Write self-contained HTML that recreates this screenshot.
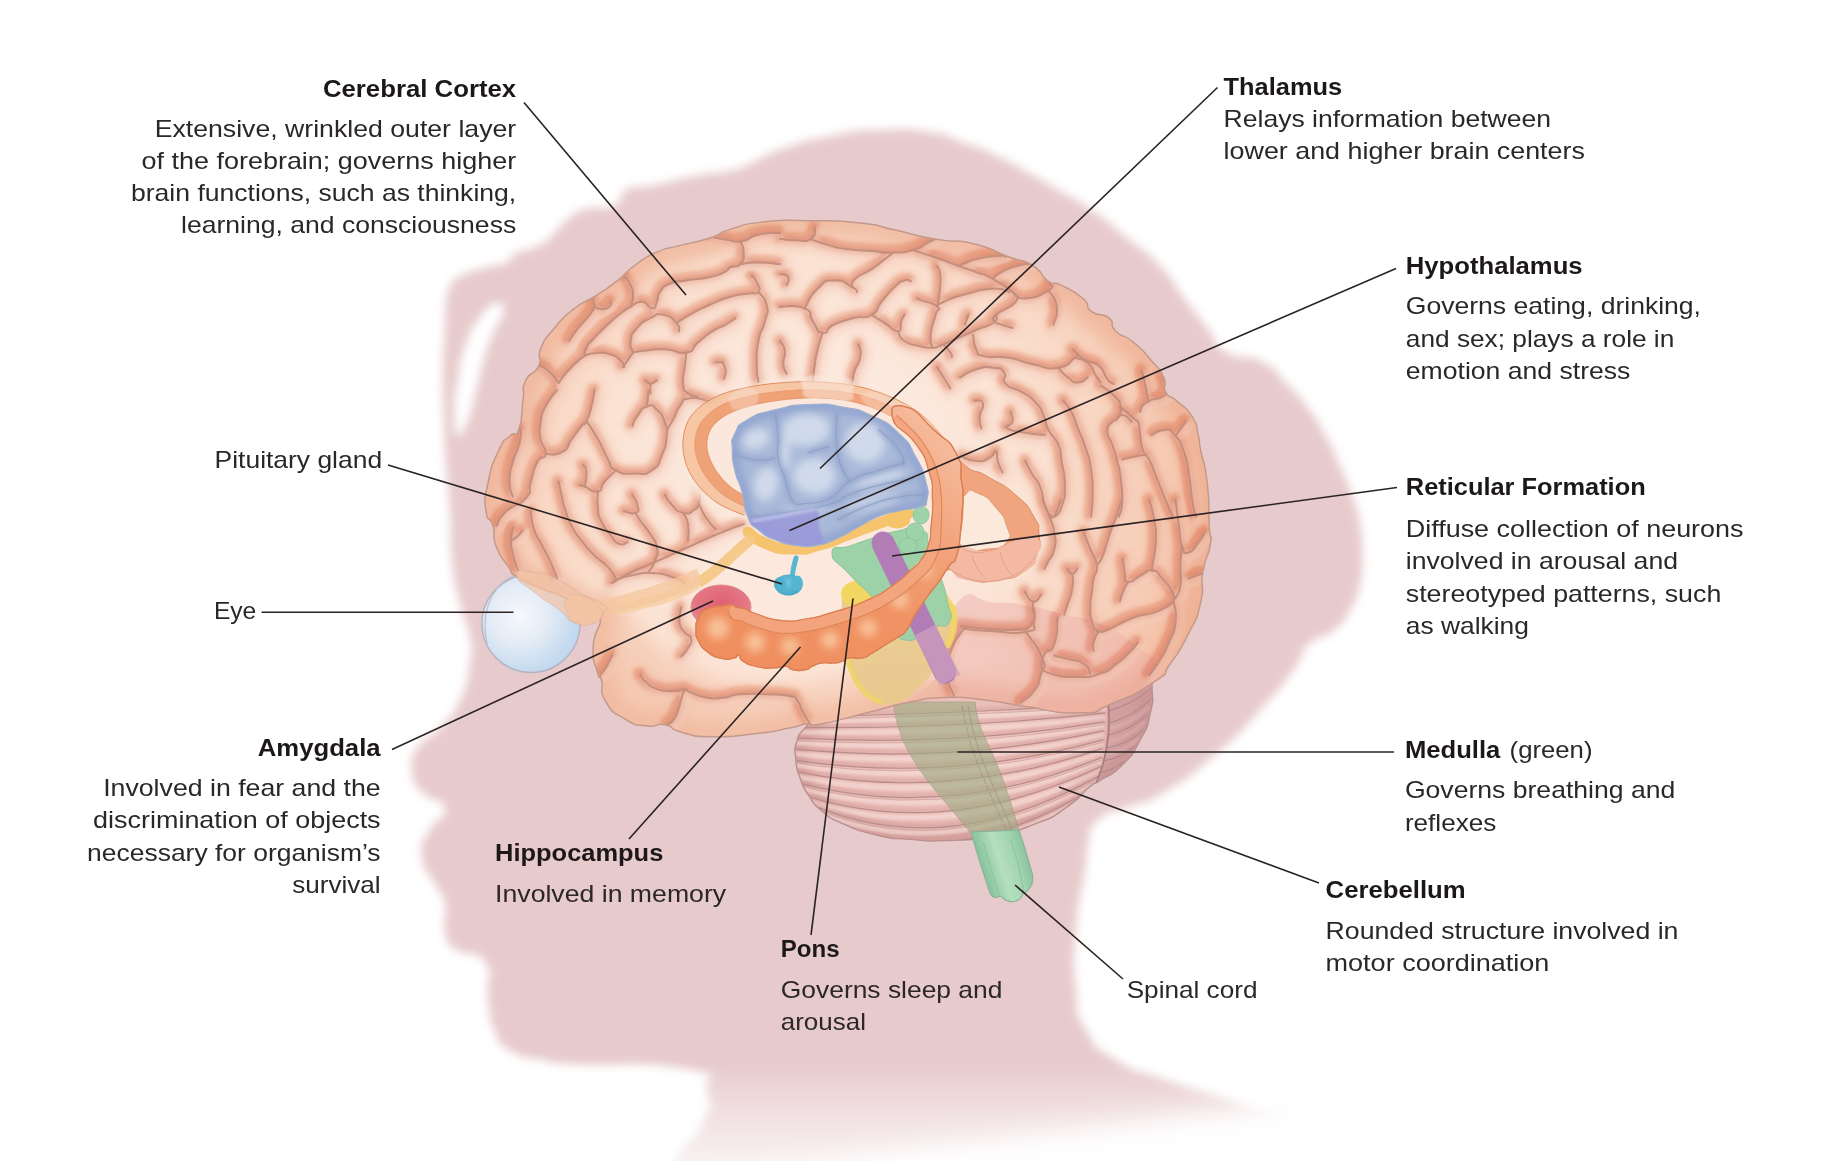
<!DOCTYPE html><html><head><meta charset="utf-8"><title>Brain structures</title>
<style>html,body{margin:0;padding:0;background:#fff}svg{display:block}text{font-family:"Liberation Sans",sans-serif}</style></head><body>
<svg width="1832" height="1161" viewBox="0 0 1832 1161">
<defs>
<filter id="bl6" x="-10%" y="-10%" width="120%" height="120%"><feGaussianBlur stdDeviation="5"/></filter>
<filter id="bl07" x="-10%" y="-10%" width="120%" height="120%"><feGaussianBlur stdDeviation="0.7"/></filter>
<filter id="bl05" x="-10%" y="-10%" width="120%" height="120%"><feGaussianBlur stdDeviation="0.5"/></filter>
<filter id="bl1" x="-10%" y="-10%" width="120%" height="120%"><feGaussianBlur stdDeviation="1"/></filter>
<filter id="bl2" x="-10%" y="-10%" width="120%" height="120%"><feGaussianBlur stdDeviation="2"/></filter>
<filter id="bl3" x="-10%" y="-10%" width="120%" height="120%"><feGaussianBlur stdDeviation="3"/></filter>
<filter id="bl4" x="-10%" y="-10%" width="120%" height="120%"><feGaussianBlur stdDeviation="4"/></filter>
<filter id="bl8" x="-20%" y="-20%" width="140%" height="140%"><feGaussianBlur stdDeviation="8"/></filter>
<filter id="bl14" x="-30%" y="-30%" width="160%" height="160%"><feGaussianBlur stdDeviation="14"/></filter>
<linearGradient id="silfade" gradientUnits="userSpaceOnUse" x1="0" y1="1062" x2="0" y2="1161"><stop offset="0" stop-color="#fff" stop-opacity="0"/><stop offset="0.5" stop-color="#fff" stop-opacity="0.4"/><stop offset="1" stop-color="#fff" stop-opacity="0.72"/></linearGradient>
<radialGradient id="eyeg" cx="0.38" cy="0.42" r="0.68"><stop offset="0" stop-color="#f6f8fc"/><stop offset="0.4" stop-color="#e6edf6"/><stop offset="0.8" stop-color="#c8dcf0"/><stop offset="1" stop-color="#bdd5ee"/></radialGradient>
<radialGradient id="braing" gradientUnits="userSpaceOnUse" cx="820" cy="480" r="430"><stop offset="0" stop-color="#fdf0e8"/><stop offset="0.5" stop-color="#fbe3d4"/><stop offset="0.82" stop-color="#f6cab2"/><stop offset="1" stop-color="#f1b397"/></radialGradient>
<radialGradient id="thalg" gradientUnits="userSpaceOnUse" cx="820" cy="450" r="110"><stop offset="0" stop-color="#c9d5e8"/><stop offset="0.65" stop-color="#afc0dc"/><stop offset="1" stop-color="#94a9d2"/></radialGradient>
<radialGradient id="amyg" cx="0.5" cy="0.4" r="0.6"><stop offset="0" stop-color="#df6274"/><stop offset="0.7" stop-color="#e47684"/><stop offset="1" stop-color="#e88f95"/></radialGradient>
<radialGradient id="pitg" cx="0.45" cy="0.4" r="0.6"><stop offset="0" stop-color="#6cc4dc"/><stop offset="1" stop-color="#45a8c8"/></radialGradient>
<linearGradient id="cordg" gradientUnits="userSpaceOnUse" x1="985" y1="870" x2="1030" y2="856"><stop offset="0" stop-color="#8cc6a0"/><stop offset="0.35" stop-color="#b5dfc0"/><stop offset="0.7" stop-color="#a2d4b0"/><stop offset="1" stop-color="#86bf9a"/></linearGradient>
<radialGradient id="cblg" gradientUnits="userSpaceOnUse" cx="950" cy="740" r="200"><stop offset="0" stop-color="#eec5bf"/><stop offset="0.7" stop-color="#e6b5b0"/><stop offset="1" stop-color="#d7a19f"/></radialGradient>
<linearGradient id="hipg" gradientUnits="userSpaceOnUse" x1="700" y1="680" x2="965" y2="415"><stop offset="0" stop-color="#ef8e5e"/><stop offset="0.5" stop-color="#f09263"/><stop offset="0.7" stop-color="#f2a179"/><stop offset="0.85" stop-color="#f4b391"/><stop offset="1" stop-color="#f7c4a8"/></linearGradient>
<filter id="puff" filterUnits="userSpaceOnUse" x="470" y="205" width="760" height="550" color-interpolation-filters="sRGB">
<feGaussianBlur in="SourceAlpha" stdDeviation="3.2" result="b"/>
<feDiffuseLighting in="b" surfaceScale="-4" diffuseConstant="1" lighting-color="#ffffff" result="l"><feDistantLight azimuth="230" elevation="50"/></feDiffuseLighting>
<feComponentTransfer in="l"><feFuncR type="linear" slope="1.5" intercept="-0.649"/><feFuncG type="linear" slope="1.5" intercept="-0.649"/><feFuncB type="linear" slope="1.5" intercept="-0.649"/></feComponentTransfer>
</filter>
<clipPath id="cbclip"><path d="M583.0,611.0 C571.4,605.0 579.3,605.7 565.0,598.0 C550.7,590.3 556.0,595.0 540.0,588.0 C524.0,581.0 527.7,584.3 517.0,577.0 C506.3,569.7 515.0,576.3 508.0,566.0 C501.0,555.7 501.0,559.3 496.0,546.0 C491.0,532.7 496.3,537.7 493.0,526.0 C489.7,514.3 487.7,525.3 486.0,511.0 C484.3,496.7 483.7,503.3 488.0,483.0 C492.3,462.7 491.7,465.7 499.0,450.0 C506.3,434.3 503.3,443.0 510.0,436.0 C516.7,429.0 514.7,441.0 519.0,429.0 C523.3,417.0 520.8,416.0 523.0,400.0 C525.2,384.0 520.3,392.3 525.5,381.0 C530.7,369.7 533.5,376.8 538.6,366.0 C543.7,355.2 535.7,360.9 540.8,348.5 C545.9,336.1 543.0,341.9 553.9,328.8 C564.8,315.7 559.7,320.1 573.5,309.2 C587.3,298.3 580.8,305.5 595.4,296.0 C610.0,286.5 604.1,291.0 617.2,280.8 C630.3,270.6 621.6,275.0 634.7,265.5 C647.8,256.0 642.0,258.9 656.5,252.4 C671.0,245.9 660.8,250.6 678.3,245.9 C695.8,241.2 690.7,244.0 708.9,238.2 C727.1,232.4 714.0,233.9 732.9,228.4 C751.8,222.9 740.2,224.4 765.7,221.8 C791.2,219.2 777.9,220.3 809.3,220.7 C840.7,221.1 832.2,220.0 860.0,222.9 C887.8,225.8 867.3,224.0 892.8,229.5 C918.3,235.0 909.5,234.6 936.4,239.3 C963.3,244.0 949.5,237.9 973.5,243.7 C997.5,249.5 988.8,249.5 1008.5,256.8 C1028.2,264.1 1019.4,257.5 1032.5,265.5 C1045.6,273.5 1038.3,274.2 1047.8,280.8 C1057.3,287.4 1049.3,279.4 1060.9,285.2 C1072.5,291.0 1072.5,289.6 1082.7,298.3 C1092.9,307.0 1082.7,304.9 1091.4,311.4 C1100.1,317.9 1100.9,311.4 1108.9,317.9 C1116.9,324.4 1107.5,323.0 1115.5,331.0 C1123.5,339.0 1121.3,332.4 1132.9,341.9 C1144.5,351.4 1140.2,347.7 1150.4,359.4 C1160.6,371.1 1158.4,366.0 1163.5,376.9 C1168.6,387.8 1161.3,384.1 1165.7,392.1 C1170.1,400.1 1167.9,392.9 1176.6,400.9 C1185.3,408.9 1184.6,404.6 1191.9,416.2 C1199.2,427.8 1195.5,424.5 1198.4,435.8 C1201.3,447.1 1197.7,434.3 1200.6,450.0 C1203.5,465.7 1204.3,457.3 1207.2,482.8 C1210.1,508.3 1208.2,506.0 1209.3,526.4 C1210.4,546.8 1212.6,528.6 1210.4,543.9 C1208.2,559.2 1206.1,552.7 1202.8,572.3 C1199.5,591.9 1205.7,581.7 1200.6,602.8 C1195.5,623.9 1197.7,615.2 1187.5,635.6 C1177.3,656.0 1180.9,648.7 1170.0,664.0 C1159.1,679.3 1174.4,668.1 1154.8,681.4 C1135.2,694.7 1136.6,693.5 1111.1,704.0 C1085.6,714.5 1107.4,712.1 1078.3,712.8 C1049.2,713.5 1054.9,710.5 1023.8,706.2 C992.7,701.9 1010.5,702.9 985.0,700.0 C959.5,697.1 972.3,696.8 947.3,697.5 C922.3,698.2 935.8,697.2 910.0,702.0 C884.2,706.8 899.3,704.8 870.0,712.0 C840.7,719.2 843.1,719.8 822.0,723.7 C800.9,727.6 817.6,722.3 806.7,723.7 C795.8,725.1 806.0,724.7 789.3,728.0 C772.6,731.3 782.0,730.6 756.5,733.5 C731.0,736.4 737.5,737.2 712.8,736.8 C688.1,736.4 698.3,736.4 682.3,732.4 C666.3,728.4 676.5,727.0 664.8,724.8 C653.1,722.6 660.4,727.7 647.3,725.9 C634.2,724.1 639.3,727.3 625.5,719.3 C611.7,711.3 613.9,714.9 605.9,701.8 C597.9,688.7 604.3,689.7 601.5,680.0 C598.7,670.3 600.4,683.9 597.6,672.7 C594.8,661.5 592.5,665.4 593.2,646.5 C593.9,627.6 603.1,627.7 599.7,615.9 C596.3,604.1 594.6,617.0 583.0,611.0Z"/></clipPath>
<clipPath id="clclip"><path d="M830.0,700.0 C805.6,715.3 817.7,712.2 806.7,725.9 C795.7,739.6 800.5,730.2 796.9,741.1 C793.3,752.0 794.7,746.2 795.8,758.6 C796.9,771.0 795.8,765.9 800.2,778.3 C804.6,790.7 801.6,784.8 808.9,795.7 C816.2,806.6 810.4,801.5 822.0,811.0 C833.6,820.5 825.6,816.1 843.8,824.1 C862.0,832.1 854.8,829.9 876.6,835.0 C898.4,840.1 885.7,837.6 909.3,839.4 C932.9,841.2 920.1,841.6 947.3,840.5 C974.5,839.4 961.9,841.6 991.0,836.1 C1020.1,830.6 1009.2,833.9 1034.7,824.1 C1060.2,814.3 1049.2,819.0 1067.4,806.6 C1085.6,794.2 1078.4,795.7 1089.3,787.0 C1100.2,778.3 1089.3,787.7 1100.2,780.4 C1111.1,773.1 1108.9,778.3 1122.0,765.2 C1135.1,752.1 1130.0,758.6 1139.5,741.1 C1149.0,723.6 1146.2,731.2 1150.4,712.8 C1154.6,694.4 1152.1,703.6 1152.0,686.0 C1151.9,668.4 1157.3,676.7 1150.0,660.0 C1142.7,643.3 1148.3,650.0 1130.0,636.0 C1111.7,622.0 1121.7,627.3 1095.0,618.0 C1068.3,608.7 1081.7,613.0 1050.0,608.0 C1018.3,603.0 1030.0,604.7 1000.0,603.0 C970.0,601.3 978.3,595.7 960.0,603.0 C941.7,610.3 958.3,606.0 945.0,625.0 C931.7,644.0 941.7,641.7 920.0,660.0 C898.3,678.3 910.0,666.7 880.0,680.0 C850.0,693.3 854.4,684.7 830.0,700.0Z"/></clipPath>
<clipPath id="tlclip"><path d="M614.0,579.6 C599.3,592.6 607.5,591.0 601.0,609.0 C594.5,627.0 596.9,619.5 594.4,633.7 C591.9,647.9 592.5,639.2 593.6,651.7 C594.7,664.2 594.2,660.4 597.7,671.3 C601.2,682.2 600.4,675.2 604.2,684.4 C608.0,693.6 603.1,689.7 609.0,699.0 C614.9,708.3 612.7,704.9 622.0,712.3 C631.3,719.7 626.6,717.5 637.0,721.3 C647.4,725.1 643.5,723.5 653.3,723.7 C663.1,723.9 659.8,720.9 666.4,722.0 C673.0,723.1 664.8,723.1 673.0,727.0 C681.2,730.9 676.8,730.6 691.0,733.6 C705.2,736.6 696.5,735.7 715.6,736.0 C734.7,736.3 726.5,736.3 748.3,734.4 C770.1,732.5 763.0,733.3 781.0,730.3 C799.0,727.3 788.6,728.5 802.3,725.4 C816.0,722.3 802.8,725.5 822.0,721.0 C841.2,716.5 832.3,718.3 860.0,712.0 C887.7,705.7 881.7,709.3 905.0,702.0 C928.3,694.7 921.7,707.3 930.0,690.0 C938.3,672.7 943.3,660.0 930.0,650.0 C916.7,640.0 916.7,652.7 890.0,660.0 C863.3,667.3 880.0,665.3 850.0,672.0 C820.0,678.7 833.3,678.7 800.0,680.0 C766.7,681.3 778.3,680.0 750.0,676.0 C721.7,672.0 733.3,676.7 715.0,668.0 C696.7,659.3 704.0,664.3 695.0,650.0 C686.0,635.7 686.3,641.7 688.0,625.0 C689.7,608.3 694.3,613.3 700.0,600.0 C705.7,586.7 711.7,594.3 705.0,585.0 C698.3,575.7 700.0,577.0 680.0,572.0 C660.0,567.0 667.0,567.5 645.0,570.0 C623.0,572.5 628.7,566.6 614.0,579.6Z"/></clipPath>
<clipPath id="thclip"><path d="M732.4,450.0 C732.4,437.6 729.9,443.7 735.0,433.6 C740.1,423.5 734.3,427.7 747.6,419.8 C760.9,411.9 754.3,415.1 775.0,410.0 C795.7,404.9 786.6,405.5 809.6,404.6 C832.6,403.7 823.3,403.7 844.0,407.4 C864.7,411.1 853.3,407.0 871.6,415.7 C889.9,424.4 884.3,419.8 899.0,433.6 C913.7,447.4 906.9,441.4 915.7,457.0 C924.5,472.6 921.7,466.2 925.4,480.5 C929.1,494.8 928.6,491.1 926.8,499.8 C925.0,508.5 929.3,503.0 920.0,506.7 C910.7,510.4 912.8,507.6 899.0,510.8 C885.2,514.0 892.2,510.8 878.5,516.3 C864.8,521.8 871.6,519.9 857.8,527.3 C844.0,534.7 850.8,532.4 837.0,538.4 C823.2,544.4 830.2,543.0 816.5,545.3 C802.8,547.6 809.6,547.2 795.8,545.3 C782.0,543.4 787.4,544.8 775.0,539.7 C762.6,534.6 767.7,537.8 758.6,530.0 C749.5,522.2 753.1,529.1 747.6,516.3 C742.1,503.5 746.2,506.7 742.0,491.5 C737.8,476.3 738.2,484.6 735.0,470.8 C731.8,457.0 732.4,462.4 732.4,450.0Z"/></clipPath>
</defs>
<rect width="1832" height="1161" fill="#fff"/>
<g filter="url(#bl6)"><path d="M445.0,330.0 C446.0,307.0 444.3,319.3 446.0,305.0 C447.7,290.7 445.0,296.7 450.0,287.0 C455.0,277.3 449.3,282.3 461.0,276.0 C472.7,269.7 469.3,272.7 485.0,268.0 C500.7,263.3 498.0,266.7 508.0,262.0 C518.0,257.3 503.7,260.0 515.0,254.0 C526.3,248.0 527.7,252.3 542.0,244.0 C556.3,235.7 547.7,238.7 558.0,229.0 C568.3,219.3 563.3,221.7 573.0,215.0 C582.7,208.3 572.7,212.3 587.0,209.0 C601.3,205.7 603.0,211.3 616.0,205.0 C629.0,198.7 612.7,196.7 626.0,190.0 C639.3,183.3 633.0,189.7 656.0,185.0 C679.0,180.3 669.0,181.0 695.0,176.0 C721.0,171.0 714.3,174.7 734.0,170.0 C753.7,165.3 738.0,169.0 754.0,162.0 C770.0,155.0 756.3,157.7 782.0,149.0 C807.7,140.3 798.3,142.3 831.0,136.0 C863.7,129.7 847.3,131.3 880.0,130.0 C912.7,128.7 901.7,128.0 929.0,132.0 C956.3,136.0 940.0,134.3 962.0,142.0 C984.0,149.7 973.3,145.0 995.0,155.0 C1016.7,165.0 1005.3,160.0 1027.0,172.0 C1048.7,184.0 1038.0,178.0 1060.0,191.0 C1082.0,204.0 1071.0,195.7 1093.0,211.0 C1115.0,226.3 1103.7,218.7 1126.0,237.0 C1148.3,255.3 1140.7,245.7 1160.0,266.0 C1179.3,286.3 1168.0,277.0 1184.0,298.0 C1200.0,319.0 1194.0,311.0 1208.0,329.0 C1222.0,347.0 1208.0,341.0 1226.0,352.0 C1244.0,363.0 1242.3,352.0 1262.0,362.0 C1281.7,372.0 1270.0,367.0 1285.0,382.0 C1300.0,397.0 1293.7,389.3 1307.0,407.0 C1320.3,424.7 1314.0,415.3 1325.0,435.0 C1336.0,454.7 1331.0,446.0 1340.0,466.0 C1349.0,486.0 1345.3,475.3 1352.0,495.0 C1358.7,514.7 1356.7,505.0 1360.0,525.0 C1363.3,545.0 1362.0,535.3 1362.0,555.0 C1362.0,574.7 1364.0,565.7 1360.0,584.0 C1356.0,602.3 1358.7,594.7 1350.0,610.0 C1341.3,625.3 1348.0,618.3 1334.0,630.0 C1320.0,641.7 1321.3,632.0 1308.0,645.0 C1294.7,658.0 1309.3,648.0 1294.0,669.0 C1278.7,690.0 1288.0,679.7 1262.0,708.0 C1236.0,736.3 1249.0,725.7 1216.0,754.0 C1183.0,782.3 1191.3,775.7 1163.0,793.0 C1134.7,810.3 1152.7,797.0 1131.0,806.0 C1109.3,815.0 1112.3,807.0 1098.0,820.0 C1083.7,833.0 1092.3,828.3 1088.0,845.0 C1083.7,861.7 1089.0,841.7 1085.0,870.0 C1081.0,898.3 1079.0,890.0 1076.0,930.0 C1073.0,970.0 1072.7,956.7 1076.0,990.0 C1079.3,1023.3 1072.7,1006.7 1086.0,1030.0 C1099.3,1053.3 1089.3,1043.3 1116.0,1060.0 C1142.7,1076.7 1124.3,1065.0 1166.0,1080.0 C1207.7,1095.0 1196.3,1088.3 1241.0,1105.0 C1285.7,1121.7 1280.3,1098.3 1300.0,1130.0 C1319.7,1161.7 1513.3,1176.7 1300.0,1200.0 C1086.7,1223.3 868.3,1213.0 660.0,1200.0 C451.7,1187.0 661.0,1186.3 675.0,1161.0 C689.0,1135.7 691.3,1147.3 702.0,1124.0 C712.7,1100.7 712.3,1109.3 707.0,1091.0 C701.7,1072.7 731.3,1078.0 686.0,1069.0 C640.7,1060.0 618.3,1067.0 571.0,1064.0 C523.7,1061.0 564.0,1064.3 544.0,1060.0 C524.0,1055.7 527.3,1060.7 511.0,1051.0 C494.7,1041.3 502.7,1048.7 495.0,1031.0 C487.3,1013.3 491.3,1021.0 488.0,998.0 C484.7,975.0 496.0,978.3 485.0,962.0 C474.0,945.7 468.3,959.7 455.0,949.0 C441.7,938.3 448.3,945.3 445.0,930.0 C441.7,914.7 448.3,918.3 445.0,903.0 C441.7,887.7 442.7,899.3 435.0,884.0 C427.3,868.7 424.0,874.7 422.0,857.0 C420.0,839.3 421.3,847.3 429.0,831.0 C436.7,814.7 447.3,821.0 445.0,808.0 C442.7,795.0 433.0,805.0 422.0,792.0 C411.0,779.0 413.0,784.3 412.0,769.0 C411.0,753.7 409.7,759.7 419.0,746.0 C428.3,732.3 426.3,743.3 440.0,728.0 C453.7,712.7 450.0,722.0 460.0,700.0 C470.0,678.0 466.7,682.7 470.0,662.0 C473.3,641.3 473.7,658.7 470.0,638.0 C466.3,617.3 465.0,626.0 459.0,600.0 C453.0,574.0 455.0,590.0 452.0,560.0 C449.0,530.0 452.0,542.0 450.0,510.0 C448.0,478.0 448.0,494.0 446.0,464.0 C444.0,434.0 445.0,450.0 444.0,420.0 C443.0,390.0 442.7,404.0 443.0,374.0 C443.3,344.0 444.0,353.0 445.0,330.0Z" fill="#e7cacc"/><path d="M496.0,304.0 C488.3,306.0 490.0,304.3 480.0,318.0 C470.0,331.7 473.3,324.3 466.0,345.0 C458.7,365.7 461.7,357.7 458.0,380.0 C454.3,402.3 455.0,394.0 455.0,412.0 C455.0,430.0 454.3,430.0 458.0,434.0 C461.7,438.0 460.7,436.0 466.0,424.0 C471.3,412.0 468.7,417.7 474.0,398.0 C479.3,378.3 476.0,386.0 482.0,365.0 C488.0,344.0 485.0,352.7 492.0,335.0 C499.0,317.3 501.7,322.3 503.0,312.0 C504.3,301.7 503.7,302.0 496.0,304.0Z" fill="#fff"/></g><rect x="400" y="1062" width="1100" height="99" fill="url(#silfade)"/><path d="M1330,1075 L1262,1106 L1100,1127 L900,1152 L720,1180 L720,1260 L1450,1260 L1450,1075Z" fill="#fff" filter="url(#bl14)"/>
<circle cx="531" cy="623.5" r="49" fill="url(#eyeg)" stroke="#b3b6c2" stroke-width="1.5"/><path d="M487.5,646 Q479,612 498,587 Q506,578 516,575" fill="none" stroke="#b9c0cd" stroke-width="1.2"/>
<path d="M830.0,700.0 C805.6,715.3 817.7,712.2 806.7,725.9 C795.7,739.6 800.5,730.2 796.9,741.1 C793.3,752.0 794.7,746.2 795.8,758.6 C796.9,771.0 795.8,765.9 800.2,778.3 C804.6,790.7 801.6,784.8 808.9,795.7 C816.2,806.6 810.4,801.5 822.0,811.0 C833.6,820.5 825.6,816.1 843.8,824.1 C862.0,832.1 854.8,829.9 876.6,835.0 C898.4,840.1 885.7,837.6 909.3,839.4 C932.9,841.2 920.1,841.6 947.3,840.5 C974.5,839.4 961.9,841.6 991.0,836.1 C1020.1,830.6 1009.2,833.9 1034.7,824.1 C1060.2,814.3 1049.2,819.0 1067.4,806.6 C1085.6,794.2 1078.4,795.7 1089.3,787.0 C1100.2,778.3 1089.3,787.7 1100.2,780.4 C1111.1,773.1 1108.9,778.3 1122.0,765.2 C1135.1,752.1 1130.0,758.6 1139.5,741.1 C1149.0,723.6 1146.2,731.2 1150.4,712.8 C1154.6,694.4 1152.1,703.6 1152.0,686.0 C1151.9,668.4 1157.3,676.7 1150.0,660.0 C1142.7,643.3 1148.3,650.0 1130.0,636.0 C1111.7,622.0 1121.7,627.3 1095.0,618.0 C1068.3,608.7 1081.7,613.0 1050.0,608.0 C1018.3,603.0 1030.0,604.7 1000.0,603.0 C970.0,601.3 978.3,595.7 960.0,603.0 C941.7,610.3 958.3,606.0 945.0,625.0 C931.7,644.0 941.7,641.7 920.0,660.0 C898.3,678.3 910.0,666.7 880.0,680.0 C850.0,693.3 854.4,684.7 830.0,700.0Z" fill="url(#cblg)"/><g clip-path="url(#clclip)" fill="none"><path d="M830.0,700.0 C805.6,715.3 817.7,712.2 806.7,725.9 C795.7,739.6 800.5,730.2 796.9,741.1 C793.3,752.0 794.7,746.2 795.8,758.6 C796.9,771.0 795.8,765.9 800.2,778.3 C804.6,790.7 801.6,784.8 808.9,795.7 C816.2,806.6 810.4,801.5 822.0,811.0 C833.6,820.5 825.6,816.1 843.8,824.1 C862.0,832.1 854.8,829.9 876.6,835.0 C898.4,840.1 885.7,837.6 909.3,839.4 C932.9,841.2 920.1,841.6 947.3,840.5 C974.5,839.4 961.9,841.6 991.0,836.1 C1020.1,830.6 1009.2,833.9 1034.7,824.1 C1060.2,814.3 1049.2,819.0 1067.4,806.6 C1085.6,794.2 1078.4,795.7 1089.3,787.0 C1100.2,778.3 1089.3,787.7 1100.2,780.4 C1111.1,773.1 1108.9,778.3 1122.0,765.2 C1135.1,752.1 1130.0,758.6 1139.5,741.1 C1149.0,723.6 1146.2,731.2 1150.4,712.8 C1154.6,694.4 1152.1,703.6 1152.0,686.0 C1151.9,668.4 1157.3,676.7 1150.0,660.0 C1142.7,643.3 1148.3,650.0 1130.0,636.0 C1111.7,622.0 1121.7,627.3 1095.0,618.0 C1068.3,608.7 1081.7,613.0 1050.0,608.0 C1018.3,603.0 1030.0,604.7 1000.0,603.0 C970.0,601.3 978.3,595.7 960.0,603.0 C941.7,610.3 958.3,606.0 945.0,625.0 C931.7,644.0 941.7,641.7 920.0,660.0 C898.3,678.3 910.0,666.7 880.0,680.0 C850.0,693.3 854.4,684.7 830.0,700.0Z" stroke="#cf9895" stroke-width="24" filter="url(#bl4)" opacity="0.75"/><g stroke="#f8e0db" stroke-width="5.5" opacity="0.62" filter="url(#bl1)"><path d="M792.0,722.0 Q959.0,719.0 1106.0,709.0"/><path d="M788.9,732.2 Q954.3,734.9 1105.3,717.9"/><path d="M785.8,742.4 Q949.7,752.6 1104.7,726.8"/><path d="M782.7,752.7 Q945.0,771.2 1104.0,735.7"/><path d="M779.6,762.9 Q940.3,790.5 1103.3,744.6"/><path d="M779.6,773.1 Q937.2,810.2 1102.7,753.4"/><path d="M782.7,783.3 Q935.7,830.4 1102.0,762.3"/><path d="M785.8,793.6 Q934.1,851.0 1101.3,771.2"/><path d="M798.9,803.8 Q937.6,871.8 1100.7,780.1"/><path d="M802.0,814.0 Q936.0,893.0 1100.0,789.0"/></g><g stroke="#d59f9b" stroke-width="3.5" opacity="0.45" filter="url(#bl1)"><path d="M792.0,715.0 Q959.0,712.0 1106.0,702.0"/><path d="M788.9,725.2 Q954.3,727.9 1105.3,710.9"/><path d="M785.8,735.4 Q949.7,745.6 1104.7,719.8"/><path d="M782.7,745.7 Q945.0,764.2 1104.0,728.7"/><path d="M779.6,755.9 Q940.3,783.5 1103.3,737.6"/><path d="M779.6,766.1 Q937.2,803.2 1102.7,746.4"/><path d="M782.7,776.3 Q935.7,823.4 1102.0,755.3"/><path d="M785.8,786.6 Q934.1,844.0 1101.3,764.2"/><path d="M798.9,796.8 Q937.6,864.8 1100.7,773.1"/><path d="M802.0,807.0 Q936.0,886.0 1100.0,782.0"/></g><g stroke="#b88c8a" stroke-width="1.2"><path d="M792.0,717.0 Q959.0,714.0 1106.0,704.0"/><path d="M788.9,727.2 Q954.3,729.9 1105.3,712.9"/><path d="M785.8,737.4 Q949.7,747.6 1104.7,721.8"/><path d="M782.7,747.7 Q945.0,766.2 1104.0,730.7"/><path d="M779.6,757.9 Q940.3,785.5 1103.3,739.6"/><path d="M779.6,768.1 Q937.2,805.2 1102.7,748.4"/><path d="M782.7,778.3 Q935.7,825.4 1102.0,757.3"/><path d="M785.8,788.6 Q934.1,846.0 1101.3,766.2"/><path d="M798.9,798.8 Q937.6,866.8 1100.7,775.1"/><path d="M802.0,809.0 Q936.0,888.0 1100.0,784.0"/></g><g stroke="#c69a97" stroke-width="0.8" opacity="0.8"><path d="M792.0,719.6 Q959.0,716.6 1106.0,706.6"/><path d="M785.8,740.0 Q949.7,750.2 1104.7,724.4"/><path d="M779.6,760.5 Q940.3,788.1 1103.3,742.2"/><path d="M782.7,780.9 Q935.7,828.0 1102.0,759.9"/><path d="M798.9,801.4 Q937.6,869.4 1100.7,777.7"/></g><path d="M1106,690 L1165,690 L1165,760 L1094,792 Q1112,745 1106,690Z" fill="#c08f93" opacity="0.42"/><g stroke="#a98386" stroke-width="1" opacity="0.9"><path d="M1108,711 Q1132,705 1151,688"/><path d="M1109,723 Q1132,717 1150,700"/><path d="M1109,735 Q1130,730 1148,714"/><path d="M1107,748 Q1128,744 1143,730"/><path d="M1103,761 Q1122,758 1135,746"/><path d="M1098,773 Q1113,771 1124,761"/></g><g stroke="#e3c0c0" stroke-width="3" opacity="0.45" filter="url(#bl1)"><path d="M1109,729 Q1131,724 1149,707"/><path d="M1108,742 Q1129,737 1145,722"/><path d="M1105,755 Q1125,751 1139,738"/></g><path d="M1108,700 Q1113,745 1095,786" stroke="#a07b7d" stroke-width="1.5"/></g><path d="M830.0,700.0 C805.6,715.3 817.7,712.2 806.7,725.9 C795.7,739.6 800.5,730.2 796.9,741.1 C793.3,752.0 794.7,746.2 795.8,758.6 C796.9,771.0 795.8,765.9 800.2,778.3 C804.6,790.7 801.6,784.8 808.9,795.7 C816.2,806.6 810.4,801.5 822.0,811.0 C833.6,820.5 825.6,816.1 843.8,824.1 C862.0,832.1 854.8,829.9 876.6,835.0 C898.4,840.1 885.7,837.6 909.3,839.4 C932.9,841.2 920.1,841.6 947.3,840.5 C974.5,839.4 961.9,841.6 991.0,836.1 C1020.1,830.6 1009.2,833.9 1034.7,824.1 C1060.2,814.3 1049.2,819.0 1067.4,806.6 C1085.6,794.2 1078.4,795.7 1089.3,787.0 C1100.2,778.3 1089.3,787.7 1100.2,780.4 C1111.1,773.1 1108.9,778.3 1122.0,765.2 C1135.1,752.1 1130.0,758.6 1139.5,741.1 C1149.0,723.6 1146.2,731.2 1150.4,712.8 C1154.6,694.4 1152.1,703.6 1152.0,686.0 C1151.9,668.4 1157.3,676.7 1150.0,660.0 C1142.7,643.3 1148.3,650.0 1130.0,636.0 C1111.7,622.0 1121.7,627.3 1095.0,618.0 C1068.3,608.7 1081.7,613.0 1050.0,608.0 C1018.3,603.0 1030.0,604.7 1000.0,603.0 C970.0,601.3 978.3,595.7 960.0,603.0 C941.7,610.3 958.3,606.0 945.0,625.0 C931.7,644.0 941.7,641.7 920.0,660.0 C898.3,678.3 910.0,666.7 880.0,680.0 C850.0,693.3 854.4,684.7 830.0,700.0Z" fill="none" stroke="#b8908e" stroke-width="1.4"/>
<path d="M893,702 Q897,730 907,749 Q918,770 935,790 Q952,810 970,832 L1019,830 Q1012,806 1005,785 Q996,760 986,740 Q977,722 975,702 Z" fill="#a2ac86" opacity="0.66" stroke="#9a977e" stroke-width="1"/><path d="M962,706 Q968,740 978,765 Q990,795 1006,829" fill="none" stroke="#8f907a" stroke-width="1" opacity="0.7" stroke-dasharray="5 2"/><path d="M968,705 Q973,738 984,764 Q996,794 1012,829" fill="none" stroke="#8f907a" stroke-width="1" opacity="0.6"/><path d="M971,832 L978,856 L985,878 L990,893 Q993,899 998,897 Q1001,895 1003,898 Q1008,903 1016,901 Q1022,899 1023,893 Q1027,893 1031,886 Q1034,880 1032,873 L1026,852 L1019,830 Z" fill="url(#cordg)" stroke="#8bb39a" stroke-width="1.2"/><path d="M983,842 Q992,872 1000,897" fill="none" stroke="#8fc0a0" stroke-width="1"/><path d="M1010,838 Q1020,865 1024,892" fill="none" stroke="#8fc0a0" stroke-width="1"/><path d="M1013,836 Q1024,862 1029,884" fill="none" stroke="#9acaa8" stroke-width="0.8"/>
<g clip-path="url(#cbclip)"><path d="M583.0,611.0 C571.4,605.0 579.3,605.7 565.0,598.0 C550.7,590.3 556.0,595.0 540.0,588.0 C524.0,581.0 527.7,584.3 517.0,577.0 C506.3,569.7 515.0,576.3 508.0,566.0 C501.0,555.7 501.0,559.3 496.0,546.0 C491.0,532.7 496.3,537.7 493.0,526.0 C489.7,514.3 487.7,525.3 486.0,511.0 C484.3,496.7 483.7,503.3 488.0,483.0 C492.3,462.7 491.7,465.7 499.0,450.0 C506.3,434.3 503.3,443.0 510.0,436.0 C516.7,429.0 514.7,441.0 519.0,429.0 C523.3,417.0 520.8,416.0 523.0,400.0 C525.2,384.0 520.3,392.3 525.5,381.0 C530.7,369.7 533.5,376.8 538.6,366.0 C543.7,355.2 535.7,360.9 540.8,348.5 C545.9,336.1 543.0,341.9 553.9,328.8 C564.8,315.7 559.7,320.1 573.5,309.2 C587.3,298.3 580.8,305.5 595.4,296.0 C610.0,286.5 604.1,291.0 617.2,280.8 C630.3,270.6 621.6,275.0 634.7,265.5 C647.8,256.0 642.0,258.9 656.5,252.4 C671.0,245.9 660.8,250.6 678.3,245.9 C695.8,241.2 690.7,244.0 708.9,238.2 C727.1,232.4 714.0,233.9 732.9,228.4 C751.8,222.9 740.2,224.4 765.7,221.8 C791.2,219.2 777.9,220.3 809.3,220.7 C840.7,221.1 832.2,220.0 860.0,222.9 C887.8,225.8 867.3,224.0 892.8,229.5 C918.3,235.0 909.5,234.6 936.4,239.3 C963.3,244.0 949.5,237.9 973.5,243.7 C997.5,249.5 988.8,249.5 1008.5,256.8 C1028.2,264.1 1019.4,257.5 1032.5,265.5 C1045.6,273.5 1038.3,274.2 1047.8,280.8 C1057.3,287.4 1049.3,279.4 1060.9,285.2 C1072.5,291.0 1072.5,289.6 1082.7,298.3 C1092.9,307.0 1082.7,304.9 1091.4,311.4 C1100.1,317.9 1100.9,311.4 1108.9,317.9 C1116.9,324.4 1107.5,323.0 1115.5,331.0 C1123.5,339.0 1121.3,332.4 1132.9,341.9 C1144.5,351.4 1140.2,347.7 1150.4,359.4 C1160.6,371.1 1158.4,366.0 1163.5,376.9 C1168.6,387.8 1161.3,384.1 1165.7,392.1 C1170.1,400.1 1167.9,392.9 1176.6,400.9 C1185.3,408.9 1184.6,404.6 1191.9,416.2 C1199.2,427.8 1195.5,424.5 1198.4,435.8 C1201.3,447.1 1197.7,434.3 1200.6,450.0 C1203.5,465.7 1204.3,457.3 1207.2,482.8 C1210.1,508.3 1208.2,506.0 1209.3,526.4 C1210.4,546.8 1212.6,528.6 1210.4,543.9 C1208.2,559.2 1206.1,552.7 1202.8,572.3 C1199.5,591.9 1205.7,581.7 1200.6,602.8 C1195.5,623.9 1197.7,615.2 1187.5,635.6 C1177.3,656.0 1180.9,648.7 1170.0,664.0 C1159.1,679.3 1174.4,668.1 1154.8,681.4 C1135.2,694.7 1136.6,693.5 1111.1,704.0 C1085.6,714.5 1107.4,712.1 1078.3,712.8 C1049.2,713.5 1054.9,710.5 1023.8,706.2 C992.7,701.9 1010.5,702.9 985.0,700.0 C959.5,697.1 972.3,696.8 947.3,697.5 C922.3,698.2 935.8,697.2 910.0,702.0 C884.2,706.8 899.3,704.8 870.0,712.0 C840.7,719.2 843.1,719.8 822.0,723.7 C800.9,727.6 817.6,722.3 806.7,723.7 C795.8,725.1 806.0,724.7 789.3,728.0 C772.6,731.3 782.0,730.6 756.5,733.5 C731.0,736.4 737.5,737.2 712.8,736.8 C688.1,736.4 698.3,736.4 682.3,732.4 C666.3,728.4 676.5,727.0 664.8,724.8 C653.1,722.6 660.4,727.7 647.3,725.9 C634.2,724.1 639.3,727.3 625.5,719.3 C611.7,711.3 613.9,714.9 605.9,701.8 C597.9,688.7 604.3,689.7 601.5,680.0 C598.7,670.3 600.4,683.9 597.6,672.7 C594.8,661.5 592.5,665.4 593.2,646.5 C593.9,627.6 603.1,627.7 599.7,615.9 C596.3,604.1 594.6,617.0 583.0,611.0Z" fill="url(#braing)"/><path d="M583.0,611.0 C571.4,605.0 579.3,605.7 565.0,598.0 C550.7,590.3 556.0,595.0 540.0,588.0 C524.0,581.0 527.7,584.3 517.0,577.0 C506.3,569.7 515.0,576.3 508.0,566.0 C501.0,555.7 501.0,559.3 496.0,546.0 C491.0,532.7 496.3,537.7 493.0,526.0 C489.7,514.3 487.7,525.3 486.0,511.0 C484.3,496.7 483.7,503.3 488.0,483.0 C492.3,462.7 491.7,465.7 499.0,450.0 C506.3,434.3 503.3,443.0 510.0,436.0 C516.7,429.0 514.7,441.0 519.0,429.0 C523.3,417.0 520.8,416.0 523.0,400.0 C525.2,384.0 520.3,392.3 525.5,381.0 C530.7,369.7 533.5,376.8 538.6,366.0 C543.7,355.2 535.7,360.9 540.8,348.5 C545.9,336.1 543.0,341.9 553.9,328.8 C564.8,315.7 559.7,320.1 573.5,309.2 C587.3,298.3 580.8,305.5 595.4,296.0 C610.0,286.5 604.1,291.0 617.2,280.8 C630.3,270.6 621.6,275.0 634.7,265.5 C647.8,256.0 642.0,258.9 656.5,252.4 C671.0,245.9 660.8,250.6 678.3,245.9 C695.8,241.2 690.7,244.0 708.9,238.2 C727.1,232.4 714.0,233.9 732.9,228.4 C751.8,222.9 740.2,224.4 765.7,221.8 C791.2,219.2 777.9,220.3 809.3,220.7 C840.7,221.1 832.2,220.0 860.0,222.9 C887.8,225.8 867.3,224.0 892.8,229.5 C918.3,235.0 909.5,234.6 936.4,239.3 C963.3,244.0 949.5,237.9 973.5,243.7 C997.5,249.5 988.8,249.5 1008.5,256.8 C1028.2,264.1 1019.4,257.5 1032.5,265.5 C1045.6,273.5 1038.3,274.2 1047.8,280.8 C1057.3,287.4 1049.3,279.4 1060.9,285.2 C1072.5,291.0 1072.5,289.6 1082.7,298.3 C1092.9,307.0 1082.7,304.9 1091.4,311.4 C1100.1,317.9 1100.9,311.4 1108.9,317.9 C1116.9,324.4 1107.5,323.0 1115.5,331.0 C1123.5,339.0 1121.3,332.4 1132.9,341.9 C1144.5,351.4 1140.2,347.7 1150.4,359.4 C1160.6,371.1 1158.4,366.0 1163.5,376.9 C1168.6,387.8 1161.3,384.1 1165.7,392.1 C1170.1,400.1 1167.9,392.9 1176.6,400.9 C1185.3,408.9 1184.6,404.6 1191.9,416.2 C1199.2,427.8 1195.5,424.5 1198.4,435.8 C1201.3,447.1 1197.7,434.3 1200.6,450.0 C1203.5,465.7 1204.3,457.3 1207.2,482.8 C1210.1,508.3 1208.2,506.0 1209.3,526.4 C1210.4,546.8 1212.6,528.6 1210.4,543.9 C1208.2,559.2 1206.1,552.7 1202.8,572.3 C1199.5,591.9 1205.7,581.7 1200.6,602.8 C1195.5,623.9 1197.7,615.2 1187.5,635.6 C1177.3,656.0 1180.9,648.7 1170.0,664.0 C1159.1,679.3 1174.4,668.1 1154.8,681.4 C1135.2,694.7 1136.6,693.5 1111.1,704.0 C1085.6,714.5 1107.4,712.1 1078.3,712.8 C1049.2,713.5 1054.9,710.5 1023.8,706.2 C992.7,701.9 1010.5,702.9 985.0,700.0 C959.5,697.1 972.3,696.8 947.3,697.5 C922.3,698.2 935.8,697.2 910.0,702.0 C884.2,706.8 899.3,704.8 870.0,712.0 C840.7,719.2 843.1,719.8 822.0,723.7 C800.9,727.6 817.6,722.3 806.7,723.7 C795.8,725.1 806.0,724.7 789.3,728.0 C772.6,731.3 782.0,730.6 756.5,733.5 C731.0,736.4 737.5,737.2 712.8,736.8 C688.1,736.4 698.3,736.4 682.3,732.4 C666.3,728.4 676.5,727.0 664.8,724.8 C653.1,722.6 660.4,727.7 647.3,725.9 C634.2,724.1 639.3,727.3 625.5,719.3 C611.7,711.3 613.9,714.9 605.9,701.8 C597.9,688.7 604.3,689.7 601.5,680.0 C598.7,670.3 600.4,683.9 597.6,672.7 C594.8,661.5 592.5,665.4 593.2,646.5 C593.9,627.6 603.1,627.7 599.7,615.9 C596.3,604.1 594.6,617.0 583.0,611.0Z" fill="none" stroke="#ecab8d" stroke-width="34" filter="url(#bl8)" opacity="0.6"/><path d="M957.0,603.0 C974.0,583.9 972.0,601.6 996.0,602.6 C1020.0,603.6 1007.0,602.2 1029.0,606.0 C1051.0,609.8 1038.3,608.0 1062.0,614.0 C1085.7,620.0 1075.7,613.7 1100.0,624.0 C1124.3,634.3 1115.0,629.0 1135.0,645.0 C1155.0,661.0 1148.3,647.0 1160.0,672.0 C1171.7,697.0 1243.3,704.0 1170.0,720.0 C1096.7,736.0 1015.0,740.0 940.0,720.0 C865.0,700.0 939.3,699.0 945.0,660.0 C950.7,621.0 940.0,622.1 957.0,603.0Z" fill="#e9a9a6" opacity="0.42"/><path d="M612.0,600.0 C632.0,596.7 620.7,616.0 650.0,640.0 C679.3,664.0 663.3,657.3 700.0,672.0 C736.7,686.7 716.7,682.0 760.0,684.0 C803.3,686.0 783.3,686.0 830.0,678.0 C876.7,670.0 863.3,656.0 900.0,660.0 C936.7,664.0 940.0,672.7 940.0,690.0 C940.0,707.3 940.0,698.7 900.0,712.0 C860.0,725.3 873.3,720.7 820.0,730.0 C766.7,739.3 793.3,739.3 740.0,740.0 C686.7,740.7 703.3,743.7 660.0,732.0 C616.7,720.3 633.3,732.3 610.0,705.0 C586.7,677.7 589.3,685.0 590.0,650.0 C590.7,615.0 592.0,603.3 612.0,600.0Z" fill="#f3bfa4" opacity="0.45" filter="url(#bl8)"/><g fill="none" stroke-linecap="round" stroke-linejoin="round"><g stroke="#ecae96" stroke-width="16" opacity="0.45" filter="url(#bl4)"><path d="M538.1,364.7 C541.7,366.9 542.0,365.3 548.8,371.3 C555.6,377.3 555.3,378.9 558.6,382.8"/><path d="M558.6,382.8 C561.3,379.2 560.8,378.9 566.8,372.1 C572.8,365.3 570.6,367.8 576.6,362.3 C582.6,356.8 582.1,357.9 584.8,355.7"/><path d="M584.8,355.7 C588.1,354.9 586.4,353.8 594.6,353.3 C602.8,352.7 600.6,351.6 609.4,354.1 C618.1,356.6 615.9,356.3 620.8,360.7 C625.7,365.0 623.0,365.0 624.1,367.2"/><path d="M584.8,355.7 C585.3,353.0 583.2,353.6 586.4,347.6 C589.7,341.6 587.5,345.4 594.6,337.7 C601.7,330.1 599.0,332.8 607.7,324.6 C616.5,316.4 613.2,319.2 620.8,313.2 C628.5,307.2 627.4,308.8 630.7,306.6"/><path d="M630.7,306.6 C631.5,302.8 633.4,302.8 633.1,295.2 C632.8,287.5 632.6,289.7 629.8,283.7 C627.1,277.7 626.6,279.3 624.9,277.1"/><path d="M569.2,341.0 C572.2,336.6 571.4,336.6 578.3,327.9 C585.1,319.2 584.3,321.9 589.7,314.8 C595.2,307.7 593.0,309.3 594.6,306.6"/><path d="M594.6,306.6 C596.8,307.4 596.3,309.1 601.2,309.1 C606.1,309.1 606.1,309.1 609.4,306.6 C612.6,304.2 610.5,303.3 611.0,301.7"/><path d="M594.6,306.6 L593.0,299.2"/><path d="M630.7,306.6 C634.5,305.0 635.0,301.2 642.1,301.7 C649.2,302.2 647.0,308.3 651.9,308.3 C656.9,308.3 654.1,307.2 656.9,301.7 C659.6,296.2 655.8,297.9 660.1,291.9 C664.5,285.9 661.2,287.5 670.0,283.7 C678.7,279.9 673.2,282.6 686.3,280.4 C699.4,278.2 696.7,279.9 709.3,277.1 C721.8,274.4 716.9,275.5 724.0,272.2 C731.1,269.0 725.1,270.0 730.5,267.3 C736.0,264.6 736.0,269.0 740.4,264.0 C744.7,259.1 743.6,260.2 743.6,252.6 C743.6,244.9 741.5,244.9 740.4,241.1"/><path d="M633.1,352.5 C632.3,348.6 629.3,349.2 630.7,341.0 C632.0,332.8 630.7,335.5 637.2,327.9 C643.8,320.3 641.6,322.4 650.3,318.1 C659.0,313.7 654.7,313.2 663.4,314.8 C672.1,316.4 671.3,317.5 676.5,323.0 C681.7,328.4 678.1,328.4 679.0,331.2"/><path d="M676.5,323.0 C680.9,320.3 678.7,320.8 689.6,314.8 C700.5,308.8 695.6,311.0 709.3,305.0 C722.9,299.0 717.4,300.6 730.5,296.8 C743.6,293.0 739.3,295.2 748.6,293.5 C757.8,291.9 755.7,295.7 758.4,291.9 C761.1,288.1 758.9,287.5 756.7,282.1 C754.6,276.6 753.5,277.7 751.8,275.5"/><path d="M633.1,352.5 C636.7,351.9 633.1,351.9 643.8,350.8 C654.4,349.7 650.9,348.6 665.0,349.2 C679.2,349.7 675.4,354.7 686.3,352.5 C697.2,350.3 689.1,349.7 697.8,342.6 C706.5,335.5 703.3,337.2 712.5,331.2 C721.8,325.2 718.0,329.0 725.6,324.6 C733.3,320.3 732.2,320.3 735.5,318.1"/><path d="M686.3,352.5 C685.8,357.4 685.8,356.8 684.7,367.2 C683.6,377.6 682.0,374.8 683.1,383.6 C684.1,392.3 683.1,389.0 688.0,393.4 C692.9,397.8 694.5,395.6 697.8,396.7"/><path d="M722.4,362.3 C723.4,365.0 725.1,365.0 725.6,370.5 C726.2,375.9 724.5,375.9 724.0,378.7"/><path d="M715.8,362.3 L722.4,362.3"/><path d="M758.4,291.9 C761.1,296.2 764.4,295.2 766.6,305.0 C768.8,314.8 767.7,309.3 764.9,321.4 C762.2,333.4 761.1,326.3 758.4,341.0 C755.7,355.7 756.7,351.9 756.7,365.6 C756.7,379.2 757.8,376.5 758.4,381.9"/><path d="M645.4,380.3 C647.0,381.4 646.5,383.6 650.3,383.6 C654.1,383.6 654.7,381.4 656.9,380.3"/><path d="M650.3,383.6 L650.3,393.4"/><path d="M622.5,367.2 C624.1,365.0 623.8,365.6 627.4,360.7 C630.9,355.7 631.2,355.2 633.1,352.5"/><path d="M740.4,264.0 C746.4,263.5 745.2,262.4 758.4,262.4 C771.6,262.4 772.8,263.5 780.0,264.0"/><path d="M709.3,236.2 C714.7,237.3 714.7,237.8 725.6,239.5 C736.6,241.1 731.1,242.8 742.0,241.1 C752.9,239.5 745.7,237.3 758.4,234.6 C771.0,231.8 772.8,233.5 780.0,232.9"/><path d="M780.0,238.7 C785.5,239.2 786.0,240.3 796.4,240.3 C806.7,240.3 804.8,242.8 811.1,238.7 C817.4,234.6 813.8,231.6 815.2,228.0"/><path d="M811.1,239.5 C817.1,241.4 816.6,241.9 829.1,245.2 C841.7,248.5 834.6,247.4 848.8,249.3 C863.0,251.2 857.5,249.8 871.7,250.9 C885.9,252.0 877.7,252.8 891.4,252.6 C905.0,252.3 900.6,253.4 912.6,250.1 C924.7,246.8 920.3,246.3 927.4,242.8 C934.5,239.2 931.7,240.6 933.9,239.5"/><path d="M912.6,250.1 C920.3,252.6 920.3,252.3 935.6,257.5 C950.9,262.7 944.8,260.8 958.5,265.7 C972.1,270.6 965.0,267.9 976.5,272.2 C988.0,276.6 980.9,272.2 992.9,278.8 C1004.9,285.3 1006.0,287.5 1012.5,291.9"/><path d="M958.5,265.7 C964.5,263.5 963.4,262.4 976.5,259.1 C989.6,255.9 988.0,256.7 997.8,255.9 C1007.6,255.0 1003.3,256.4 1006.0,256.7"/><path d="M992.9,278.8 C995.6,276.6 992.9,276.6 1001.1,272.2 C1009.3,267.9 1008.2,268.4 1017.4,265.7 C1026.7,262.9 1025.1,264.6 1028.9,264.0"/><path d="M1012.5,291.9 C1016.9,294.1 1013.6,299.0 1025.6,298.4 C1037.6,297.9 1040.4,295.2 1048.6,290.2 C1056.7,285.3 1049.7,285.9 1050.2,283.7"/><path d="M1048.6,290.2 C1051.3,295.7 1055.1,295.2 1056.7,306.6 C1058.4,318.1 1054.6,318.6 1053.5,324.6"/><path d="M1012.5,291.9 C1013.6,295.2 1021.3,294.1 1015.8,301.7 C1010.3,309.3 1003.3,308.3 996.2,314.8 C989.1,321.4 995.1,319.2 994.5,321.4"/><path d="M780.0,273.9 C782.7,275.0 786.0,273.3 788.2,277.1 C790.4,281.0 787.1,282.6 786.6,285.3"/><path d="M780.0,306.6 C788.2,307.2 793.6,303.3 804.6,308.3 C815.5,313.2 806.7,313.2 812.8,321.4 C818.8,329.5 815.5,331.7 822.6,332.8 C829.7,333.9 823.7,329.5 834.0,324.6 C844.4,319.7 841.1,321.4 853.7,318.1 C866.2,314.8 862.4,320.3 871.7,314.8 C881.0,309.3 873.9,311.0 881.5,301.7 C889.2,292.4 887.0,294.1 894.6,287.0 C902.3,279.9 899.0,282.3 904.5,280.4 C909.9,278.5 908.8,281.0 911.0,281.2"/><path d="M804.6,308.3 C808.9,301.7 807.8,297.9 817.7,288.6 C827.5,279.3 822.6,281.0 834.0,280.4 C845.5,279.9 844.4,283.1 852.1,287.0 C859.7,290.8 855.3,290.2 857.0,291.9"/><path d="M852.1,287.0 C853.1,284.2 848.8,284.8 855.3,278.8 C861.9,272.8 861.9,275.5 871.7,269.0 C881.5,262.4 878.3,264.0 884.8,259.1 C891.4,254.2 889.2,255.9 891.4,254.2"/><path d="M871.7,314.8 C876.1,317.5 876.1,317.5 884.8,323.0 C893.5,328.4 892.4,331.7 897.9,331.2 C903.4,330.6 899.0,326.8 901.2,321.4 C903.4,315.9 903.4,317.0 904.5,314.8"/><path d="M897.9,331.2 C900.1,334.5 897.4,336.1 904.5,341.0 C911.6,345.9 909.9,343.7 919.2,345.9 C928.5,348.1 924.1,348.1 932.3,347.6 C940.5,347.0 930.1,349.7 943.8,344.3 C957.4,338.8 956.9,338.3 973.2,331.2 C989.6,324.1 985.2,328.4 992.9,323.0 C1000.5,317.5 995.1,317.5 996.2,314.8"/><path d="M932.3,347.6 C931.7,343.2 929.6,345.4 930.7,334.5 C931.7,323.5 933.4,324.1 935.6,314.8 C937.8,305.5 942.1,311.5 937.2,306.6 C932.3,301.7 927.4,302.8 920.8,300.1 C914.3,297.3 918.6,299.0 917.6,298.4"/><path d="M937.2,306.6 C939.4,305.0 933.4,306.1 943.8,301.7 C954.1,297.3 951.9,297.9 968.3,293.5 C984.7,289.1 979.2,289.1 992.9,288.6 C1006.5,288.1 1003.8,290.8 1009.3,291.9"/><path d="M937.2,306.6 C938.3,297.9 940.5,294.1 940.5,280.4 C940.5,266.8 938.3,270.6 937.2,265.7"/><path d="M996.2,323.0 L1012.5,327.9"/><path d="M858.6,344.3 C859.1,348.6 861.9,347.6 860.2,357.4 C858.6,367.2 856.4,362.8 853.7,373.8 C851.0,384.7 852.6,384.7 852.1,390.1"/><path d="M822.6,332.8 C820.9,338.3 820.4,337.7 817.7,349.2 C814.9,360.7 816.0,356.3 814.4,367.2 C812.8,378.1 813.3,377.0 812.8,381.9"/><path d="M943.8,344.3 C945.9,347.0 947.6,348.1 950.3,352.5 C953.0,356.8 951.4,355.7 951.9,357.4"/><path d="M937.2,367.2 C939.9,371.6 941.0,373.2 945.4,380.3 C949.8,387.4 948.7,385.8 950.3,388.5"/><path d="M780.0,341.0 C781.6,344.3 783.8,343.2 784.9,350.8 C786.0,358.5 782.7,356.3 783.3,363.9 C783.8,371.6 785.5,370.5 786.6,373.8"/><path d="M968.3,314.8 L965.0,324.6"/><path d="M973.1,334.9 C974.2,339.8 972.6,342.6 976.4,349.7 C980.2,356.7 973.6,353.5 984.6,356.2 C995.5,358.9 992.8,355.1 1009.1,357.8 C1025.5,360.6 1017.3,361.1 1033.7,364.4 C1050.1,367.7 1044.6,369.8 1058.3,367.7 C1071.9,365.5 1068.1,362.2 1074.6,357.8 C1081.2,353.5 1076.8,355.7 1077.9,354.6"/><path d="M1058.3,367.7 C1061.5,370.9 1061.5,372.6 1068.1,377.5 C1074.6,382.4 1071.4,382.4 1077.9,382.4 C1084.5,382.4 1084.5,379.1 1087.7,377.5"/><path d="M1074.6,357.8 C1079.0,359.5 1080.6,356.7 1087.7,362.8 C1094.8,368.8 1091.6,369.3 1095.9,375.9 C1100.3,382.4 1099.2,380.2 1100.8,382.4"/><path d="M1073.0,349.7 C1076.8,352.9 1075.7,354.0 1084.5,359.5 C1093.2,364.9 1091.6,359.5 1099.2,366.0 C1106.8,372.6 1102.5,373.1 1107.4,379.1 C1112.3,385.1 1111.7,382.4 1113.9,384.0"/><path d="M960.0,377.5 C965.5,374.8 965.5,372.6 976.4,369.3 C987.3,366.0 983.5,366.6 992.8,367.7 C1002.0,368.8 999.8,367.1 1004.2,372.6 C1008.6,378.0 999.8,377.5 1005.9,384.0 C1011.9,390.6 1012.4,386.2 1022.2,392.2 C1032.1,398.2 1028.2,394.4 1035.3,402.1 C1042.4,409.7 1039.1,405.9 1043.5,415.2 C1047.9,424.4 1043.5,420.1 1048.4,429.9 C1053.3,439.7 1053.9,434.3 1058.3,444.6 C1062.6,455.0 1059.3,447.4 1061.5,461.0 C1063.7,474.7 1064.8,470.3 1064.8,485.6 C1064.8,500.9 1064.8,496.5 1061.5,506.9 C1058.3,517.2 1057.2,513.4 1055.0,516.7"/><path d="M974.7,400.4 C977.5,401.5 981.3,398.2 982.9,403.7 C984.6,409.1 980.2,408.6 979.7,416.8 C979.1,425.0 980.7,424.4 981.3,428.3"/><path d="M1010.8,411.9 C1011.3,415.2 1013.5,416.2 1012.4,421.7 C1011.3,427.2 1002.0,424.4 1007.5,428.3 C1012.9,432.1 1016.2,431.0 1028.8,433.2 C1041.3,435.3 1039.7,434.3 1045.2,434.8"/><path d="M960.0,456.1 C965.5,457.7 966.6,460.5 976.4,461.0 C986.2,461.6 982.9,461.0 989.5,457.7 C996.0,454.5 993.3,450.1 996.0,451.2 C998.8,452.3 995.5,453.9 997.7,461.0 C999.8,468.1 1000.9,468.6 1002.6,472.5"/><path d="M1025.5,461.0 C1027.7,465.4 1027.1,465.4 1032.1,474.1 C1037.0,482.8 1035.9,476.3 1040.2,487.2 C1044.6,498.1 1041.3,497.0 1045.2,506.9 C1049.0,516.7 1049.5,513.4 1051.7,516.7"/><path d="M1063.2,400.4 C1065.9,404.2 1066.4,402.6 1071.4,411.9 C1076.3,421.2 1073.0,415.7 1077.9,428.3 C1082.8,440.8 1081.7,435.9 1086.1,449.5 C1090.5,463.2 1088.8,454.5 1091.0,469.2 C1093.2,483.9 1092.6,477.9 1092.6,493.8 C1092.6,509.6 1091.6,509.0 1091.0,516.7"/><path d="M1100.8,385.7 C1105.2,389.0 1107.4,388.4 1113.9,395.5 C1120.5,402.6 1119.4,399.3 1120.5,407.0 C1121.6,414.6 1119.9,413.5 1117.2,418.4 C1114.5,423.3 1115.6,417.3 1112.3,421.7 C1109.0,426.1 1107.4,423.9 1107.4,431.5 C1107.4,439.2 1109.0,434.8 1112.3,444.6 C1115.6,454.5 1114.5,450.1 1117.2,461.0 C1119.9,471.9 1118.8,463.7 1120.5,477.4 C1122.1,491.0 1122.7,488.8 1122.1,501.9 C1121.6,515.0 1119.9,511.8 1118.8,516.7"/><path d="M1120.5,407.0 C1124.8,410.8 1127.6,413.0 1133.6,418.4 C1139.6,423.9 1136.3,417.9 1138.5,423.3 C1140.7,428.8 1138.5,425.5 1140.1,434.8 C1141.8,444.1 1140.1,442.4 1143.4,451.2 C1146.7,459.9 1145.6,452.3 1150.0,461.0 C1154.3,469.7 1151.0,463.7 1156.5,477.4 C1162.0,491.0 1160.9,488.8 1166.3,501.9 C1171.8,515.0 1170.7,511.8 1172.9,516.7"/><path d="M1117.2,418.4 C1119.4,417.3 1118.8,414.1 1123.8,415.2 C1128.7,416.2 1129.2,419.5 1131.9,421.7"/><path d="M1140.1,411.9 C1142.3,408.6 1138.5,407.5 1146.7,402.1 C1154.9,396.6 1158.1,401.0 1164.7,395.5 C1171.2,390.0 1166.9,391.7 1166.3,385.7 C1165.8,379.7 1164.1,380.2 1163.1,377.5"/><path d="M1148.3,402.1 C1147.2,396.0 1147.2,394.4 1145.0,384.0 C1142.9,373.7 1142.9,375.3 1141.8,370.9"/><path d="M1151.6,434.8 C1156.0,433.2 1157.1,429.9 1164.7,429.9 C1172.3,429.9 1168.0,427.2 1174.5,434.8 C1181.1,442.4 1179.4,438.6 1184.3,452.8 C1189.3,467.0 1186.5,461.0 1189.3,477.4 C1192.0,493.8 1190.3,488.8 1192.5,501.9 C1194.7,515.0 1194.7,511.8 1195.8,516.7"/><path d="M1122.1,459.4 C1127.0,458.3 1128.7,457.7 1136.9,456.1 C1145.0,454.5 1143.4,455.0 1146.7,454.5"/><path d="M1176.2,434.8 C1177.8,432.6 1177.8,432.6 1181.1,428.3 C1184.3,423.9 1184.3,423.9 1186.0,421.7"/><path d="M520.9,429.3 C520.4,434.2 522.0,433.1 519.3,444.0 C516.6,455.0 516.0,449.5 512.8,462.1 C509.5,474.6 509.5,470.2 509.5,481.7 C509.5,493.2 511.7,491.5 512.8,496.4"/><path d="M557.0,390.0 C553.1,395.5 551.0,395.5 545.5,406.4 C540.0,417.3 542.2,411.8 540.6,422.8 C539.0,433.7 539.0,428.8 540.6,439.1 C542.2,449.5 546.6,446.2 545.5,453.9 C544.4,461.5 542.2,452.8 537.3,462.1 C532.4,471.3 534.6,469.7 530.8,481.7 C526.9,493.7 534.0,488.3 525.9,498.1 C517.7,507.9 516.0,501.9 506.2,511.2 C496.4,520.5 499.7,521.0 496.4,525.9"/><path d="M545.5,453.9 C551.0,453.3 553.1,457.1 561.9,452.2 C570.6,447.3 565.2,447.9 571.7,439.1 C578.3,430.4 576.6,432.0 581.5,426.0 C586.4,420.0 583.2,427.7 586.4,421.1 C589.7,414.6 588.6,416.7 591.4,406.4 C594.1,396.0 593.5,395.5 594.6,390.0"/><path d="M586.4,421.1 C590.3,427.1 590.8,426.6 597.9,439.1 C605.0,451.7 601.7,448.4 607.7,458.8 C613.7,469.1 606.6,465.3 615.9,470.2 C625.2,475.2 623.6,473.5 635.6,473.5 C647.6,473.5 643.2,476.2 651.9,470.2 C660.7,464.2 656.9,467.0 661.8,455.5 C666.7,444.0 665.6,446.8 666.7,435.9 C667.8,424.9 668.3,431.5 665.0,422.8 C661.8,414.0 662.9,415.1 656.9,409.7 C650.9,404.2 653.6,404.2 647.0,406.4 C640.5,408.6 642.1,409.7 637.2,416.2 C632.3,422.8 633.9,422.8 632.3,426.0"/><path d="M647.0,406.4 L648.7,390.0"/><path d="M666.7,429.3 C668.9,426.0 668.9,427.1 673.2,419.5 C677.6,411.8 674.3,413.5 679.8,406.4 C685.2,399.3 679.8,399.8 689.6,398.2 C699.4,396.6 700.0,399.3 709.3,401.5 C718.5,403.6 714.7,403.6 717.4,404.7"/><path d="M615.9,470.2 C612.1,474.1 610.5,474.6 604.5,481.7 C598.4,488.8 604.5,489.9 597.9,491.5 C591.4,493.2 590.8,488.8 584.8,486.6 C578.8,484.4 581.5,485.5 579.9,485.0"/><path d="M584.8,486.6 C585.3,481.7 587.0,479.0 586.4,471.9 C585.9,464.8 584.3,467.5 583.2,465.3"/><path d="M597.9,491.5 C597.9,497.0 596.8,498.1 597.9,507.9 C599.0,517.7 596.8,511.7 601.2,521.0 C605.5,530.3 605.0,528.1 611.0,535.7 C617.0,543.4 613.7,541.7 619.2,543.9 C624.7,546.1 624.7,542.8 627.4,542.3"/><path d="M558.6,481.7 C559.7,486.6 559.7,487.2 561.9,496.4 C564.1,505.7 561.9,499.7 565.2,509.5 C568.4,519.4 566.2,515.5 571.7,525.9 C577.2,536.3 573.9,530.8 581.5,540.7 C589.2,550.5 585.9,546.7 594.6,555.4 C603.4,564.1 600.6,559.2 607.7,566.9 C614.8,574.5 613.2,574.5 615.9,578.3"/><path d="M530.8,511.2 C531.9,517.2 530.2,517.7 534.0,529.2 C537.9,540.7 536.8,534.7 542.2,545.6 C547.7,556.5 545.5,551.0 550.4,561.9 C555.3,572.9 554.8,572.9 557.0,578.3"/><path d="M512.8,527.6 C512.2,531.9 511.1,531.9 511.1,540.7 C511.1,549.4 510.6,543.9 512.8,553.8 C514.9,563.6 516.0,564.7 517.7,570.1"/><path d="M511.1,540.7 C512.8,539.6 512.2,540.7 516.0,537.4 C519.8,534.1 520.4,533.0 522.6,530.8"/><path d="M632.3,494.8 C633.9,498.1 636.1,498.6 637.2,504.6 C638.3,510.6 639.9,510.6 635.6,512.8 C631.2,515.0 627.9,511.7 624.1,511.2"/><path d="M635.6,512.8 C637.2,515.5 635.6,513.9 640.5,521.0 C645.4,528.1 644.8,525.4 650.3,534.1 C655.8,542.8 655.2,538.5 656.9,547.2 C658.5,555.9 657.9,552.1 655.2,560.3 C652.5,568.5 650.9,567.9 648.7,571.8"/><path d="M665.0,494.8 C667.2,498.1 665.6,498.6 671.6,504.6 C677.6,510.6 675.4,511.2 683.1,512.8 C690.7,514.5 689.1,513.4 694.5,509.5 C700.0,505.7 697.2,508.4 699.4,501.4 C701.6,494.3 697.8,494.3 701.1,488.3 C704.3,482.2 706.5,485.0 709.3,483.3"/><path d="M683.1,512.8 C684.7,516.6 686.3,515.0 688.0,524.3 C689.6,533.6 688.0,535.2 688.0,540.7"/><path d="M699.4,504.6 C701.6,509.0 700.5,509.5 706.0,517.7 C711.4,525.9 712.5,525.4 715.8,529.2"/><path d="M1042.8,500.0 C1045.0,505.5 1045.5,505.5 1049.4,516.4 C1053.2,527.3 1052.6,521.8 1054.3,532.8 C1055.9,543.7 1056.5,539.3 1054.3,549.1 C1052.1,559.0 1051.0,555.7 1047.7,562.2 C1044.5,568.8 1045.5,566.6 1044.5,568.8"/><path d="M1060.8,500.0 C1059.2,504.4 1059.2,507.1 1055.9,513.1 C1052.6,519.1 1052.6,516.4 1051.0,518.0"/><path d="M1083.8,532.8 C1085.9,538.2 1085.9,538.2 1090.3,549.1 C1094.7,560.0 1095.8,555.7 1096.9,565.5 C1097.9,575.3 1095.2,569.9 1093.6,578.6 C1091.9,587.3 1093.0,582.4 1091.9,591.7 C1090.9,601.0 1090.3,596.6 1090.3,606.4 C1090.3,616.3 1089.2,613.0 1091.9,621.2 C1094.7,629.4 1093.0,628.3 1098.5,631.0 C1104.0,633.7 1105.0,629.9 1108.3,629.4"/><path d="M1121.4,500.0 C1119.8,505.5 1120.3,505.5 1116.5,516.4 C1112.7,527.3 1114.3,520.2 1110.0,532.8 C1105.6,545.3 1107.8,543.1 1103.4,554.0 C1099.0,565.0 1099.0,561.7 1096.9,565.5"/><path d="M1149.3,500.0 C1150.9,506.6 1152.0,506.0 1154.2,519.7 C1156.4,533.3 1156.4,525.7 1155.8,540.9 C1155.3,556.2 1153.6,555.7 1152.5,565.5 C1151.4,575.3 1152.5,568.8 1152.5,570.4"/><path d="M1123.1,559.0 C1123.6,563.3 1123.1,564.4 1124.7,572.1 C1126.3,579.7 1122.5,580.8 1128.0,581.9 C1133.4,583.0 1132.9,579.1 1141.1,575.3 C1149.3,571.5 1145.4,569.3 1152.5,570.4 C1159.6,571.5 1155.8,571.5 1162.4,578.6 C1168.9,585.7 1168.4,584.1 1172.2,591.7 C1176.0,599.3 1173.3,598.3 1173.8,601.5"/><path d="M1128.0,581.9 C1126.3,585.2 1125.8,585.2 1123.1,591.7 C1120.3,598.3 1120.9,598.3 1119.8,601.5"/><path d="M1173.8,601.5 C1168.4,604.8 1171.1,605.9 1157.4,611.4 C1143.8,616.8 1149.3,611.9 1132.9,617.9 C1116.5,623.9 1120.3,625.0 1108.3,629.4 C1096.3,633.7 1100.7,630.5 1096.9,631.0"/><path d="M1175.5,500.0 C1176.6,508.2 1176.6,509.3 1178.7,524.6 C1180.9,539.8 1178.7,536.6 1182.0,545.9 C1185.3,555.1 1183.1,553.5 1188.6,552.4 C1194.0,551.3 1192.9,549.1 1198.4,542.6 C1203.8,536.0 1202.8,536.0 1204.9,532.8"/><path d="M1182.0,545.9 C1181.5,552.4 1180.9,552.4 1180.4,565.5 C1179.8,578.6 1182.0,574.2 1180.4,585.2 C1178.7,596.1 1177.1,593.9 1175.5,598.3"/><path d="M1188.6,578.6 L1201.7,573.7"/><path d="M1173.8,601.5 C1174.4,608.6 1177.1,609.2 1175.5,622.8 C1173.8,636.5 1173.8,630.5 1168.9,642.5 C1164.0,654.5 1167.3,647.9 1160.7,658.8 C1154.2,669.8 1153.1,669.8 1149.3,675.2"/><path d="M1067.4,568.8 C1069.0,570.4 1069.0,573.7 1072.3,573.7 C1075.6,573.7 1075.6,570.4 1077.2,568.8"/><path d="M1072.3,573.7 C1072.3,578.6 1073.9,578.1 1072.3,588.4 C1070.7,598.8 1070.1,596.1 1067.4,604.8 C1064.7,613.5 1065.2,611.4 1064.1,614.6"/><path d="M1024.8,591.7 C1027.5,595.0 1027.5,600.4 1033.0,601.5 C1038.4,602.6 1038.4,597.2 1041.2,595.0"/><path d="M1033.0,601.5 L1033.0,608.1"/><path d="M1098.5,631.0 C1096.9,634.8 1095.2,635.9 1093.6,642.5 C1091.9,649.0 1093.6,647.9 1093.6,650.7"/><path d="M1054.3,655.6 C1058.6,656.7 1057.6,656.1 1067.4,658.8 C1077.2,661.6 1076.1,658.8 1083.8,663.8 C1091.4,668.7 1088.1,670.3 1090.3,673.6"/><path d="M1041.2,667.0 C1044.5,669.2 1039.5,670.3 1051.0,673.6 C1062.5,676.9 1059.2,676.9 1075.6,676.9 C1091.9,676.9 1086.5,677.9 1100.1,673.6 C1113.8,669.2 1106.7,670.9 1116.5,663.8 C1126.3,656.7 1122.5,659.4 1129.6,652.3 C1136.7,645.2 1135.1,645.7 1137.8,642.5"/><path d="M1041.2,667.0 C1042.3,662.7 1040.1,661.6 1044.5,653.9 C1048.8,646.3 1049.9,656.1 1054.3,644.1 C1058.6,632.1 1056.5,626.6 1057.6,617.9"/><path d="M1024.8,629.4 C1027.0,627.7 1028.1,629.4 1031.4,624.5 C1034.6,619.5 1034.1,620.6 1034.6,614.6 C1035.2,608.6 1033.5,609.2 1033.0,606.4"/><path d="M960.9,626.1 C971.9,627.2 973.5,628.3 993.7,629.4 C1013.9,630.5 1011.2,629.4 1021.5,629.4 C1031.9,629.4 1023.7,629.4 1024.8,629.4"/><path d="M640.2,674.6 C642.4,677.4 640.8,677.9 646.8,682.8 C652.8,687.7 649.0,686.6 658.3,689.4 C667.5,692.1 665.9,691.0 674.6,691.0 C683.4,691.0 679.0,688.8 684.5,689.4 C689.9,689.9 683.4,689.9 691.0,692.6 C698.6,695.4 696.5,695.9 707.4,697.6 C718.3,699.2 712.8,698.6 723.8,697.6 C734.7,696.5 726.5,695.4 740.1,694.3 C753.8,693.2 748.3,693.7 764.7,694.3 C781.1,694.8 778.3,693.7 789.3,695.9 C800.2,698.1 793.1,695.9 797.4,700.8 C801.8,705.7 798.5,703.6 802.4,710.7 C806.2,717.8 806.7,718.3 808.9,722.1"/><path d="M684.5,689.4 C683.4,692.6 683.4,692.1 681.2,699.2 C679.0,706.3 680.6,703.6 677.9,710.7 C675.2,717.8 676.3,716.1 673.0,720.5 C669.7,724.8 669.7,722.7 668.1,723.8"/><path d="M681.2,607.5 C680.6,612.4 678.4,614.0 679.5,622.2 C680.6,630.4 680.6,626.6 684.5,632.1 C688.3,637.5 689.9,633.1 691.0,638.6 C692.1,644.1 691.0,642.4 687.7,648.4 C684.5,654.4 683.4,653.9 681.2,656.6"/><path d="M600.9,674.6 C603.1,671.4 603.7,671.4 607.5,664.8 C611.3,658.3 610.8,658.3 612.4,655.0"/><path d="M612.0,583.0 C619.3,579.0 619.2,578.2 634.0,571.0 C648.8,563.8 634.5,571.2 656.5,561.4 C678.5,551.6 677.2,551.8 700.0,541.7 C722.8,531.6 710.3,536.9 725.0,531.0 C739.7,525.1 737.7,526.3 744.0,524.0"/><path d="M614.0,580.0 C620.3,578.3 620.3,577.3 633.0,575.0 C645.7,572.7 639.0,572.3 652.0,573.0 C665.0,573.7 660.0,573.0 672.0,577.0 C684.0,581.0 682.7,582.3 688.0,585.0"/><path d="M963.7,628.8 C972.5,629.5 969.2,629.9 990.0,631.0 C1010.8,632.1 1011.3,635.0 1026.0,632.0 C1040.7,629.0 1031.8,629.7 1034.0,622.0 C1036.2,614.3 1033.0,613.3 1032.5,609.0"/><path d="M1026.0,632.0 C1031.4,640.7 1037.4,644.0 1042.3,658.2 C1047.2,672.4 1043.5,663.7 1040.7,674.6 C1037.9,685.5 1040.6,681.7 1034.0,691.0 C1027.4,700.3 1025.3,698.7 1021.0,702.5"/><path d="M963.7,628.8 C959.3,636.4 956.0,636.4 950.6,651.7 C945.2,667.0 946.3,659.8 947.4,674.6 C948.5,689.4 951.8,688.9 954.0,696.0"/></g><g stroke="#e4a08c" stroke-width="7" opacity="0.5" filter="url(#bl2)"><path d="M538.1,364.7 C541.7,366.9 542.0,365.3 548.8,371.3 C555.6,377.3 555.3,378.9 558.6,382.8"/><path d="M558.6,382.8 C561.3,379.2 560.8,378.9 566.8,372.1 C572.8,365.3 570.6,367.8 576.6,362.3 C582.6,356.8 582.1,357.9 584.8,355.7"/><path d="M584.8,355.7 C588.1,354.9 586.4,353.8 594.6,353.3 C602.8,352.7 600.6,351.6 609.4,354.1 C618.1,356.6 615.9,356.3 620.8,360.7 C625.7,365.0 623.0,365.0 624.1,367.2"/><path d="M584.8,355.7 C585.3,353.0 583.2,353.6 586.4,347.6 C589.7,341.6 587.5,345.4 594.6,337.7 C601.7,330.1 599.0,332.8 607.7,324.6 C616.5,316.4 613.2,319.2 620.8,313.2 C628.5,307.2 627.4,308.8 630.7,306.6"/><path d="M630.7,306.6 C631.5,302.8 633.4,302.8 633.1,295.2 C632.8,287.5 632.6,289.7 629.8,283.7 C627.1,277.7 626.6,279.3 624.9,277.1"/><path d="M569.2,341.0 C572.2,336.6 571.4,336.6 578.3,327.9 C585.1,319.2 584.3,321.9 589.7,314.8 C595.2,307.7 593.0,309.3 594.6,306.6"/><path d="M594.6,306.6 C596.8,307.4 596.3,309.1 601.2,309.1 C606.1,309.1 606.1,309.1 609.4,306.6 C612.6,304.2 610.5,303.3 611.0,301.7"/><path d="M594.6,306.6 L593.0,299.2"/><path d="M630.7,306.6 C634.5,305.0 635.0,301.2 642.1,301.7 C649.2,302.2 647.0,308.3 651.9,308.3 C656.9,308.3 654.1,307.2 656.9,301.7 C659.6,296.2 655.8,297.9 660.1,291.9 C664.5,285.9 661.2,287.5 670.0,283.7 C678.7,279.9 673.2,282.6 686.3,280.4 C699.4,278.2 696.7,279.9 709.3,277.1 C721.8,274.4 716.9,275.5 724.0,272.2 C731.1,269.0 725.1,270.0 730.5,267.3 C736.0,264.6 736.0,269.0 740.4,264.0 C744.7,259.1 743.6,260.2 743.6,252.6 C743.6,244.9 741.5,244.9 740.4,241.1"/><path d="M633.1,352.5 C632.3,348.6 629.3,349.2 630.7,341.0 C632.0,332.8 630.7,335.5 637.2,327.9 C643.8,320.3 641.6,322.4 650.3,318.1 C659.0,313.7 654.7,313.2 663.4,314.8 C672.1,316.4 671.3,317.5 676.5,323.0 C681.7,328.4 678.1,328.4 679.0,331.2"/><path d="M676.5,323.0 C680.9,320.3 678.7,320.8 689.6,314.8 C700.5,308.8 695.6,311.0 709.3,305.0 C722.9,299.0 717.4,300.6 730.5,296.8 C743.6,293.0 739.3,295.2 748.6,293.5 C757.8,291.9 755.7,295.7 758.4,291.9 C761.1,288.1 758.9,287.5 756.7,282.1 C754.6,276.6 753.5,277.7 751.8,275.5"/><path d="M633.1,352.5 C636.7,351.9 633.1,351.9 643.8,350.8 C654.4,349.7 650.9,348.6 665.0,349.2 C679.2,349.7 675.4,354.7 686.3,352.5 C697.2,350.3 689.1,349.7 697.8,342.6 C706.5,335.5 703.3,337.2 712.5,331.2 C721.8,325.2 718.0,329.0 725.6,324.6 C733.3,320.3 732.2,320.3 735.5,318.1"/><path d="M686.3,352.5 C685.8,357.4 685.8,356.8 684.7,367.2 C683.6,377.6 682.0,374.8 683.1,383.6 C684.1,392.3 683.1,389.0 688.0,393.4 C692.9,397.8 694.5,395.6 697.8,396.7"/><path d="M722.4,362.3 C723.4,365.0 725.1,365.0 725.6,370.5 C726.2,375.9 724.5,375.9 724.0,378.7"/><path d="M715.8,362.3 L722.4,362.3"/><path d="M758.4,291.9 C761.1,296.2 764.4,295.2 766.6,305.0 C768.8,314.8 767.7,309.3 764.9,321.4 C762.2,333.4 761.1,326.3 758.4,341.0 C755.7,355.7 756.7,351.9 756.7,365.6 C756.7,379.2 757.8,376.5 758.4,381.9"/><path d="M645.4,380.3 C647.0,381.4 646.5,383.6 650.3,383.6 C654.1,383.6 654.7,381.4 656.9,380.3"/><path d="M650.3,383.6 L650.3,393.4"/><path d="M622.5,367.2 C624.1,365.0 623.8,365.6 627.4,360.7 C630.9,355.7 631.2,355.2 633.1,352.5"/><path d="M740.4,264.0 C746.4,263.5 745.2,262.4 758.4,262.4 C771.6,262.4 772.8,263.5 780.0,264.0"/><path d="M709.3,236.2 C714.7,237.3 714.7,237.8 725.6,239.5 C736.6,241.1 731.1,242.8 742.0,241.1 C752.9,239.5 745.7,237.3 758.4,234.6 C771.0,231.8 772.8,233.5 780.0,232.9"/><path d="M780.0,238.7 C785.5,239.2 786.0,240.3 796.4,240.3 C806.7,240.3 804.8,242.8 811.1,238.7 C817.4,234.6 813.8,231.6 815.2,228.0"/><path d="M811.1,239.5 C817.1,241.4 816.6,241.9 829.1,245.2 C841.7,248.5 834.6,247.4 848.8,249.3 C863.0,251.2 857.5,249.8 871.7,250.9 C885.9,252.0 877.7,252.8 891.4,252.6 C905.0,252.3 900.6,253.4 912.6,250.1 C924.7,246.8 920.3,246.3 927.4,242.8 C934.5,239.2 931.7,240.6 933.9,239.5"/><path d="M912.6,250.1 C920.3,252.6 920.3,252.3 935.6,257.5 C950.9,262.7 944.8,260.8 958.5,265.7 C972.1,270.6 965.0,267.9 976.5,272.2 C988.0,276.6 980.9,272.2 992.9,278.8 C1004.9,285.3 1006.0,287.5 1012.5,291.9"/><path d="M958.5,265.7 C964.5,263.5 963.4,262.4 976.5,259.1 C989.6,255.9 988.0,256.7 997.8,255.9 C1007.6,255.0 1003.3,256.4 1006.0,256.7"/><path d="M992.9,278.8 C995.6,276.6 992.9,276.6 1001.1,272.2 C1009.3,267.9 1008.2,268.4 1017.4,265.7 C1026.7,262.9 1025.1,264.6 1028.9,264.0"/><path d="M1012.5,291.9 C1016.9,294.1 1013.6,299.0 1025.6,298.4 C1037.6,297.9 1040.4,295.2 1048.6,290.2 C1056.7,285.3 1049.7,285.9 1050.2,283.7"/><path d="M1048.6,290.2 C1051.3,295.7 1055.1,295.2 1056.7,306.6 C1058.4,318.1 1054.6,318.6 1053.5,324.6"/><path d="M1012.5,291.9 C1013.6,295.2 1021.3,294.1 1015.8,301.7 C1010.3,309.3 1003.3,308.3 996.2,314.8 C989.1,321.4 995.1,319.2 994.5,321.4"/><path d="M780.0,273.9 C782.7,275.0 786.0,273.3 788.2,277.1 C790.4,281.0 787.1,282.6 786.6,285.3"/><path d="M780.0,306.6 C788.2,307.2 793.6,303.3 804.6,308.3 C815.5,313.2 806.7,313.2 812.8,321.4 C818.8,329.5 815.5,331.7 822.6,332.8 C829.7,333.9 823.7,329.5 834.0,324.6 C844.4,319.7 841.1,321.4 853.7,318.1 C866.2,314.8 862.4,320.3 871.7,314.8 C881.0,309.3 873.9,311.0 881.5,301.7 C889.2,292.4 887.0,294.1 894.6,287.0 C902.3,279.9 899.0,282.3 904.5,280.4 C909.9,278.5 908.8,281.0 911.0,281.2"/><path d="M804.6,308.3 C808.9,301.7 807.8,297.9 817.7,288.6 C827.5,279.3 822.6,281.0 834.0,280.4 C845.5,279.9 844.4,283.1 852.1,287.0 C859.7,290.8 855.3,290.2 857.0,291.9"/><path d="M852.1,287.0 C853.1,284.2 848.8,284.8 855.3,278.8 C861.9,272.8 861.9,275.5 871.7,269.0 C881.5,262.4 878.3,264.0 884.8,259.1 C891.4,254.2 889.2,255.9 891.4,254.2"/><path d="M871.7,314.8 C876.1,317.5 876.1,317.5 884.8,323.0 C893.5,328.4 892.4,331.7 897.9,331.2 C903.4,330.6 899.0,326.8 901.2,321.4 C903.4,315.9 903.4,317.0 904.5,314.8"/><path d="M897.9,331.2 C900.1,334.5 897.4,336.1 904.5,341.0 C911.6,345.9 909.9,343.7 919.2,345.9 C928.5,348.1 924.1,348.1 932.3,347.6 C940.5,347.0 930.1,349.7 943.8,344.3 C957.4,338.8 956.9,338.3 973.2,331.2 C989.6,324.1 985.2,328.4 992.9,323.0 C1000.5,317.5 995.1,317.5 996.2,314.8"/><path d="M932.3,347.6 C931.7,343.2 929.6,345.4 930.7,334.5 C931.7,323.5 933.4,324.1 935.6,314.8 C937.8,305.5 942.1,311.5 937.2,306.6 C932.3,301.7 927.4,302.8 920.8,300.1 C914.3,297.3 918.6,299.0 917.6,298.4"/><path d="M937.2,306.6 C939.4,305.0 933.4,306.1 943.8,301.7 C954.1,297.3 951.9,297.9 968.3,293.5 C984.7,289.1 979.2,289.1 992.9,288.6 C1006.5,288.1 1003.8,290.8 1009.3,291.9"/><path d="M937.2,306.6 C938.3,297.9 940.5,294.1 940.5,280.4 C940.5,266.8 938.3,270.6 937.2,265.7"/><path d="M996.2,323.0 L1012.5,327.9"/><path d="M858.6,344.3 C859.1,348.6 861.9,347.6 860.2,357.4 C858.6,367.2 856.4,362.8 853.7,373.8 C851.0,384.7 852.6,384.7 852.1,390.1"/><path d="M822.6,332.8 C820.9,338.3 820.4,337.7 817.7,349.2 C814.9,360.7 816.0,356.3 814.4,367.2 C812.8,378.1 813.3,377.0 812.8,381.9"/><path d="M943.8,344.3 C945.9,347.0 947.6,348.1 950.3,352.5 C953.0,356.8 951.4,355.7 951.9,357.4"/><path d="M937.2,367.2 C939.9,371.6 941.0,373.2 945.4,380.3 C949.8,387.4 948.7,385.8 950.3,388.5"/><path d="M780.0,341.0 C781.6,344.3 783.8,343.2 784.9,350.8 C786.0,358.5 782.7,356.3 783.3,363.9 C783.8,371.6 785.5,370.5 786.6,373.8"/><path d="M968.3,314.8 L965.0,324.6"/><path d="M973.1,334.9 C974.2,339.8 972.6,342.6 976.4,349.7 C980.2,356.7 973.6,353.5 984.6,356.2 C995.5,358.9 992.8,355.1 1009.1,357.8 C1025.5,360.6 1017.3,361.1 1033.7,364.4 C1050.1,367.7 1044.6,369.8 1058.3,367.7 C1071.9,365.5 1068.1,362.2 1074.6,357.8 C1081.2,353.5 1076.8,355.7 1077.9,354.6"/><path d="M1058.3,367.7 C1061.5,370.9 1061.5,372.6 1068.1,377.5 C1074.6,382.4 1071.4,382.4 1077.9,382.4 C1084.5,382.4 1084.5,379.1 1087.7,377.5"/><path d="M1074.6,357.8 C1079.0,359.5 1080.6,356.7 1087.7,362.8 C1094.8,368.8 1091.6,369.3 1095.9,375.9 C1100.3,382.4 1099.2,380.2 1100.8,382.4"/><path d="M1073.0,349.7 C1076.8,352.9 1075.7,354.0 1084.5,359.5 C1093.2,364.9 1091.6,359.5 1099.2,366.0 C1106.8,372.6 1102.5,373.1 1107.4,379.1 C1112.3,385.1 1111.7,382.4 1113.9,384.0"/><path d="M960.0,377.5 C965.5,374.8 965.5,372.6 976.4,369.3 C987.3,366.0 983.5,366.6 992.8,367.7 C1002.0,368.8 999.8,367.1 1004.2,372.6 C1008.6,378.0 999.8,377.5 1005.9,384.0 C1011.9,390.6 1012.4,386.2 1022.2,392.2 C1032.1,398.2 1028.2,394.4 1035.3,402.1 C1042.4,409.7 1039.1,405.9 1043.5,415.2 C1047.9,424.4 1043.5,420.1 1048.4,429.9 C1053.3,439.7 1053.9,434.3 1058.3,444.6 C1062.6,455.0 1059.3,447.4 1061.5,461.0 C1063.7,474.7 1064.8,470.3 1064.8,485.6 C1064.8,500.9 1064.8,496.5 1061.5,506.9 C1058.3,517.2 1057.2,513.4 1055.0,516.7"/><path d="M974.7,400.4 C977.5,401.5 981.3,398.2 982.9,403.7 C984.6,409.1 980.2,408.6 979.7,416.8 C979.1,425.0 980.7,424.4 981.3,428.3"/><path d="M1010.8,411.9 C1011.3,415.2 1013.5,416.2 1012.4,421.7 C1011.3,427.2 1002.0,424.4 1007.5,428.3 C1012.9,432.1 1016.2,431.0 1028.8,433.2 C1041.3,435.3 1039.7,434.3 1045.2,434.8"/><path d="M960.0,456.1 C965.5,457.7 966.6,460.5 976.4,461.0 C986.2,461.6 982.9,461.0 989.5,457.7 C996.0,454.5 993.3,450.1 996.0,451.2 C998.8,452.3 995.5,453.9 997.7,461.0 C999.8,468.1 1000.9,468.6 1002.6,472.5"/><path d="M1025.5,461.0 C1027.7,465.4 1027.1,465.4 1032.1,474.1 C1037.0,482.8 1035.9,476.3 1040.2,487.2 C1044.6,498.1 1041.3,497.0 1045.2,506.9 C1049.0,516.7 1049.5,513.4 1051.7,516.7"/><path d="M1063.2,400.4 C1065.9,404.2 1066.4,402.6 1071.4,411.9 C1076.3,421.2 1073.0,415.7 1077.9,428.3 C1082.8,440.8 1081.7,435.9 1086.1,449.5 C1090.5,463.2 1088.8,454.5 1091.0,469.2 C1093.2,483.9 1092.6,477.9 1092.6,493.8 C1092.6,509.6 1091.6,509.0 1091.0,516.7"/><path d="M1100.8,385.7 C1105.2,389.0 1107.4,388.4 1113.9,395.5 C1120.5,402.6 1119.4,399.3 1120.5,407.0 C1121.6,414.6 1119.9,413.5 1117.2,418.4 C1114.5,423.3 1115.6,417.3 1112.3,421.7 C1109.0,426.1 1107.4,423.9 1107.4,431.5 C1107.4,439.2 1109.0,434.8 1112.3,444.6 C1115.6,454.5 1114.5,450.1 1117.2,461.0 C1119.9,471.9 1118.8,463.7 1120.5,477.4 C1122.1,491.0 1122.7,488.8 1122.1,501.9 C1121.6,515.0 1119.9,511.8 1118.8,516.7"/><path d="M1120.5,407.0 C1124.8,410.8 1127.6,413.0 1133.6,418.4 C1139.6,423.9 1136.3,417.9 1138.5,423.3 C1140.7,428.8 1138.5,425.5 1140.1,434.8 C1141.8,444.1 1140.1,442.4 1143.4,451.2 C1146.7,459.9 1145.6,452.3 1150.0,461.0 C1154.3,469.7 1151.0,463.7 1156.5,477.4 C1162.0,491.0 1160.9,488.8 1166.3,501.9 C1171.8,515.0 1170.7,511.8 1172.9,516.7"/><path d="M1117.2,418.4 C1119.4,417.3 1118.8,414.1 1123.8,415.2 C1128.7,416.2 1129.2,419.5 1131.9,421.7"/><path d="M1140.1,411.9 C1142.3,408.6 1138.5,407.5 1146.7,402.1 C1154.9,396.6 1158.1,401.0 1164.7,395.5 C1171.2,390.0 1166.9,391.7 1166.3,385.7 C1165.8,379.7 1164.1,380.2 1163.1,377.5"/><path d="M1148.3,402.1 C1147.2,396.0 1147.2,394.4 1145.0,384.0 C1142.9,373.7 1142.9,375.3 1141.8,370.9"/><path d="M1151.6,434.8 C1156.0,433.2 1157.1,429.9 1164.7,429.9 C1172.3,429.9 1168.0,427.2 1174.5,434.8 C1181.1,442.4 1179.4,438.6 1184.3,452.8 C1189.3,467.0 1186.5,461.0 1189.3,477.4 C1192.0,493.8 1190.3,488.8 1192.5,501.9 C1194.7,515.0 1194.7,511.8 1195.8,516.7"/><path d="M1122.1,459.4 C1127.0,458.3 1128.7,457.7 1136.9,456.1 C1145.0,454.5 1143.4,455.0 1146.7,454.5"/><path d="M1176.2,434.8 C1177.8,432.6 1177.8,432.6 1181.1,428.3 C1184.3,423.9 1184.3,423.9 1186.0,421.7"/><path d="M520.9,429.3 C520.4,434.2 522.0,433.1 519.3,444.0 C516.6,455.0 516.0,449.5 512.8,462.1 C509.5,474.6 509.5,470.2 509.5,481.7 C509.5,493.2 511.7,491.5 512.8,496.4"/><path d="M557.0,390.0 C553.1,395.5 551.0,395.5 545.5,406.4 C540.0,417.3 542.2,411.8 540.6,422.8 C539.0,433.7 539.0,428.8 540.6,439.1 C542.2,449.5 546.6,446.2 545.5,453.9 C544.4,461.5 542.2,452.8 537.3,462.1 C532.4,471.3 534.6,469.7 530.8,481.7 C526.9,493.7 534.0,488.3 525.9,498.1 C517.7,507.9 516.0,501.9 506.2,511.2 C496.4,520.5 499.7,521.0 496.4,525.9"/><path d="M545.5,453.9 C551.0,453.3 553.1,457.1 561.9,452.2 C570.6,447.3 565.2,447.9 571.7,439.1 C578.3,430.4 576.6,432.0 581.5,426.0 C586.4,420.0 583.2,427.7 586.4,421.1 C589.7,414.6 588.6,416.7 591.4,406.4 C594.1,396.0 593.5,395.5 594.6,390.0"/><path d="M586.4,421.1 C590.3,427.1 590.8,426.6 597.9,439.1 C605.0,451.7 601.7,448.4 607.7,458.8 C613.7,469.1 606.6,465.3 615.9,470.2 C625.2,475.2 623.6,473.5 635.6,473.5 C647.6,473.5 643.2,476.2 651.9,470.2 C660.7,464.2 656.9,467.0 661.8,455.5 C666.7,444.0 665.6,446.8 666.7,435.9 C667.8,424.9 668.3,431.5 665.0,422.8 C661.8,414.0 662.9,415.1 656.9,409.7 C650.9,404.2 653.6,404.2 647.0,406.4 C640.5,408.6 642.1,409.7 637.2,416.2 C632.3,422.8 633.9,422.8 632.3,426.0"/><path d="M647.0,406.4 L648.7,390.0"/><path d="M666.7,429.3 C668.9,426.0 668.9,427.1 673.2,419.5 C677.6,411.8 674.3,413.5 679.8,406.4 C685.2,399.3 679.8,399.8 689.6,398.2 C699.4,396.6 700.0,399.3 709.3,401.5 C718.5,403.6 714.7,403.6 717.4,404.7"/><path d="M615.9,470.2 C612.1,474.1 610.5,474.6 604.5,481.7 C598.4,488.8 604.5,489.9 597.9,491.5 C591.4,493.2 590.8,488.8 584.8,486.6 C578.8,484.4 581.5,485.5 579.9,485.0"/><path d="M584.8,486.6 C585.3,481.7 587.0,479.0 586.4,471.9 C585.9,464.8 584.3,467.5 583.2,465.3"/><path d="M597.9,491.5 C597.9,497.0 596.8,498.1 597.9,507.9 C599.0,517.7 596.8,511.7 601.2,521.0 C605.5,530.3 605.0,528.1 611.0,535.7 C617.0,543.4 613.7,541.7 619.2,543.9 C624.7,546.1 624.7,542.8 627.4,542.3"/><path d="M558.6,481.7 C559.7,486.6 559.7,487.2 561.9,496.4 C564.1,505.7 561.9,499.7 565.2,509.5 C568.4,519.4 566.2,515.5 571.7,525.9 C577.2,536.3 573.9,530.8 581.5,540.7 C589.2,550.5 585.9,546.7 594.6,555.4 C603.4,564.1 600.6,559.2 607.7,566.9 C614.8,574.5 613.2,574.5 615.9,578.3"/><path d="M530.8,511.2 C531.9,517.2 530.2,517.7 534.0,529.2 C537.9,540.7 536.8,534.7 542.2,545.6 C547.7,556.5 545.5,551.0 550.4,561.9 C555.3,572.9 554.8,572.9 557.0,578.3"/><path d="M512.8,527.6 C512.2,531.9 511.1,531.9 511.1,540.7 C511.1,549.4 510.6,543.9 512.8,553.8 C514.9,563.6 516.0,564.7 517.7,570.1"/><path d="M511.1,540.7 C512.8,539.6 512.2,540.7 516.0,537.4 C519.8,534.1 520.4,533.0 522.6,530.8"/><path d="M632.3,494.8 C633.9,498.1 636.1,498.6 637.2,504.6 C638.3,510.6 639.9,510.6 635.6,512.8 C631.2,515.0 627.9,511.7 624.1,511.2"/><path d="M635.6,512.8 C637.2,515.5 635.6,513.9 640.5,521.0 C645.4,528.1 644.8,525.4 650.3,534.1 C655.8,542.8 655.2,538.5 656.9,547.2 C658.5,555.9 657.9,552.1 655.2,560.3 C652.5,568.5 650.9,567.9 648.7,571.8"/><path d="M665.0,494.8 C667.2,498.1 665.6,498.6 671.6,504.6 C677.6,510.6 675.4,511.2 683.1,512.8 C690.7,514.5 689.1,513.4 694.5,509.5 C700.0,505.7 697.2,508.4 699.4,501.4 C701.6,494.3 697.8,494.3 701.1,488.3 C704.3,482.2 706.5,485.0 709.3,483.3"/><path d="M683.1,512.8 C684.7,516.6 686.3,515.0 688.0,524.3 C689.6,533.6 688.0,535.2 688.0,540.7"/><path d="M699.4,504.6 C701.6,509.0 700.5,509.5 706.0,517.7 C711.4,525.9 712.5,525.4 715.8,529.2"/><path d="M1042.8,500.0 C1045.0,505.5 1045.5,505.5 1049.4,516.4 C1053.2,527.3 1052.6,521.8 1054.3,532.8 C1055.9,543.7 1056.5,539.3 1054.3,549.1 C1052.1,559.0 1051.0,555.7 1047.7,562.2 C1044.5,568.8 1045.5,566.6 1044.5,568.8"/><path d="M1060.8,500.0 C1059.2,504.4 1059.2,507.1 1055.9,513.1 C1052.6,519.1 1052.6,516.4 1051.0,518.0"/><path d="M1083.8,532.8 C1085.9,538.2 1085.9,538.2 1090.3,549.1 C1094.7,560.0 1095.8,555.7 1096.9,565.5 C1097.9,575.3 1095.2,569.9 1093.6,578.6 C1091.9,587.3 1093.0,582.4 1091.9,591.7 C1090.9,601.0 1090.3,596.6 1090.3,606.4 C1090.3,616.3 1089.2,613.0 1091.9,621.2 C1094.7,629.4 1093.0,628.3 1098.5,631.0 C1104.0,633.7 1105.0,629.9 1108.3,629.4"/><path d="M1121.4,500.0 C1119.8,505.5 1120.3,505.5 1116.5,516.4 C1112.7,527.3 1114.3,520.2 1110.0,532.8 C1105.6,545.3 1107.8,543.1 1103.4,554.0 C1099.0,565.0 1099.0,561.7 1096.9,565.5"/><path d="M1149.3,500.0 C1150.9,506.6 1152.0,506.0 1154.2,519.7 C1156.4,533.3 1156.4,525.7 1155.8,540.9 C1155.3,556.2 1153.6,555.7 1152.5,565.5 C1151.4,575.3 1152.5,568.8 1152.5,570.4"/><path d="M1123.1,559.0 C1123.6,563.3 1123.1,564.4 1124.7,572.1 C1126.3,579.7 1122.5,580.8 1128.0,581.9 C1133.4,583.0 1132.9,579.1 1141.1,575.3 C1149.3,571.5 1145.4,569.3 1152.5,570.4 C1159.6,571.5 1155.8,571.5 1162.4,578.6 C1168.9,585.7 1168.4,584.1 1172.2,591.7 C1176.0,599.3 1173.3,598.3 1173.8,601.5"/><path d="M1128.0,581.9 C1126.3,585.2 1125.8,585.2 1123.1,591.7 C1120.3,598.3 1120.9,598.3 1119.8,601.5"/><path d="M1173.8,601.5 C1168.4,604.8 1171.1,605.9 1157.4,611.4 C1143.8,616.8 1149.3,611.9 1132.9,617.9 C1116.5,623.9 1120.3,625.0 1108.3,629.4 C1096.3,633.7 1100.7,630.5 1096.9,631.0"/><path d="M1175.5,500.0 C1176.6,508.2 1176.6,509.3 1178.7,524.6 C1180.9,539.8 1178.7,536.6 1182.0,545.9 C1185.3,555.1 1183.1,553.5 1188.6,552.4 C1194.0,551.3 1192.9,549.1 1198.4,542.6 C1203.8,536.0 1202.8,536.0 1204.9,532.8"/><path d="M1182.0,545.9 C1181.5,552.4 1180.9,552.4 1180.4,565.5 C1179.8,578.6 1182.0,574.2 1180.4,585.2 C1178.7,596.1 1177.1,593.9 1175.5,598.3"/><path d="M1188.6,578.6 L1201.7,573.7"/><path d="M1173.8,601.5 C1174.4,608.6 1177.1,609.2 1175.5,622.8 C1173.8,636.5 1173.8,630.5 1168.9,642.5 C1164.0,654.5 1167.3,647.9 1160.7,658.8 C1154.2,669.8 1153.1,669.8 1149.3,675.2"/><path d="M1067.4,568.8 C1069.0,570.4 1069.0,573.7 1072.3,573.7 C1075.6,573.7 1075.6,570.4 1077.2,568.8"/><path d="M1072.3,573.7 C1072.3,578.6 1073.9,578.1 1072.3,588.4 C1070.7,598.8 1070.1,596.1 1067.4,604.8 C1064.7,613.5 1065.2,611.4 1064.1,614.6"/><path d="M1024.8,591.7 C1027.5,595.0 1027.5,600.4 1033.0,601.5 C1038.4,602.6 1038.4,597.2 1041.2,595.0"/><path d="M1033.0,601.5 L1033.0,608.1"/><path d="M1098.5,631.0 C1096.9,634.8 1095.2,635.9 1093.6,642.5 C1091.9,649.0 1093.6,647.9 1093.6,650.7"/><path d="M1054.3,655.6 C1058.6,656.7 1057.6,656.1 1067.4,658.8 C1077.2,661.6 1076.1,658.8 1083.8,663.8 C1091.4,668.7 1088.1,670.3 1090.3,673.6"/><path d="M1041.2,667.0 C1044.5,669.2 1039.5,670.3 1051.0,673.6 C1062.5,676.9 1059.2,676.9 1075.6,676.9 C1091.9,676.9 1086.5,677.9 1100.1,673.6 C1113.8,669.2 1106.7,670.9 1116.5,663.8 C1126.3,656.7 1122.5,659.4 1129.6,652.3 C1136.7,645.2 1135.1,645.7 1137.8,642.5"/><path d="M1041.2,667.0 C1042.3,662.7 1040.1,661.6 1044.5,653.9 C1048.8,646.3 1049.9,656.1 1054.3,644.1 C1058.6,632.1 1056.5,626.6 1057.6,617.9"/><path d="M1024.8,629.4 C1027.0,627.7 1028.1,629.4 1031.4,624.5 C1034.6,619.5 1034.1,620.6 1034.6,614.6 C1035.2,608.6 1033.5,609.2 1033.0,606.4"/><path d="M960.9,626.1 C971.9,627.2 973.5,628.3 993.7,629.4 C1013.9,630.5 1011.2,629.4 1021.5,629.4 C1031.9,629.4 1023.7,629.4 1024.8,629.4"/><path d="M640.2,674.6 C642.4,677.4 640.8,677.9 646.8,682.8 C652.8,687.7 649.0,686.6 658.3,689.4 C667.5,692.1 665.9,691.0 674.6,691.0 C683.4,691.0 679.0,688.8 684.5,689.4 C689.9,689.9 683.4,689.9 691.0,692.6 C698.6,695.4 696.5,695.9 707.4,697.6 C718.3,699.2 712.8,698.6 723.8,697.6 C734.7,696.5 726.5,695.4 740.1,694.3 C753.8,693.2 748.3,693.7 764.7,694.3 C781.1,694.8 778.3,693.7 789.3,695.9 C800.2,698.1 793.1,695.9 797.4,700.8 C801.8,705.7 798.5,703.6 802.4,710.7 C806.2,717.8 806.7,718.3 808.9,722.1"/><path d="M684.5,689.4 C683.4,692.6 683.4,692.1 681.2,699.2 C679.0,706.3 680.6,703.6 677.9,710.7 C675.2,717.8 676.3,716.1 673.0,720.5 C669.7,724.8 669.7,722.7 668.1,723.8"/><path d="M681.2,607.5 C680.6,612.4 678.4,614.0 679.5,622.2 C680.6,630.4 680.6,626.6 684.5,632.1 C688.3,637.5 689.9,633.1 691.0,638.6 C692.1,644.1 691.0,642.4 687.7,648.4 C684.5,654.4 683.4,653.9 681.2,656.6"/><path d="M600.9,674.6 C603.1,671.4 603.7,671.4 607.5,664.8 C611.3,658.3 610.8,658.3 612.4,655.0"/><path d="M612.0,583.0 C619.3,579.0 619.2,578.2 634.0,571.0 C648.8,563.8 634.5,571.2 656.5,561.4 C678.5,551.6 677.2,551.8 700.0,541.7 C722.8,531.6 710.3,536.9 725.0,531.0 C739.7,525.1 737.7,526.3 744.0,524.0"/><path d="M614.0,580.0 C620.3,578.3 620.3,577.3 633.0,575.0 C645.7,572.7 639.0,572.3 652.0,573.0 C665.0,573.7 660.0,573.0 672.0,577.0 C684.0,581.0 682.7,582.3 688.0,585.0"/><path d="M963.7,628.8 C972.5,629.5 969.2,629.9 990.0,631.0 C1010.8,632.1 1011.3,635.0 1026.0,632.0 C1040.7,629.0 1031.8,629.7 1034.0,622.0 C1036.2,614.3 1033.0,613.3 1032.5,609.0"/><path d="M1026.0,632.0 C1031.4,640.7 1037.4,644.0 1042.3,658.2 C1047.2,672.4 1043.5,663.7 1040.7,674.6 C1037.9,685.5 1040.6,681.7 1034.0,691.0 C1027.4,700.3 1025.3,698.7 1021.0,702.5"/><path d="M963.7,628.8 C959.3,636.4 956.0,636.4 950.6,651.7 C945.2,667.0 946.3,659.8 947.4,674.6 C948.5,689.4 951.8,688.9 954.0,696.0"/></g></g><g style="mix-blend-mode:soft-light" opacity="0.5"><g filter="url(#puff)" fill="none" stroke="#000" stroke-width="7" stroke-linecap="round" stroke-linejoin="round"><path d="M538.1,364.7 C541.7,366.9 542.0,365.3 548.8,371.3 C555.6,377.3 555.3,378.9 558.6,382.8"/><path d="M558.6,382.8 C561.3,379.2 560.8,378.9 566.8,372.1 C572.8,365.3 570.6,367.8 576.6,362.3 C582.6,356.8 582.1,357.9 584.8,355.7"/><path d="M584.8,355.7 C588.1,354.9 586.4,353.8 594.6,353.3 C602.8,352.7 600.6,351.6 609.4,354.1 C618.1,356.6 615.9,356.3 620.8,360.7 C625.7,365.0 623.0,365.0 624.1,367.2"/><path d="M584.8,355.7 C585.3,353.0 583.2,353.6 586.4,347.6 C589.7,341.6 587.5,345.4 594.6,337.7 C601.7,330.1 599.0,332.8 607.7,324.6 C616.5,316.4 613.2,319.2 620.8,313.2 C628.5,307.2 627.4,308.8 630.7,306.6"/><path d="M630.7,306.6 C631.5,302.8 633.4,302.8 633.1,295.2 C632.8,287.5 632.6,289.7 629.8,283.7 C627.1,277.7 626.6,279.3 624.9,277.1"/><path d="M569.2,341.0 C572.2,336.6 571.4,336.6 578.3,327.9 C585.1,319.2 584.3,321.9 589.7,314.8 C595.2,307.7 593.0,309.3 594.6,306.6"/><path d="M594.6,306.6 C596.8,307.4 596.3,309.1 601.2,309.1 C606.1,309.1 606.1,309.1 609.4,306.6 C612.6,304.2 610.5,303.3 611.0,301.7"/><path d="M594.6,306.6 L593.0,299.2"/><path d="M630.7,306.6 C634.5,305.0 635.0,301.2 642.1,301.7 C649.2,302.2 647.0,308.3 651.9,308.3 C656.9,308.3 654.1,307.2 656.9,301.7 C659.6,296.2 655.8,297.9 660.1,291.9 C664.5,285.9 661.2,287.5 670.0,283.7 C678.7,279.9 673.2,282.6 686.3,280.4 C699.4,278.2 696.7,279.9 709.3,277.1 C721.8,274.4 716.9,275.5 724.0,272.2 C731.1,269.0 725.1,270.0 730.5,267.3 C736.0,264.6 736.0,269.0 740.4,264.0 C744.7,259.1 743.6,260.2 743.6,252.6 C743.6,244.9 741.5,244.9 740.4,241.1"/><path d="M633.1,352.5 C632.3,348.6 629.3,349.2 630.7,341.0 C632.0,332.8 630.7,335.5 637.2,327.9 C643.8,320.3 641.6,322.4 650.3,318.1 C659.0,313.7 654.7,313.2 663.4,314.8 C672.1,316.4 671.3,317.5 676.5,323.0 C681.7,328.4 678.1,328.4 679.0,331.2"/><path d="M676.5,323.0 C680.9,320.3 678.7,320.8 689.6,314.8 C700.5,308.8 695.6,311.0 709.3,305.0 C722.9,299.0 717.4,300.6 730.5,296.8 C743.6,293.0 739.3,295.2 748.6,293.5 C757.8,291.9 755.7,295.7 758.4,291.9 C761.1,288.1 758.9,287.5 756.7,282.1 C754.6,276.6 753.5,277.7 751.8,275.5"/><path d="M633.1,352.5 C636.7,351.9 633.1,351.9 643.8,350.8 C654.4,349.7 650.9,348.6 665.0,349.2 C679.2,349.7 675.4,354.7 686.3,352.5 C697.2,350.3 689.1,349.7 697.8,342.6 C706.5,335.5 703.3,337.2 712.5,331.2 C721.8,325.2 718.0,329.0 725.6,324.6 C733.3,320.3 732.2,320.3 735.5,318.1"/><path d="M686.3,352.5 C685.8,357.4 685.8,356.8 684.7,367.2 C683.6,377.6 682.0,374.8 683.1,383.6 C684.1,392.3 683.1,389.0 688.0,393.4 C692.9,397.8 694.5,395.6 697.8,396.7"/><path d="M722.4,362.3 C723.4,365.0 725.1,365.0 725.6,370.5 C726.2,375.9 724.5,375.9 724.0,378.7"/><path d="M715.8,362.3 L722.4,362.3"/><path d="M758.4,291.9 C761.1,296.2 764.4,295.2 766.6,305.0 C768.8,314.8 767.7,309.3 764.9,321.4 C762.2,333.4 761.1,326.3 758.4,341.0 C755.7,355.7 756.7,351.9 756.7,365.6 C756.7,379.2 757.8,376.5 758.4,381.9"/><path d="M645.4,380.3 C647.0,381.4 646.5,383.6 650.3,383.6 C654.1,383.6 654.7,381.4 656.9,380.3"/><path d="M650.3,383.6 L650.3,393.4"/><path d="M622.5,367.2 C624.1,365.0 623.8,365.6 627.4,360.7 C630.9,355.7 631.2,355.2 633.1,352.5"/><path d="M740.4,264.0 C746.4,263.5 745.2,262.4 758.4,262.4 C771.6,262.4 772.8,263.5 780.0,264.0"/><path d="M709.3,236.2 C714.7,237.3 714.7,237.8 725.6,239.5 C736.6,241.1 731.1,242.8 742.0,241.1 C752.9,239.5 745.7,237.3 758.4,234.6 C771.0,231.8 772.8,233.5 780.0,232.9"/><path d="M780.0,238.7 C785.5,239.2 786.0,240.3 796.4,240.3 C806.7,240.3 804.8,242.8 811.1,238.7 C817.4,234.6 813.8,231.6 815.2,228.0"/><path d="M811.1,239.5 C817.1,241.4 816.6,241.9 829.1,245.2 C841.7,248.5 834.6,247.4 848.8,249.3 C863.0,251.2 857.5,249.8 871.7,250.9 C885.9,252.0 877.7,252.8 891.4,252.6 C905.0,252.3 900.6,253.4 912.6,250.1 C924.7,246.8 920.3,246.3 927.4,242.8 C934.5,239.2 931.7,240.6 933.9,239.5"/><path d="M912.6,250.1 C920.3,252.6 920.3,252.3 935.6,257.5 C950.9,262.7 944.8,260.8 958.5,265.7 C972.1,270.6 965.0,267.9 976.5,272.2 C988.0,276.6 980.9,272.2 992.9,278.8 C1004.9,285.3 1006.0,287.5 1012.5,291.9"/><path d="M958.5,265.7 C964.5,263.5 963.4,262.4 976.5,259.1 C989.6,255.9 988.0,256.7 997.8,255.9 C1007.6,255.0 1003.3,256.4 1006.0,256.7"/><path d="M992.9,278.8 C995.6,276.6 992.9,276.6 1001.1,272.2 C1009.3,267.9 1008.2,268.4 1017.4,265.7 C1026.7,262.9 1025.1,264.6 1028.9,264.0"/><path d="M1012.5,291.9 C1016.9,294.1 1013.6,299.0 1025.6,298.4 C1037.6,297.9 1040.4,295.2 1048.6,290.2 C1056.7,285.3 1049.7,285.9 1050.2,283.7"/><path d="M1048.6,290.2 C1051.3,295.7 1055.1,295.2 1056.7,306.6 C1058.4,318.1 1054.6,318.6 1053.5,324.6"/><path d="M1012.5,291.9 C1013.6,295.2 1021.3,294.1 1015.8,301.7 C1010.3,309.3 1003.3,308.3 996.2,314.8 C989.1,321.4 995.1,319.2 994.5,321.4"/><path d="M780.0,273.9 C782.7,275.0 786.0,273.3 788.2,277.1 C790.4,281.0 787.1,282.6 786.6,285.3"/><path d="M780.0,306.6 C788.2,307.2 793.6,303.3 804.6,308.3 C815.5,313.2 806.7,313.2 812.8,321.4 C818.8,329.5 815.5,331.7 822.6,332.8 C829.7,333.9 823.7,329.5 834.0,324.6 C844.4,319.7 841.1,321.4 853.7,318.1 C866.2,314.8 862.4,320.3 871.7,314.8 C881.0,309.3 873.9,311.0 881.5,301.7 C889.2,292.4 887.0,294.1 894.6,287.0 C902.3,279.9 899.0,282.3 904.5,280.4 C909.9,278.5 908.8,281.0 911.0,281.2"/><path d="M804.6,308.3 C808.9,301.7 807.8,297.9 817.7,288.6 C827.5,279.3 822.6,281.0 834.0,280.4 C845.5,279.9 844.4,283.1 852.1,287.0 C859.7,290.8 855.3,290.2 857.0,291.9"/><path d="M852.1,287.0 C853.1,284.2 848.8,284.8 855.3,278.8 C861.9,272.8 861.9,275.5 871.7,269.0 C881.5,262.4 878.3,264.0 884.8,259.1 C891.4,254.2 889.2,255.9 891.4,254.2"/><path d="M871.7,314.8 C876.1,317.5 876.1,317.5 884.8,323.0 C893.5,328.4 892.4,331.7 897.9,331.2 C903.4,330.6 899.0,326.8 901.2,321.4 C903.4,315.9 903.4,317.0 904.5,314.8"/><path d="M897.9,331.2 C900.1,334.5 897.4,336.1 904.5,341.0 C911.6,345.9 909.9,343.7 919.2,345.9 C928.5,348.1 924.1,348.1 932.3,347.6 C940.5,347.0 930.1,349.7 943.8,344.3 C957.4,338.8 956.9,338.3 973.2,331.2 C989.6,324.1 985.2,328.4 992.9,323.0 C1000.5,317.5 995.1,317.5 996.2,314.8"/><path d="M932.3,347.6 C931.7,343.2 929.6,345.4 930.7,334.5 C931.7,323.5 933.4,324.1 935.6,314.8 C937.8,305.5 942.1,311.5 937.2,306.6 C932.3,301.7 927.4,302.8 920.8,300.1 C914.3,297.3 918.6,299.0 917.6,298.4"/><path d="M937.2,306.6 C939.4,305.0 933.4,306.1 943.8,301.7 C954.1,297.3 951.9,297.9 968.3,293.5 C984.7,289.1 979.2,289.1 992.9,288.6 C1006.5,288.1 1003.8,290.8 1009.3,291.9"/><path d="M937.2,306.6 C938.3,297.9 940.5,294.1 940.5,280.4 C940.5,266.8 938.3,270.6 937.2,265.7"/><path d="M996.2,323.0 L1012.5,327.9"/><path d="M858.6,344.3 C859.1,348.6 861.9,347.6 860.2,357.4 C858.6,367.2 856.4,362.8 853.7,373.8 C851.0,384.7 852.6,384.7 852.1,390.1"/><path d="M822.6,332.8 C820.9,338.3 820.4,337.7 817.7,349.2 C814.9,360.7 816.0,356.3 814.4,367.2 C812.8,378.1 813.3,377.0 812.8,381.9"/><path d="M943.8,344.3 C945.9,347.0 947.6,348.1 950.3,352.5 C953.0,356.8 951.4,355.7 951.9,357.4"/><path d="M937.2,367.2 C939.9,371.6 941.0,373.2 945.4,380.3 C949.8,387.4 948.7,385.8 950.3,388.5"/><path d="M780.0,341.0 C781.6,344.3 783.8,343.2 784.9,350.8 C786.0,358.5 782.7,356.3 783.3,363.9 C783.8,371.6 785.5,370.5 786.6,373.8"/><path d="M968.3,314.8 L965.0,324.6"/><path d="M973.1,334.9 C974.2,339.8 972.6,342.6 976.4,349.7 C980.2,356.7 973.6,353.5 984.6,356.2 C995.5,358.9 992.8,355.1 1009.1,357.8 C1025.5,360.6 1017.3,361.1 1033.7,364.4 C1050.1,367.7 1044.6,369.8 1058.3,367.7 C1071.9,365.5 1068.1,362.2 1074.6,357.8 C1081.2,353.5 1076.8,355.7 1077.9,354.6"/><path d="M1058.3,367.7 C1061.5,370.9 1061.5,372.6 1068.1,377.5 C1074.6,382.4 1071.4,382.4 1077.9,382.4 C1084.5,382.4 1084.5,379.1 1087.7,377.5"/><path d="M1074.6,357.8 C1079.0,359.5 1080.6,356.7 1087.7,362.8 C1094.8,368.8 1091.6,369.3 1095.9,375.9 C1100.3,382.4 1099.2,380.2 1100.8,382.4"/><path d="M1073.0,349.7 C1076.8,352.9 1075.7,354.0 1084.5,359.5 C1093.2,364.9 1091.6,359.5 1099.2,366.0 C1106.8,372.6 1102.5,373.1 1107.4,379.1 C1112.3,385.1 1111.7,382.4 1113.9,384.0"/><path d="M960.0,377.5 C965.5,374.8 965.5,372.6 976.4,369.3 C987.3,366.0 983.5,366.6 992.8,367.7 C1002.0,368.8 999.8,367.1 1004.2,372.6 C1008.6,378.0 999.8,377.5 1005.9,384.0 C1011.9,390.6 1012.4,386.2 1022.2,392.2 C1032.1,398.2 1028.2,394.4 1035.3,402.1 C1042.4,409.7 1039.1,405.9 1043.5,415.2 C1047.9,424.4 1043.5,420.1 1048.4,429.9 C1053.3,439.7 1053.9,434.3 1058.3,444.6 C1062.6,455.0 1059.3,447.4 1061.5,461.0 C1063.7,474.7 1064.8,470.3 1064.8,485.6 C1064.8,500.9 1064.8,496.5 1061.5,506.9 C1058.3,517.2 1057.2,513.4 1055.0,516.7"/><path d="M974.7,400.4 C977.5,401.5 981.3,398.2 982.9,403.7 C984.6,409.1 980.2,408.6 979.7,416.8 C979.1,425.0 980.7,424.4 981.3,428.3"/><path d="M1010.8,411.9 C1011.3,415.2 1013.5,416.2 1012.4,421.7 C1011.3,427.2 1002.0,424.4 1007.5,428.3 C1012.9,432.1 1016.2,431.0 1028.8,433.2 C1041.3,435.3 1039.7,434.3 1045.2,434.8"/><path d="M960.0,456.1 C965.5,457.7 966.6,460.5 976.4,461.0 C986.2,461.6 982.9,461.0 989.5,457.7 C996.0,454.5 993.3,450.1 996.0,451.2 C998.8,452.3 995.5,453.9 997.7,461.0 C999.8,468.1 1000.9,468.6 1002.6,472.5"/><path d="M1025.5,461.0 C1027.7,465.4 1027.1,465.4 1032.1,474.1 C1037.0,482.8 1035.9,476.3 1040.2,487.2 C1044.6,498.1 1041.3,497.0 1045.2,506.9 C1049.0,516.7 1049.5,513.4 1051.7,516.7"/><path d="M1063.2,400.4 C1065.9,404.2 1066.4,402.6 1071.4,411.9 C1076.3,421.2 1073.0,415.7 1077.9,428.3 C1082.8,440.8 1081.7,435.9 1086.1,449.5 C1090.5,463.2 1088.8,454.5 1091.0,469.2 C1093.2,483.9 1092.6,477.9 1092.6,493.8 C1092.6,509.6 1091.6,509.0 1091.0,516.7"/><path d="M1100.8,385.7 C1105.2,389.0 1107.4,388.4 1113.9,395.5 C1120.5,402.6 1119.4,399.3 1120.5,407.0 C1121.6,414.6 1119.9,413.5 1117.2,418.4 C1114.5,423.3 1115.6,417.3 1112.3,421.7 C1109.0,426.1 1107.4,423.9 1107.4,431.5 C1107.4,439.2 1109.0,434.8 1112.3,444.6 C1115.6,454.5 1114.5,450.1 1117.2,461.0 C1119.9,471.9 1118.8,463.7 1120.5,477.4 C1122.1,491.0 1122.7,488.8 1122.1,501.9 C1121.6,515.0 1119.9,511.8 1118.8,516.7"/><path d="M1120.5,407.0 C1124.8,410.8 1127.6,413.0 1133.6,418.4 C1139.6,423.9 1136.3,417.9 1138.5,423.3 C1140.7,428.8 1138.5,425.5 1140.1,434.8 C1141.8,444.1 1140.1,442.4 1143.4,451.2 C1146.7,459.9 1145.6,452.3 1150.0,461.0 C1154.3,469.7 1151.0,463.7 1156.5,477.4 C1162.0,491.0 1160.9,488.8 1166.3,501.9 C1171.8,515.0 1170.7,511.8 1172.9,516.7"/><path d="M1117.2,418.4 C1119.4,417.3 1118.8,414.1 1123.8,415.2 C1128.7,416.2 1129.2,419.5 1131.9,421.7"/><path d="M1140.1,411.9 C1142.3,408.6 1138.5,407.5 1146.7,402.1 C1154.9,396.6 1158.1,401.0 1164.7,395.5 C1171.2,390.0 1166.9,391.7 1166.3,385.7 C1165.8,379.7 1164.1,380.2 1163.1,377.5"/><path d="M1148.3,402.1 C1147.2,396.0 1147.2,394.4 1145.0,384.0 C1142.9,373.7 1142.9,375.3 1141.8,370.9"/><path d="M1151.6,434.8 C1156.0,433.2 1157.1,429.9 1164.7,429.9 C1172.3,429.9 1168.0,427.2 1174.5,434.8 C1181.1,442.4 1179.4,438.6 1184.3,452.8 C1189.3,467.0 1186.5,461.0 1189.3,477.4 C1192.0,493.8 1190.3,488.8 1192.5,501.9 C1194.7,515.0 1194.7,511.8 1195.8,516.7"/><path d="M1122.1,459.4 C1127.0,458.3 1128.7,457.7 1136.9,456.1 C1145.0,454.5 1143.4,455.0 1146.7,454.5"/><path d="M1176.2,434.8 C1177.8,432.6 1177.8,432.6 1181.1,428.3 C1184.3,423.9 1184.3,423.9 1186.0,421.7"/><path d="M520.9,429.3 C520.4,434.2 522.0,433.1 519.3,444.0 C516.6,455.0 516.0,449.5 512.8,462.1 C509.5,474.6 509.5,470.2 509.5,481.7 C509.5,493.2 511.7,491.5 512.8,496.4"/><path d="M557.0,390.0 C553.1,395.5 551.0,395.5 545.5,406.4 C540.0,417.3 542.2,411.8 540.6,422.8 C539.0,433.7 539.0,428.8 540.6,439.1 C542.2,449.5 546.6,446.2 545.5,453.9 C544.4,461.5 542.2,452.8 537.3,462.1 C532.4,471.3 534.6,469.7 530.8,481.7 C526.9,493.7 534.0,488.3 525.9,498.1 C517.7,507.9 516.0,501.9 506.2,511.2 C496.4,520.5 499.7,521.0 496.4,525.9"/><path d="M545.5,453.9 C551.0,453.3 553.1,457.1 561.9,452.2 C570.6,447.3 565.2,447.9 571.7,439.1 C578.3,430.4 576.6,432.0 581.5,426.0 C586.4,420.0 583.2,427.7 586.4,421.1 C589.7,414.6 588.6,416.7 591.4,406.4 C594.1,396.0 593.5,395.5 594.6,390.0"/><path d="M586.4,421.1 C590.3,427.1 590.8,426.6 597.9,439.1 C605.0,451.7 601.7,448.4 607.7,458.8 C613.7,469.1 606.6,465.3 615.9,470.2 C625.2,475.2 623.6,473.5 635.6,473.5 C647.6,473.5 643.2,476.2 651.9,470.2 C660.7,464.2 656.9,467.0 661.8,455.5 C666.7,444.0 665.6,446.8 666.7,435.9 C667.8,424.9 668.3,431.5 665.0,422.8 C661.8,414.0 662.9,415.1 656.9,409.7 C650.9,404.2 653.6,404.2 647.0,406.4 C640.5,408.6 642.1,409.7 637.2,416.2 C632.3,422.8 633.9,422.8 632.3,426.0"/><path d="M647.0,406.4 L648.7,390.0"/><path d="M666.7,429.3 C668.9,426.0 668.9,427.1 673.2,419.5 C677.6,411.8 674.3,413.5 679.8,406.4 C685.2,399.3 679.8,399.8 689.6,398.2 C699.4,396.6 700.0,399.3 709.3,401.5 C718.5,403.6 714.7,403.6 717.4,404.7"/><path d="M615.9,470.2 C612.1,474.1 610.5,474.6 604.5,481.7 C598.4,488.8 604.5,489.9 597.9,491.5 C591.4,493.2 590.8,488.8 584.8,486.6 C578.8,484.4 581.5,485.5 579.9,485.0"/><path d="M584.8,486.6 C585.3,481.7 587.0,479.0 586.4,471.9 C585.9,464.8 584.3,467.5 583.2,465.3"/><path d="M597.9,491.5 C597.9,497.0 596.8,498.1 597.9,507.9 C599.0,517.7 596.8,511.7 601.2,521.0 C605.5,530.3 605.0,528.1 611.0,535.7 C617.0,543.4 613.7,541.7 619.2,543.9 C624.7,546.1 624.7,542.8 627.4,542.3"/><path d="M558.6,481.7 C559.7,486.6 559.7,487.2 561.9,496.4 C564.1,505.7 561.9,499.7 565.2,509.5 C568.4,519.4 566.2,515.5 571.7,525.9 C577.2,536.3 573.9,530.8 581.5,540.7 C589.2,550.5 585.9,546.7 594.6,555.4 C603.4,564.1 600.6,559.2 607.7,566.9 C614.8,574.5 613.2,574.5 615.9,578.3"/><path d="M530.8,511.2 C531.9,517.2 530.2,517.7 534.0,529.2 C537.9,540.7 536.8,534.7 542.2,545.6 C547.7,556.5 545.5,551.0 550.4,561.9 C555.3,572.9 554.8,572.9 557.0,578.3"/><path d="M512.8,527.6 C512.2,531.9 511.1,531.9 511.1,540.7 C511.1,549.4 510.6,543.9 512.8,553.8 C514.9,563.6 516.0,564.7 517.7,570.1"/><path d="M511.1,540.7 C512.8,539.6 512.2,540.7 516.0,537.4 C519.8,534.1 520.4,533.0 522.6,530.8"/><path d="M632.3,494.8 C633.9,498.1 636.1,498.6 637.2,504.6 C638.3,510.6 639.9,510.6 635.6,512.8 C631.2,515.0 627.9,511.7 624.1,511.2"/><path d="M635.6,512.8 C637.2,515.5 635.6,513.9 640.5,521.0 C645.4,528.1 644.8,525.4 650.3,534.1 C655.8,542.8 655.2,538.5 656.9,547.2 C658.5,555.9 657.9,552.1 655.2,560.3 C652.5,568.5 650.9,567.9 648.7,571.8"/><path d="M665.0,494.8 C667.2,498.1 665.6,498.6 671.6,504.6 C677.6,510.6 675.4,511.2 683.1,512.8 C690.7,514.5 689.1,513.4 694.5,509.5 C700.0,505.7 697.2,508.4 699.4,501.4 C701.6,494.3 697.8,494.3 701.1,488.3 C704.3,482.2 706.5,485.0 709.3,483.3"/><path d="M683.1,512.8 C684.7,516.6 686.3,515.0 688.0,524.3 C689.6,533.6 688.0,535.2 688.0,540.7"/><path d="M699.4,504.6 C701.6,509.0 700.5,509.5 706.0,517.7 C711.4,525.9 712.5,525.4 715.8,529.2"/><path d="M1042.8,500.0 C1045.0,505.5 1045.5,505.5 1049.4,516.4 C1053.2,527.3 1052.6,521.8 1054.3,532.8 C1055.9,543.7 1056.5,539.3 1054.3,549.1 C1052.1,559.0 1051.0,555.7 1047.7,562.2 C1044.5,568.8 1045.5,566.6 1044.5,568.8"/><path d="M1060.8,500.0 C1059.2,504.4 1059.2,507.1 1055.9,513.1 C1052.6,519.1 1052.6,516.4 1051.0,518.0"/><path d="M1083.8,532.8 C1085.9,538.2 1085.9,538.2 1090.3,549.1 C1094.7,560.0 1095.8,555.7 1096.9,565.5 C1097.9,575.3 1095.2,569.9 1093.6,578.6 C1091.9,587.3 1093.0,582.4 1091.9,591.7 C1090.9,601.0 1090.3,596.6 1090.3,606.4 C1090.3,616.3 1089.2,613.0 1091.9,621.2 C1094.7,629.4 1093.0,628.3 1098.5,631.0 C1104.0,633.7 1105.0,629.9 1108.3,629.4"/><path d="M1121.4,500.0 C1119.8,505.5 1120.3,505.5 1116.5,516.4 C1112.7,527.3 1114.3,520.2 1110.0,532.8 C1105.6,545.3 1107.8,543.1 1103.4,554.0 C1099.0,565.0 1099.0,561.7 1096.9,565.5"/><path d="M1149.3,500.0 C1150.9,506.6 1152.0,506.0 1154.2,519.7 C1156.4,533.3 1156.4,525.7 1155.8,540.9 C1155.3,556.2 1153.6,555.7 1152.5,565.5 C1151.4,575.3 1152.5,568.8 1152.5,570.4"/><path d="M1123.1,559.0 C1123.6,563.3 1123.1,564.4 1124.7,572.1 C1126.3,579.7 1122.5,580.8 1128.0,581.9 C1133.4,583.0 1132.9,579.1 1141.1,575.3 C1149.3,571.5 1145.4,569.3 1152.5,570.4 C1159.6,571.5 1155.8,571.5 1162.4,578.6 C1168.9,585.7 1168.4,584.1 1172.2,591.7 C1176.0,599.3 1173.3,598.3 1173.8,601.5"/><path d="M1128.0,581.9 C1126.3,585.2 1125.8,585.2 1123.1,591.7 C1120.3,598.3 1120.9,598.3 1119.8,601.5"/><path d="M1173.8,601.5 C1168.4,604.8 1171.1,605.9 1157.4,611.4 C1143.8,616.8 1149.3,611.9 1132.9,617.9 C1116.5,623.9 1120.3,625.0 1108.3,629.4 C1096.3,633.7 1100.7,630.5 1096.9,631.0"/><path d="M1175.5,500.0 C1176.6,508.2 1176.6,509.3 1178.7,524.6 C1180.9,539.8 1178.7,536.6 1182.0,545.9 C1185.3,555.1 1183.1,553.5 1188.6,552.4 C1194.0,551.3 1192.9,549.1 1198.4,542.6 C1203.8,536.0 1202.8,536.0 1204.9,532.8"/><path d="M1182.0,545.9 C1181.5,552.4 1180.9,552.4 1180.4,565.5 C1179.8,578.6 1182.0,574.2 1180.4,585.2 C1178.7,596.1 1177.1,593.9 1175.5,598.3"/><path d="M1188.6,578.6 L1201.7,573.7"/><path d="M1173.8,601.5 C1174.4,608.6 1177.1,609.2 1175.5,622.8 C1173.8,636.5 1173.8,630.5 1168.9,642.5 C1164.0,654.5 1167.3,647.9 1160.7,658.8 C1154.2,669.8 1153.1,669.8 1149.3,675.2"/><path d="M1067.4,568.8 C1069.0,570.4 1069.0,573.7 1072.3,573.7 C1075.6,573.7 1075.6,570.4 1077.2,568.8"/><path d="M1072.3,573.7 C1072.3,578.6 1073.9,578.1 1072.3,588.4 C1070.7,598.8 1070.1,596.1 1067.4,604.8 C1064.7,613.5 1065.2,611.4 1064.1,614.6"/><path d="M1024.8,591.7 C1027.5,595.0 1027.5,600.4 1033.0,601.5 C1038.4,602.6 1038.4,597.2 1041.2,595.0"/><path d="M1033.0,601.5 L1033.0,608.1"/><path d="M1098.5,631.0 C1096.9,634.8 1095.2,635.9 1093.6,642.5 C1091.9,649.0 1093.6,647.9 1093.6,650.7"/><path d="M1054.3,655.6 C1058.6,656.7 1057.6,656.1 1067.4,658.8 C1077.2,661.6 1076.1,658.8 1083.8,663.8 C1091.4,668.7 1088.1,670.3 1090.3,673.6"/><path d="M1041.2,667.0 C1044.5,669.2 1039.5,670.3 1051.0,673.6 C1062.5,676.9 1059.2,676.9 1075.6,676.9 C1091.9,676.9 1086.5,677.9 1100.1,673.6 C1113.8,669.2 1106.7,670.9 1116.5,663.8 C1126.3,656.7 1122.5,659.4 1129.6,652.3 C1136.7,645.2 1135.1,645.7 1137.8,642.5"/><path d="M1041.2,667.0 C1042.3,662.7 1040.1,661.6 1044.5,653.9 C1048.8,646.3 1049.9,656.1 1054.3,644.1 C1058.6,632.1 1056.5,626.6 1057.6,617.9"/><path d="M1024.8,629.4 C1027.0,627.7 1028.1,629.4 1031.4,624.5 C1034.6,619.5 1034.1,620.6 1034.6,614.6 C1035.2,608.6 1033.5,609.2 1033.0,606.4"/><path d="M960.9,626.1 C971.9,627.2 973.5,628.3 993.7,629.4 C1013.9,630.5 1011.2,629.4 1021.5,629.4 C1031.9,629.4 1023.7,629.4 1024.8,629.4"/><path d="M640.2,674.6 C642.4,677.4 640.8,677.9 646.8,682.8 C652.8,687.7 649.0,686.6 658.3,689.4 C667.5,692.1 665.9,691.0 674.6,691.0 C683.4,691.0 679.0,688.8 684.5,689.4 C689.9,689.9 683.4,689.9 691.0,692.6 C698.6,695.4 696.5,695.9 707.4,697.6 C718.3,699.2 712.8,698.6 723.8,697.6 C734.7,696.5 726.5,695.4 740.1,694.3 C753.8,693.2 748.3,693.7 764.7,694.3 C781.1,694.8 778.3,693.7 789.3,695.9 C800.2,698.1 793.1,695.9 797.4,700.8 C801.8,705.7 798.5,703.6 802.4,710.7 C806.2,717.8 806.7,718.3 808.9,722.1"/><path d="M684.5,689.4 C683.4,692.6 683.4,692.1 681.2,699.2 C679.0,706.3 680.6,703.6 677.9,710.7 C675.2,717.8 676.3,716.1 673.0,720.5 C669.7,724.8 669.7,722.7 668.1,723.8"/><path d="M681.2,607.5 C680.6,612.4 678.4,614.0 679.5,622.2 C680.6,630.4 680.6,626.6 684.5,632.1 C688.3,637.5 689.9,633.1 691.0,638.6 C692.1,644.1 691.0,642.4 687.7,648.4 C684.5,654.4 683.4,653.9 681.2,656.6"/><path d="M600.9,674.6 C603.1,671.4 603.7,671.4 607.5,664.8 C611.3,658.3 610.8,658.3 612.4,655.0"/><path d="M612.0,583.0 C619.3,579.0 619.2,578.2 634.0,571.0 C648.8,563.8 634.5,571.2 656.5,561.4 C678.5,551.6 677.2,551.8 700.0,541.7 C722.8,531.6 710.3,536.9 725.0,531.0 C739.7,525.1 737.7,526.3 744.0,524.0"/><path d="M614.0,580.0 C620.3,578.3 620.3,577.3 633.0,575.0 C645.7,572.7 639.0,572.3 652.0,573.0 C665.0,573.7 660.0,573.0 672.0,577.0 C684.0,581.0 682.7,582.3 688.0,585.0"/><path d="M963.7,628.8 C972.5,629.5 969.2,629.9 990.0,631.0 C1010.8,632.1 1011.3,635.0 1026.0,632.0 C1040.7,629.0 1031.8,629.7 1034.0,622.0 C1036.2,614.3 1033.0,613.3 1032.5,609.0"/><path d="M1026.0,632.0 C1031.4,640.7 1037.4,644.0 1042.3,658.2 C1047.2,672.4 1043.5,663.7 1040.7,674.6 C1037.9,685.5 1040.6,681.7 1034.0,691.0 C1027.4,700.3 1025.3,698.7 1021.0,702.5"/><path d="M963.7,628.8 C959.3,636.4 956.0,636.4 950.6,651.7 C945.2,667.0 946.3,659.8 947.4,674.6 C948.5,689.4 951.8,688.9 954.0,696.0"/></g></g><g fill="none" stroke-linecap="round" stroke-linejoin="round"><g stroke="#c48e7b" stroke-width="2.1" filter="url(#bl07)" opacity="0.95"><path d="M538.1,364.7 C541.7,366.9 542.0,365.3 548.8,371.3 C555.6,377.3 555.3,378.9 558.6,382.8"/><path d="M558.6,382.8 C561.3,379.2 560.8,378.9 566.8,372.1 C572.8,365.3 570.6,367.8 576.6,362.3 C582.6,356.8 582.1,357.9 584.8,355.7"/><path d="M584.8,355.7 C588.1,354.9 586.4,353.8 594.6,353.3 C602.8,352.7 600.6,351.6 609.4,354.1 C618.1,356.6 615.9,356.3 620.8,360.7 C625.7,365.0 623.0,365.0 624.1,367.2"/><path d="M584.8,355.7 C585.3,353.0 583.2,353.6 586.4,347.6 C589.7,341.6 587.5,345.4 594.6,337.7 C601.7,330.1 599.0,332.8 607.7,324.6 C616.5,316.4 613.2,319.2 620.8,313.2 C628.5,307.2 627.4,308.8 630.7,306.6"/><path d="M630.7,306.6 C631.5,302.8 633.4,302.8 633.1,295.2 C632.8,287.5 632.6,289.7 629.8,283.7 C627.1,277.7 626.6,279.3 624.9,277.1"/><path d="M569.2,341.0 C572.2,336.6 571.4,336.6 578.3,327.9 C585.1,319.2 584.3,321.9 589.7,314.8 C595.2,307.7 593.0,309.3 594.6,306.6"/><path d="M594.6,306.6 C596.8,307.4 596.3,309.1 601.2,309.1 C606.1,309.1 606.1,309.1 609.4,306.6 C612.6,304.2 610.5,303.3 611.0,301.7"/><path d="M594.6,306.6 L593.0,299.2"/><path d="M630.7,306.6 C634.5,305.0 635.0,301.2 642.1,301.7 C649.2,302.2 647.0,308.3 651.9,308.3 C656.9,308.3 654.1,307.2 656.9,301.7 C659.6,296.2 655.8,297.9 660.1,291.9 C664.5,285.9 661.2,287.5 670.0,283.7 C678.7,279.9 673.2,282.6 686.3,280.4 C699.4,278.2 696.7,279.9 709.3,277.1 C721.8,274.4 716.9,275.5 724.0,272.2 C731.1,269.0 725.1,270.0 730.5,267.3 C736.0,264.6 736.0,269.0 740.4,264.0 C744.7,259.1 743.6,260.2 743.6,252.6 C743.6,244.9 741.5,244.9 740.4,241.1"/><path d="M633.1,352.5 C632.3,348.6 629.3,349.2 630.7,341.0 C632.0,332.8 630.7,335.5 637.2,327.9 C643.8,320.3 641.6,322.4 650.3,318.1 C659.0,313.7 654.7,313.2 663.4,314.8 C672.1,316.4 671.3,317.5 676.5,323.0 C681.7,328.4 678.1,328.4 679.0,331.2"/><path d="M676.5,323.0 C680.9,320.3 678.7,320.8 689.6,314.8 C700.5,308.8 695.6,311.0 709.3,305.0 C722.9,299.0 717.4,300.6 730.5,296.8 C743.6,293.0 739.3,295.2 748.6,293.5 C757.8,291.9 755.7,295.7 758.4,291.9 C761.1,288.1 758.9,287.5 756.7,282.1 C754.6,276.6 753.5,277.7 751.8,275.5"/><path d="M633.1,352.5 C636.7,351.9 633.1,351.9 643.8,350.8 C654.4,349.7 650.9,348.6 665.0,349.2 C679.2,349.7 675.4,354.7 686.3,352.5 C697.2,350.3 689.1,349.7 697.8,342.6 C706.5,335.5 703.3,337.2 712.5,331.2 C721.8,325.2 718.0,329.0 725.6,324.6 C733.3,320.3 732.2,320.3 735.5,318.1"/><path d="M686.3,352.5 C685.8,357.4 685.8,356.8 684.7,367.2 C683.6,377.6 682.0,374.8 683.1,383.6 C684.1,392.3 683.1,389.0 688.0,393.4 C692.9,397.8 694.5,395.6 697.8,396.7"/><path d="M722.4,362.3 C723.4,365.0 725.1,365.0 725.6,370.5 C726.2,375.9 724.5,375.9 724.0,378.7"/><path d="M715.8,362.3 L722.4,362.3"/><path d="M758.4,291.9 C761.1,296.2 764.4,295.2 766.6,305.0 C768.8,314.8 767.7,309.3 764.9,321.4 C762.2,333.4 761.1,326.3 758.4,341.0 C755.7,355.7 756.7,351.9 756.7,365.6 C756.7,379.2 757.8,376.5 758.4,381.9"/><path d="M645.4,380.3 C647.0,381.4 646.5,383.6 650.3,383.6 C654.1,383.6 654.7,381.4 656.9,380.3"/><path d="M650.3,383.6 L650.3,393.4"/><path d="M622.5,367.2 C624.1,365.0 623.8,365.6 627.4,360.7 C630.9,355.7 631.2,355.2 633.1,352.5"/><path d="M740.4,264.0 C746.4,263.5 745.2,262.4 758.4,262.4 C771.6,262.4 772.8,263.5 780.0,264.0"/><path d="M709.3,236.2 C714.7,237.3 714.7,237.8 725.6,239.5 C736.6,241.1 731.1,242.8 742.0,241.1 C752.9,239.5 745.7,237.3 758.4,234.6 C771.0,231.8 772.8,233.5 780.0,232.9"/><path d="M780.0,238.7 C785.5,239.2 786.0,240.3 796.4,240.3 C806.7,240.3 804.8,242.8 811.1,238.7 C817.4,234.6 813.8,231.6 815.2,228.0"/><path d="M811.1,239.5 C817.1,241.4 816.6,241.9 829.1,245.2 C841.7,248.5 834.6,247.4 848.8,249.3 C863.0,251.2 857.5,249.8 871.7,250.9 C885.9,252.0 877.7,252.8 891.4,252.6 C905.0,252.3 900.6,253.4 912.6,250.1 C924.7,246.8 920.3,246.3 927.4,242.8 C934.5,239.2 931.7,240.6 933.9,239.5"/><path d="M912.6,250.1 C920.3,252.6 920.3,252.3 935.6,257.5 C950.9,262.7 944.8,260.8 958.5,265.7 C972.1,270.6 965.0,267.9 976.5,272.2 C988.0,276.6 980.9,272.2 992.9,278.8 C1004.9,285.3 1006.0,287.5 1012.5,291.9"/><path d="M958.5,265.7 C964.5,263.5 963.4,262.4 976.5,259.1 C989.6,255.9 988.0,256.7 997.8,255.9 C1007.6,255.0 1003.3,256.4 1006.0,256.7"/><path d="M992.9,278.8 C995.6,276.6 992.9,276.6 1001.1,272.2 C1009.3,267.9 1008.2,268.4 1017.4,265.7 C1026.7,262.9 1025.1,264.6 1028.9,264.0"/><path d="M1012.5,291.9 C1016.9,294.1 1013.6,299.0 1025.6,298.4 C1037.6,297.9 1040.4,295.2 1048.6,290.2 C1056.7,285.3 1049.7,285.9 1050.2,283.7"/><path d="M1048.6,290.2 C1051.3,295.7 1055.1,295.2 1056.7,306.6 C1058.4,318.1 1054.6,318.6 1053.5,324.6"/><path d="M1012.5,291.9 C1013.6,295.2 1021.3,294.1 1015.8,301.7 C1010.3,309.3 1003.3,308.3 996.2,314.8 C989.1,321.4 995.1,319.2 994.5,321.4"/><path d="M780.0,273.9 C782.7,275.0 786.0,273.3 788.2,277.1 C790.4,281.0 787.1,282.6 786.6,285.3"/><path d="M780.0,306.6 C788.2,307.2 793.6,303.3 804.6,308.3 C815.5,313.2 806.7,313.2 812.8,321.4 C818.8,329.5 815.5,331.7 822.6,332.8 C829.7,333.9 823.7,329.5 834.0,324.6 C844.4,319.7 841.1,321.4 853.7,318.1 C866.2,314.8 862.4,320.3 871.7,314.8 C881.0,309.3 873.9,311.0 881.5,301.7 C889.2,292.4 887.0,294.1 894.6,287.0 C902.3,279.9 899.0,282.3 904.5,280.4 C909.9,278.5 908.8,281.0 911.0,281.2"/><path d="M804.6,308.3 C808.9,301.7 807.8,297.9 817.7,288.6 C827.5,279.3 822.6,281.0 834.0,280.4 C845.5,279.9 844.4,283.1 852.1,287.0 C859.7,290.8 855.3,290.2 857.0,291.9"/><path d="M852.1,287.0 C853.1,284.2 848.8,284.8 855.3,278.8 C861.9,272.8 861.9,275.5 871.7,269.0 C881.5,262.4 878.3,264.0 884.8,259.1 C891.4,254.2 889.2,255.9 891.4,254.2"/><path d="M871.7,314.8 C876.1,317.5 876.1,317.5 884.8,323.0 C893.5,328.4 892.4,331.7 897.9,331.2 C903.4,330.6 899.0,326.8 901.2,321.4 C903.4,315.9 903.4,317.0 904.5,314.8"/><path d="M897.9,331.2 C900.1,334.5 897.4,336.1 904.5,341.0 C911.6,345.9 909.9,343.7 919.2,345.9 C928.5,348.1 924.1,348.1 932.3,347.6 C940.5,347.0 930.1,349.7 943.8,344.3 C957.4,338.8 956.9,338.3 973.2,331.2 C989.6,324.1 985.2,328.4 992.9,323.0 C1000.5,317.5 995.1,317.5 996.2,314.8"/><path d="M932.3,347.6 C931.7,343.2 929.6,345.4 930.7,334.5 C931.7,323.5 933.4,324.1 935.6,314.8 C937.8,305.5 942.1,311.5 937.2,306.6 C932.3,301.7 927.4,302.8 920.8,300.1 C914.3,297.3 918.6,299.0 917.6,298.4"/><path d="M937.2,306.6 C939.4,305.0 933.4,306.1 943.8,301.7 C954.1,297.3 951.9,297.9 968.3,293.5 C984.7,289.1 979.2,289.1 992.9,288.6 C1006.5,288.1 1003.8,290.8 1009.3,291.9"/><path d="M937.2,306.6 C938.3,297.9 940.5,294.1 940.5,280.4 C940.5,266.8 938.3,270.6 937.2,265.7"/><path d="M996.2,323.0 L1012.5,327.9"/><path d="M858.6,344.3 C859.1,348.6 861.9,347.6 860.2,357.4 C858.6,367.2 856.4,362.8 853.7,373.8 C851.0,384.7 852.6,384.7 852.1,390.1"/><path d="M822.6,332.8 C820.9,338.3 820.4,337.7 817.7,349.2 C814.9,360.7 816.0,356.3 814.4,367.2 C812.8,378.1 813.3,377.0 812.8,381.9"/><path d="M943.8,344.3 C945.9,347.0 947.6,348.1 950.3,352.5 C953.0,356.8 951.4,355.7 951.9,357.4"/><path d="M937.2,367.2 C939.9,371.6 941.0,373.2 945.4,380.3 C949.8,387.4 948.7,385.8 950.3,388.5"/><path d="M780.0,341.0 C781.6,344.3 783.8,343.2 784.9,350.8 C786.0,358.5 782.7,356.3 783.3,363.9 C783.8,371.6 785.5,370.5 786.6,373.8"/><path d="M968.3,314.8 L965.0,324.6"/><path d="M973.1,334.9 C974.2,339.8 972.6,342.6 976.4,349.7 C980.2,356.7 973.6,353.5 984.6,356.2 C995.5,358.9 992.8,355.1 1009.1,357.8 C1025.5,360.6 1017.3,361.1 1033.7,364.4 C1050.1,367.7 1044.6,369.8 1058.3,367.7 C1071.9,365.5 1068.1,362.2 1074.6,357.8 C1081.2,353.5 1076.8,355.7 1077.9,354.6"/><path d="M1058.3,367.7 C1061.5,370.9 1061.5,372.6 1068.1,377.5 C1074.6,382.4 1071.4,382.4 1077.9,382.4 C1084.5,382.4 1084.5,379.1 1087.7,377.5"/><path d="M1074.6,357.8 C1079.0,359.5 1080.6,356.7 1087.7,362.8 C1094.8,368.8 1091.6,369.3 1095.9,375.9 C1100.3,382.4 1099.2,380.2 1100.8,382.4"/><path d="M1073.0,349.7 C1076.8,352.9 1075.7,354.0 1084.5,359.5 C1093.2,364.9 1091.6,359.5 1099.2,366.0 C1106.8,372.6 1102.5,373.1 1107.4,379.1 C1112.3,385.1 1111.7,382.4 1113.9,384.0"/><path d="M960.0,377.5 C965.5,374.8 965.5,372.6 976.4,369.3 C987.3,366.0 983.5,366.6 992.8,367.7 C1002.0,368.8 999.8,367.1 1004.2,372.6 C1008.6,378.0 999.8,377.5 1005.9,384.0 C1011.9,390.6 1012.4,386.2 1022.2,392.2 C1032.1,398.2 1028.2,394.4 1035.3,402.1 C1042.4,409.7 1039.1,405.9 1043.5,415.2 C1047.9,424.4 1043.5,420.1 1048.4,429.9 C1053.3,439.7 1053.9,434.3 1058.3,444.6 C1062.6,455.0 1059.3,447.4 1061.5,461.0 C1063.7,474.7 1064.8,470.3 1064.8,485.6 C1064.8,500.9 1064.8,496.5 1061.5,506.9 C1058.3,517.2 1057.2,513.4 1055.0,516.7"/><path d="M974.7,400.4 C977.5,401.5 981.3,398.2 982.9,403.7 C984.6,409.1 980.2,408.6 979.7,416.8 C979.1,425.0 980.7,424.4 981.3,428.3"/><path d="M1010.8,411.9 C1011.3,415.2 1013.5,416.2 1012.4,421.7 C1011.3,427.2 1002.0,424.4 1007.5,428.3 C1012.9,432.1 1016.2,431.0 1028.8,433.2 C1041.3,435.3 1039.7,434.3 1045.2,434.8"/><path d="M960.0,456.1 C965.5,457.7 966.6,460.5 976.4,461.0 C986.2,461.6 982.9,461.0 989.5,457.7 C996.0,454.5 993.3,450.1 996.0,451.2 C998.8,452.3 995.5,453.9 997.7,461.0 C999.8,468.1 1000.9,468.6 1002.6,472.5"/><path d="M1025.5,461.0 C1027.7,465.4 1027.1,465.4 1032.1,474.1 C1037.0,482.8 1035.9,476.3 1040.2,487.2 C1044.6,498.1 1041.3,497.0 1045.2,506.9 C1049.0,516.7 1049.5,513.4 1051.7,516.7"/><path d="M1063.2,400.4 C1065.9,404.2 1066.4,402.6 1071.4,411.9 C1076.3,421.2 1073.0,415.7 1077.9,428.3 C1082.8,440.8 1081.7,435.9 1086.1,449.5 C1090.5,463.2 1088.8,454.5 1091.0,469.2 C1093.2,483.9 1092.6,477.9 1092.6,493.8 C1092.6,509.6 1091.6,509.0 1091.0,516.7"/><path d="M1100.8,385.7 C1105.2,389.0 1107.4,388.4 1113.9,395.5 C1120.5,402.6 1119.4,399.3 1120.5,407.0 C1121.6,414.6 1119.9,413.5 1117.2,418.4 C1114.5,423.3 1115.6,417.3 1112.3,421.7 C1109.0,426.1 1107.4,423.9 1107.4,431.5 C1107.4,439.2 1109.0,434.8 1112.3,444.6 C1115.6,454.5 1114.5,450.1 1117.2,461.0 C1119.9,471.9 1118.8,463.7 1120.5,477.4 C1122.1,491.0 1122.7,488.8 1122.1,501.9 C1121.6,515.0 1119.9,511.8 1118.8,516.7"/><path d="M1120.5,407.0 C1124.8,410.8 1127.6,413.0 1133.6,418.4 C1139.6,423.9 1136.3,417.9 1138.5,423.3 C1140.7,428.8 1138.5,425.5 1140.1,434.8 C1141.8,444.1 1140.1,442.4 1143.4,451.2 C1146.7,459.9 1145.6,452.3 1150.0,461.0 C1154.3,469.7 1151.0,463.7 1156.5,477.4 C1162.0,491.0 1160.9,488.8 1166.3,501.9 C1171.8,515.0 1170.7,511.8 1172.9,516.7"/><path d="M1117.2,418.4 C1119.4,417.3 1118.8,414.1 1123.8,415.2 C1128.7,416.2 1129.2,419.5 1131.9,421.7"/><path d="M1140.1,411.9 C1142.3,408.6 1138.5,407.5 1146.7,402.1 C1154.9,396.6 1158.1,401.0 1164.7,395.5 C1171.2,390.0 1166.9,391.7 1166.3,385.7 C1165.8,379.7 1164.1,380.2 1163.1,377.5"/><path d="M1148.3,402.1 C1147.2,396.0 1147.2,394.4 1145.0,384.0 C1142.9,373.7 1142.9,375.3 1141.8,370.9"/><path d="M1151.6,434.8 C1156.0,433.2 1157.1,429.9 1164.7,429.9 C1172.3,429.9 1168.0,427.2 1174.5,434.8 C1181.1,442.4 1179.4,438.6 1184.3,452.8 C1189.3,467.0 1186.5,461.0 1189.3,477.4 C1192.0,493.8 1190.3,488.8 1192.5,501.9 C1194.7,515.0 1194.7,511.8 1195.8,516.7"/><path d="M1122.1,459.4 C1127.0,458.3 1128.7,457.7 1136.9,456.1 C1145.0,454.5 1143.4,455.0 1146.7,454.5"/><path d="M1176.2,434.8 C1177.8,432.6 1177.8,432.6 1181.1,428.3 C1184.3,423.9 1184.3,423.9 1186.0,421.7"/><path d="M520.9,429.3 C520.4,434.2 522.0,433.1 519.3,444.0 C516.6,455.0 516.0,449.5 512.8,462.1 C509.5,474.6 509.5,470.2 509.5,481.7 C509.5,493.2 511.7,491.5 512.8,496.4"/><path d="M557.0,390.0 C553.1,395.5 551.0,395.5 545.5,406.4 C540.0,417.3 542.2,411.8 540.6,422.8 C539.0,433.7 539.0,428.8 540.6,439.1 C542.2,449.5 546.6,446.2 545.5,453.9 C544.4,461.5 542.2,452.8 537.3,462.1 C532.4,471.3 534.6,469.7 530.8,481.7 C526.9,493.7 534.0,488.3 525.9,498.1 C517.7,507.9 516.0,501.9 506.2,511.2 C496.4,520.5 499.7,521.0 496.4,525.9"/><path d="M545.5,453.9 C551.0,453.3 553.1,457.1 561.9,452.2 C570.6,447.3 565.2,447.9 571.7,439.1 C578.3,430.4 576.6,432.0 581.5,426.0 C586.4,420.0 583.2,427.7 586.4,421.1 C589.7,414.6 588.6,416.7 591.4,406.4 C594.1,396.0 593.5,395.5 594.6,390.0"/><path d="M586.4,421.1 C590.3,427.1 590.8,426.6 597.9,439.1 C605.0,451.7 601.7,448.4 607.7,458.8 C613.7,469.1 606.6,465.3 615.9,470.2 C625.2,475.2 623.6,473.5 635.6,473.5 C647.6,473.5 643.2,476.2 651.9,470.2 C660.7,464.2 656.9,467.0 661.8,455.5 C666.7,444.0 665.6,446.8 666.7,435.9 C667.8,424.9 668.3,431.5 665.0,422.8 C661.8,414.0 662.9,415.1 656.9,409.7 C650.9,404.2 653.6,404.2 647.0,406.4 C640.5,408.6 642.1,409.7 637.2,416.2 C632.3,422.8 633.9,422.8 632.3,426.0"/><path d="M647.0,406.4 L648.7,390.0"/><path d="M666.7,429.3 C668.9,426.0 668.9,427.1 673.2,419.5 C677.6,411.8 674.3,413.5 679.8,406.4 C685.2,399.3 679.8,399.8 689.6,398.2 C699.4,396.6 700.0,399.3 709.3,401.5 C718.5,403.6 714.7,403.6 717.4,404.7"/><path d="M615.9,470.2 C612.1,474.1 610.5,474.6 604.5,481.7 C598.4,488.8 604.5,489.9 597.9,491.5 C591.4,493.2 590.8,488.8 584.8,486.6 C578.8,484.4 581.5,485.5 579.9,485.0"/><path d="M584.8,486.6 C585.3,481.7 587.0,479.0 586.4,471.9 C585.9,464.8 584.3,467.5 583.2,465.3"/><path d="M597.9,491.5 C597.9,497.0 596.8,498.1 597.9,507.9 C599.0,517.7 596.8,511.7 601.2,521.0 C605.5,530.3 605.0,528.1 611.0,535.7 C617.0,543.4 613.7,541.7 619.2,543.9 C624.7,546.1 624.7,542.8 627.4,542.3"/><path d="M558.6,481.7 C559.7,486.6 559.7,487.2 561.9,496.4 C564.1,505.7 561.9,499.7 565.2,509.5 C568.4,519.4 566.2,515.5 571.7,525.9 C577.2,536.3 573.9,530.8 581.5,540.7 C589.2,550.5 585.9,546.7 594.6,555.4 C603.4,564.1 600.6,559.2 607.7,566.9 C614.8,574.5 613.2,574.5 615.9,578.3"/><path d="M530.8,511.2 C531.9,517.2 530.2,517.7 534.0,529.2 C537.9,540.7 536.8,534.7 542.2,545.6 C547.7,556.5 545.5,551.0 550.4,561.9 C555.3,572.9 554.8,572.9 557.0,578.3"/><path d="M512.8,527.6 C512.2,531.9 511.1,531.9 511.1,540.7 C511.1,549.4 510.6,543.9 512.8,553.8 C514.9,563.6 516.0,564.7 517.7,570.1"/><path d="M511.1,540.7 C512.8,539.6 512.2,540.7 516.0,537.4 C519.8,534.1 520.4,533.0 522.6,530.8"/><path d="M632.3,494.8 C633.9,498.1 636.1,498.6 637.2,504.6 C638.3,510.6 639.9,510.6 635.6,512.8 C631.2,515.0 627.9,511.7 624.1,511.2"/><path d="M635.6,512.8 C637.2,515.5 635.6,513.9 640.5,521.0 C645.4,528.1 644.8,525.4 650.3,534.1 C655.8,542.8 655.2,538.5 656.9,547.2 C658.5,555.9 657.9,552.1 655.2,560.3 C652.5,568.5 650.9,567.9 648.7,571.8"/><path d="M665.0,494.8 C667.2,498.1 665.6,498.6 671.6,504.6 C677.6,510.6 675.4,511.2 683.1,512.8 C690.7,514.5 689.1,513.4 694.5,509.5 C700.0,505.7 697.2,508.4 699.4,501.4 C701.6,494.3 697.8,494.3 701.1,488.3 C704.3,482.2 706.5,485.0 709.3,483.3"/><path d="M683.1,512.8 C684.7,516.6 686.3,515.0 688.0,524.3 C689.6,533.6 688.0,535.2 688.0,540.7"/><path d="M699.4,504.6 C701.6,509.0 700.5,509.5 706.0,517.7 C711.4,525.9 712.5,525.4 715.8,529.2"/><path d="M1042.8,500.0 C1045.0,505.5 1045.5,505.5 1049.4,516.4 C1053.2,527.3 1052.6,521.8 1054.3,532.8 C1055.9,543.7 1056.5,539.3 1054.3,549.1 C1052.1,559.0 1051.0,555.7 1047.7,562.2 C1044.5,568.8 1045.5,566.6 1044.5,568.8"/><path d="M1060.8,500.0 C1059.2,504.4 1059.2,507.1 1055.9,513.1 C1052.6,519.1 1052.6,516.4 1051.0,518.0"/><path d="M1083.8,532.8 C1085.9,538.2 1085.9,538.2 1090.3,549.1 C1094.7,560.0 1095.8,555.7 1096.9,565.5 C1097.9,575.3 1095.2,569.9 1093.6,578.6 C1091.9,587.3 1093.0,582.4 1091.9,591.7 C1090.9,601.0 1090.3,596.6 1090.3,606.4 C1090.3,616.3 1089.2,613.0 1091.9,621.2 C1094.7,629.4 1093.0,628.3 1098.5,631.0 C1104.0,633.7 1105.0,629.9 1108.3,629.4"/><path d="M1121.4,500.0 C1119.8,505.5 1120.3,505.5 1116.5,516.4 C1112.7,527.3 1114.3,520.2 1110.0,532.8 C1105.6,545.3 1107.8,543.1 1103.4,554.0 C1099.0,565.0 1099.0,561.7 1096.9,565.5"/><path d="M1149.3,500.0 C1150.9,506.6 1152.0,506.0 1154.2,519.7 C1156.4,533.3 1156.4,525.7 1155.8,540.9 C1155.3,556.2 1153.6,555.7 1152.5,565.5 C1151.4,575.3 1152.5,568.8 1152.5,570.4"/><path d="M1123.1,559.0 C1123.6,563.3 1123.1,564.4 1124.7,572.1 C1126.3,579.7 1122.5,580.8 1128.0,581.9 C1133.4,583.0 1132.9,579.1 1141.1,575.3 C1149.3,571.5 1145.4,569.3 1152.5,570.4 C1159.6,571.5 1155.8,571.5 1162.4,578.6 C1168.9,585.7 1168.4,584.1 1172.2,591.7 C1176.0,599.3 1173.3,598.3 1173.8,601.5"/><path d="M1128.0,581.9 C1126.3,585.2 1125.8,585.2 1123.1,591.7 C1120.3,598.3 1120.9,598.3 1119.8,601.5"/><path d="M1173.8,601.5 C1168.4,604.8 1171.1,605.9 1157.4,611.4 C1143.8,616.8 1149.3,611.9 1132.9,617.9 C1116.5,623.9 1120.3,625.0 1108.3,629.4 C1096.3,633.7 1100.7,630.5 1096.9,631.0"/><path d="M1175.5,500.0 C1176.6,508.2 1176.6,509.3 1178.7,524.6 C1180.9,539.8 1178.7,536.6 1182.0,545.9 C1185.3,555.1 1183.1,553.5 1188.6,552.4 C1194.0,551.3 1192.9,549.1 1198.4,542.6 C1203.8,536.0 1202.8,536.0 1204.9,532.8"/><path d="M1182.0,545.9 C1181.5,552.4 1180.9,552.4 1180.4,565.5 C1179.8,578.6 1182.0,574.2 1180.4,585.2 C1178.7,596.1 1177.1,593.9 1175.5,598.3"/><path d="M1188.6,578.6 L1201.7,573.7"/><path d="M1173.8,601.5 C1174.4,608.6 1177.1,609.2 1175.5,622.8 C1173.8,636.5 1173.8,630.5 1168.9,642.5 C1164.0,654.5 1167.3,647.9 1160.7,658.8 C1154.2,669.8 1153.1,669.8 1149.3,675.2"/><path d="M1067.4,568.8 C1069.0,570.4 1069.0,573.7 1072.3,573.7 C1075.6,573.7 1075.6,570.4 1077.2,568.8"/><path d="M1072.3,573.7 C1072.3,578.6 1073.9,578.1 1072.3,588.4 C1070.7,598.8 1070.1,596.1 1067.4,604.8 C1064.7,613.5 1065.2,611.4 1064.1,614.6"/><path d="M1024.8,591.7 C1027.5,595.0 1027.5,600.4 1033.0,601.5 C1038.4,602.6 1038.4,597.2 1041.2,595.0"/><path d="M1033.0,601.5 L1033.0,608.1"/><path d="M1098.5,631.0 C1096.9,634.8 1095.2,635.9 1093.6,642.5 C1091.9,649.0 1093.6,647.9 1093.6,650.7"/><path d="M1054.3,655.6 C1058.6,656.7 1057.6,656.1 1067.4,658.8 C1077.2,661.6 1076.1,658.8 1083.8,663.8 C1091.4,668.7 1088.1,670.3 1090.3,673.6"/><path d="M1041.2,667.0 C1044.5,669.2 1039.5,670.3 1051.0,673.6 C1062.5,676.9 1059.2,676.9 1075.6,676.9 C1091.9,676.9 1086.5,677.9 1100.1,673.6 C1113.8,669.2 1106.7,670.9 1116.5,663.8 C1126.3,656.7 1122.5,659.4 1129.6,652.3 C1136.7,645.2 1135.1,645.7 1137.8,642.5"/><path d="M1041.2,667.0 C1042.3,662.7 1040.1,661.6 1044.5,653.9 C1048.8,646.3 1049.9,656.1 1054.3,644.1 C1058.6,632.1 1056.5,626.6 1057.6,617.9"/><path d="M1024.8,629.4 C1027.0,627.7 1028.1,629.4 1031.4,624.5 C1034.6,619.5 1034.1,620.6 1034.6,614.6 C1035.2,608.6 1033.5,609.2 1033.0,606.4"/><path d="M960.9,626.1 C971.9,627.2 973.5,628.3 993.7,629.4 C1013.9,630.5 1011.2,629.4 1021.5,629.4 C1031.9,629.4 1023.7,629.4 1024.8,629.4"/><path d="M640.2,674.6 C642.4,677.4 640.8,677.9 646.8,682.8 C652.8,687.7 649.0,686.6 658.3,689.4 C667.5,692.1 665.9,691.0 674.6,691.0 C683.4,691.0 679.0,688.8 684.5,689.4 C689.9,689.9 683.4,689.9 691.0,692.6 C698.6,695.4 696.5,695.9 707.4,697.6 C718.3,699.2 712.8,698.6 723.8,697.6 C734.7,696.5 726.5,695.4 740.1,694.3 C753.8,693.2 748.3,693.7 764.7,694.3 C781.1,694.8 778.3,693.7 789.3,695.9 C800.2,698.1 793.1,695.9 797.4,700.8 C801.8,705.7 798.5,703.6 802.4,710.7 C806.2,717.8 806.7,718.3 808.9,722.1"/><path d="M684.5,689.4 C683.4,692.6 683.4,692.1 681.2,699.2 C679.0,706.3 680.6,703.6 677.9,710.7 C675.2,717.8 676.3,716.1 673.0,720.5 C669.7,724.8 669.7,722.7 668.1,723.8"/><path d="M681.2,607.5 C680.6,612.4 678.4,614.0 679.5,622.2 C680.6,630.4 680.6,626.6 684.5,632.1 C688.3,637.5 689.9,633.1 691.0,638.6 C692.1,644.1 691.0,642.4 687.7,648.4 C684.5,654.4 683.4,653.9 681.2,656.6"/><path d="M600.9,674.6 C603.1,671.4 603.7,671.4 607.5,664.8 C611.3,658.3 610.8,658.3 612.4,655.0"/><path d="M612.0,583.0 C619.3,579.0 619.2,578.2 634.0,571.0 C648.8,563.8 634.5,571.2 656.5,561.4 C678.5,551.6 677.2,551.8 700.0,541.7 C722.8,531.6 710.3,536.9 725.0,531.0 C739.7,525.1 737.7,526.3 744.0,524.0"/><path d="M614.0,580.0 C620.3,578.3 620.3,577.3 633.0,575.0 C645.7,572.7 639.0,572.3 652.0,573.0 C665.0,573.7 660.0,573.0 672.0,577.0 C684.0,581.0 682.7,582.3 688.0,585.0"/><path d="M963.7,628.8 C972.5,629.5 969.2,629.9 990.0,631.0 C1010.8,632.1 1011.3,635.0 1026.0,632.0 C1040.7,629.0 1031.8,629.7 1034.0,622.0 C1036.2,614.3 1033.0,613.3 1032.5,609.0"/><path d="M1026.0,632.0 C1031.4,640.7 1037.4,644.0 1042.3,658.2 C1047.2,672.4 1043.5,663.7 1040.7,674.6 C1037.9,685.5 1040.6,681.7 1034.0,691.0 C1027.4,700.3 1025.3,698.7 1021.0,702.5"/><path d="M963.7,628.8 C959.3,636.4 956.0,636.4 950.6,651.7 C945.2,667.0 946.3,659.8 947.4,674.6 C948.5,689.4 951.8,688.9 954.0,696.0"/></g></g></g><path d="M583.0,611.0 C571.4,605.0 579.3,605.7 565.0,598.0 C550.7,590.3 556.0,595.0 540.0,588.0 C524.0,581.0 527.7,584.3 517.0,577.0 C506.3,569.7 515.0,576.3 508.0,566.0 C501.0,555.7 501.0,559.3 496.0,546.0 C491.0,532.7 496.3,537.7 493.0,526.0 C489.7,514.3 487.7,525.3 486.0,511.0 C484.3,496.7 483.7,503.3 488.0,483.0 C492.3,462.7 491.7,465.7 499.0,450.0 C506.3,434.3 503.3,443.0 510.0,436.0 C516.7,429.0 514.7,441.0 519.0,429.0 C523.3,417.0 520.8,416.0 523.0,400.0 C525.2,384.0 520.3,392.3 525.5,381.0 C530.7,369.7 533.5,376.8 538.6,366.0 C543.7,355.2 535.7,360.9 540.8,348.5 C545.9,336.1 543.0,341.9 553.9,328.8 C564.8,315.7 559.7,320.1 573.5,309.2 C587.3,298.3 580.8,305.5 595.4,296.0 C610.0,286.5 604.1,291.0 617.2,280.8 C630.3,270.6 621.6,275.0 634.7,265.5 C647.8,256.0 642.0,258.9 656.5,252.4 C671.0,245.9 660.8,250.6 678.3,245.9 C695.8,241.2 690.7,244.0 708.9,238.2 C727.1,232.4 714.0,233.9 732.9,228.4 C751.8,222.9 740.2,224.4 765.7,221.8 C791.2,219.2 777.9,220.3 809.3,220.7 C840.7,221.1 832.2,220.0 860.0,222.9 C887.8,225.8 867.3,224.0 892.8,229.5 C918.3,235.0 909.5,234.6 936.4,239.3 C963.3,244.0 949.5,237.9 973.5,243.7 C997.5,249.5 988.8,249.5 1008.5,256.8 C1028.2,264.1 1019.4,257.5 1032.5,265.5 C1045.6,273.5 1038.3,274.2 1047.8,280.8 C1057.3,287.4 1049.3,279.4 1060.9,285.2 C1072.5,291.0 1072.5,289.6 1082.7,298.3 C1092.9,307.0 1082.7,304.9 1091.4,311.4 C1100.1,317.9 1100.9,311.4 1108.9,317.9 C1116.9,324.4 1107.5,323.0 1115.5,331.0 C1123.5,339.0 1121.3,332.4 1132.9,341.9 C1144.5,351.4 1140.2,347.7 1150.4,359.4 C1160.6,371.1 1158.4,366.0 1163.5,376.9 C1168.6,387.8 1161.3,384.1 1165.7,392.1 C1170.1,400.1 1167.9,392.9 1176.6,400.9 C1185.3,408.9 1184.6,404.6 1191.9,416.2 C1199.2,427.8 1195.5,424.5 1198.4,435.8 C1201.3,447.1 1197.7,434.3 1200.6,450.0 C1203.5,465.7 1204.3,457.3 1207.2,482.8 C1210.1,508.3 1208.2,506.0 1209.3,526.4 C1210.4,546.8 1212.6,528.6 1210.4,543.9 C1208.2,559.2 1206.1,552.7 1202.8,572.3 C1199.5,591.9 1205.7,581.7 1200.6,602.8 C1195.5,623.9 1197.7,615.2 1187.5,635.6 C1177.3,656.0 1180.9,648.7 1170.0,664.0 C1159.1,679.3 1174.4,668.1 1154.8,681.4 C1135.2,694.7 1136.6,693.5 1111.1,704.0 C1085.6,714.5 1107.4,712.1 1078.3,712.8 C1049.2,713.5 1054.9,710.5 1023.8,706.2 C992.7,701.9 1010.5,702.9 985.0,700.0 C959.5,697.1 972.3,696.8 947.3,697.5 C922.3,698.2 935.8,697.2 910.0,702.0 C884.2,706.8 899.3,704.8 870.0,712.0 C840.7,719.2 843.1,719.8 822.0,723.7 C800.9,727.6 817.6,722.3 806.7,723.7 C795.8,725.1 806.0,724.7 789.3,728.0 C772.6,731.3 782.0,730.6 756.5,733.5 C731.0,736.4 737.5,737.2 712.8,736.8 C688.1,736.4 698.3,736.4 682.3,732.4 C666.3,728.4 676.5,727.0 664.8,724.8 C653.1,722.6 660.4,727.7 647.3,725.9 C634.2,724.1 639.3,727.3 625.5,719.3 C611.7,711.3 613.9,714.9 605.9,701.8 C597.9,688.7 604.3,689.7 601.5,680.0 C598.7,670.3 600.4,683.9 597.6,672.7 C594.8,661.5 592.5,665.4 593.2,646.5 C593.9,627.6 603.1,627.7 599.7,615.9 C596.3,604.1 594.6,617.0 583.0,611.0Z" fill="none" stroke="#c39a8a" stroke-width="1.5"/>
<g clip-path="url(#cbclip)"><path d="M690.0,592.0 C690.0,577.0 688.3,584.7 705.0,570.0 C721.7,555.3 711.7,555.3 740.0,548.0 C768.3,540.7 756.7,549.0 790.0,548.0 C823.3,547.0 803.3,554.3 840.0,545.0 C876.7,535.7 865.0,535.0 900.0,520.0 C935.0,505.0 925.0,493.3 945.0,500.0 C965.0,506.7 965.0,511.7 960.0,540.0 C955.0,568.3 953.3,561.0 930.0,585.0 C906.7,609.0 920.0,597.7 890.0,612.0 C860.0,626.3 876.7,622.0 840.0,628.0 C803.3,634.0 813.3,634.3 780.0,630.0 C746.7,625.7 765.0,620.0 740.0,615.0 C715.0,610.0 721.7,622.7 705.0,615.0 C688.3,607.3 690.0,607.0 690.0,592.0Z" fill="#fce8dc" filter="url(#bl4)"/><path d="M700.0,500.0 C680.3,480.0 689.3,485.0 686.0,460.0 C682.7,435.0 678.7,445.7 690.0,425.0 C701.3,404.3 693.3,411.7 720.0,398.0 C746.7,384.3 733.3,388.7 770.0,384.0 C806.7,379.3 790.0,379.3 830.0,384.0 C870.0,388.7 855.0,384.3 890.0,398.0 C925.0,411.7 911.0,401.0 935.0,425.0 C959.0,449.0 952.0,438.3 962.0,470.0 C972.0,501.7 975.7,496.7 965.0,520.0 C954.3,543.3 958.3,540.0 930.0,540.0 C901.7,540.0 923.3,517.3 880.0,520.0 C836.7,522.7 845.0,548.0 800.0,548.0 C755.0,548.0 778.3,536.0 745.0,520.0 C711.7,504.0 719.7,520.0 700.0,500.0Z" fill="#fbe7db" filter="url(#bl3)" opacity="0.9"/></g><path d="M934.0,430.0 C937.7,427.3 942.8,446.3 961.0,462.0 C979.2,477.7 970.3,466.0 988.5,477.0 C1006.7,488.0 1000.6,481.8 1015.7,495.0 C1030.8,508.2 1026.0,503.4 1033.8,516.6 C1041.6,529.8 1037.8,522.6 1039.0,534.7 C1040.2,546.8 1042.2,540.7 1037.4,552.8 C1032.6,564.9 1038.0,561.8 1024.7,570.9 C1011.4,580.0 1015.7,577.0 997.6,580.0 C979.5,583.0 985.5,583.0 970.4,580.0 C955.3,577.0 959.6,577.0 952.4,571.0 C945.2,565.0 947.8,579.0 948.7,562.0 C949.6,545.0 954.6,550.7 955.0,520.0 C955.4,489.3 957.0,500.0 950.0,470.0 C943.0,440.0 930.3,432.7 934.0,430.0Z" fill="#f0a57e" stroke="#dc8a62" stroke-width="1"/><path d="M965.0,495.0 C971.5,487.5 969.2,489.8 979.5,494.0 C989.8,498.2 986.8,497.0 995.8,507.6 C1004.8,518.2 1003.0,514.2 1006.6,525.7 C1010.2,537.2 1012.6,534.2 1006.6,542.0 C1000.6,549.8 1003.6,547.8 988.5,549.0 C973.4,550.2 970.9,556.4 961.4,545.6 C951.9,534.8 958.8,533.5 960.0,516.6 C961.2,499.7 958.5,502.5 965.0,495.0Z" fill="#fbe9dc" stroke="#e49a74" stroke-width="1"/><path d="M950.0,552.0 C953.3,544.0 949.3,547.3 962.0,547.0 C974.7,546.7 973.0,552.0 988.0,551.0 C1003.0,550.0 995.0,548.3 1007.0,544.0 C1019.0,539.7 1013.3,539.3 1024.0,538.0 C1034.7,536.7 1034.7,534.0 1039.0,540.0 C1043.3,546.0 1041.7,545.7 1037.0,556.0 C1032.3,566.3 1038.0,563.0 1025.0,571.0 C1012.0,579.0 1016.3,577.0 998.0,580.0 C979.7,583.0 985.3,583.0 970.0,580.0 C954.7,577.0 958.7,580.3 952.0,571.0 C945.3,561.7 946.7,560.0 950.0,552.0Z" fill="#f3bba6" opacity="0.92"/><g fill="none" stroke="#dc9c88" stroke-width="1" opacity="0.8"><path d="M962,548 Q975,556 988,551 Q1000,548 1007,544"/><path d="M972,556 Q976,570 986,579"/><path d="M1000,552 Q1003,566 1012,575"/><path d="M952,571 Q972,584 998,581 Q1022,576 1036,556"/></g><path d="M752.0,499.9 L750.0,498.6 L747.2,497.1 L744.0,495.3 L740.6,493.4 L737.2,491.4 L733.9,489.3 L731.0,487.3 L728.8,485.3 L726.6,483.3 L724.4,481.1 L722.2,478.7 L720.1,476.1 L718.1,473.6 L716.3,471.0 L714.7,468.4 L713.3,465.9 L712.0,463.5 L710.8,461.1 L709.8,458.7 L708.9,456.3 L708.1,453.9 L707.6,451.6 L707.2,449.4 L707.0,447.2 L706.9,444.9 L707.0,442.6 L707.2,440.2 L707.5,437.9 L708.0,435.7 L708.7,433.7 L709.4,431.8 L710.3,430.1 L711.3,428.4 L712.6,426.5 L714.2,424.6 L716.1,422.7 L718.1,420.8 L720.4,419.0 L722.8,417.3 L725.3,415.6 L727.9,414.1 L730.7,412.7 L733.8,411.3 L737.1,410.0 L740.7,408.7 L744.4,407.5 L748.2,406.4 L752.1,405.3 L756.0,404.3 L760.0,403.4 L764.2,402.6 L768.4,401.9 L772.7,401.2 L777.1,400.6 L781.4,400.0 L785.7,399.5 L790.0,399.1 L794.3,398.7 L798.5,398.4 L802.8,398.2 L807.0,398.0 L811.2,397.9 L815.4,397.9 L819.7,398.0 L823.9,398.2 L828.2,398.5 L832.5,398.8 L836.8,399.2 L841.0,399.7 L845.2,400.3 L849.3,401.0 L853.3,401.8 L857.3,402.8 L861.3,403.9 L865.4,405.2 L869.3,406.5 L873.2,407.9 L877.1,409.5 L880.8,411.1 L884.5,412.7 L888.0,414.5 L891.5,416.3 L895.0,418.2 L898.3,420.2 L901.5,422.3 L904.5,424.4 L907.4,426.6 L910.2,428.9 L913.0,431.4 L915.6,433.9 L918.1,436.6 L920.6,439.3 L922.9,442.1 L925.0,445.0 L927.0,448.0 L928.9,450.9 L930.6,454.0 L932.2,457.2 L933.6,460.6 L935.0,464.0 L936.2,467.6 L937.4,471.2 L938.4,474.8 L939.3,478.5 L940.2,482.1 L940.9,485.7 L941.5,489.5 L942.0,493.4 L942.4,497.2 L942.7,501.0 L942.9,504.6 L943.0,508.1 L942.9,511.4 L942.7,514.9 L942.3,518.5 L941.8,522.1 L941.3,525.5 L940.8,528.7 L940.4,531.5 L940.1,533.6 L950.0,535.0 L950.3,533.0 L950.7,530.3 L951.2,527.1 L951.8,523.5 L952.3,519.7 L952.7,515.7 L952.9,511.8 L953.0,508.0 L952.9,504.2 L952.7,500.3 L952.4,496.3 L951.9,492.2 L951.4,488.1 L950.7,484.0 L949.9,479.9 L949.0,476.0 L947.9,472.1 L946.8,468.2 L945.5,464.3 L944.1,460.5 L942.5,456.7 L940.8,453.0 L939.0,449.4 L937.0,446.0 L934.9,442.7 L932.5,439.4 L930.1,436.3 L927.5,433.2 L924.8,430.2 L922.0,427.4 L919.0,424.6 L916.0,422.0 L912.9,419.5 L909.6,417.1 L906.2,414.8 L902.8,412.7 L899.2,410.6 L895.5,408.7 L891.8,406.8 L888.0,405.0 L884.1,403.3 L880.1,401.7 L876.1,400.1 L871.9,398.7 L867.7,397.3 L863.5,396.1 L859.3,395.0 L855.0,394.0 L850.7,393.1 L846.4,392.4 L842.0,391.8 L837.6,391.2 L833.2,390.8 L828.8,390.5 L824.4,390.2 L820.0,390.0 L815.6,389.9 L811.2,389.8 L806.9,389.8 L802.5,389.9 L798.1,390.1 L793.8,390.4 L789.4,390.6 L785.0,391.0 L780.6,391.4 L776.1,391.9 L771.7,392.4 L767.2,392.9 L762.8,393.6 L758.4,394.3 L754.1,395.1 L750.0,396.0 L745.9,397.0 L741.9,398.0 L737.9,399.0 L734.1,400.2 L730.3,401.4 L726.7,402.8 L723.2,404.3 L720.0,406.0 L716.9,407.8 L713.9,409.8 L711.1,411.9 L708.4,414.1 L706.0,416.5 L703.7,418.9 L701.7,421.4 L700.0,424.0 L698.6,426.7 L697.4,429.6 L696.5,432.6 L695.8,435.6 L695.3,438.7 L695.0,441.9 L694.9,445.0 L695.0,448.0 L695.3,451.0 L695.8,454.0 L696.6,457.1 L697.5,460.1 L698.6,463.1 L699.9,466.1 L701.4,469.1 L703.0,472.0 L704.8,474.9 L706.8,477.8 L709.0,480.7 L711.4,483.6 L713.9,486.4 L716.5,489.1 L719.2,491.6 L722.0,494.0 L725.1,496.2 L728.6,498.4 L732.4,500.5 L736.2,502.4 L739.8,504.1 L743.2,505.7 L745.9,507.0 L748.0,508.0Z" fill="#ee9a6b" opacity="0.9"/><path d="M748.0,508.0 L745.9,507.0 L743.2,505.7 L739.8,504.1 L736.2,502.4 L732.4,500.5 L728.6,498.4 L725.1,496.2 L722.0,494.0 L719.2,491.6 L716.5,489.1 L713.9,486.4 L711.4,483.6 L709.0,480.7 L706.8,477.8 L704.8,474.9 L703.0,472.0 L701.4,469.1 L699.9,466.1 L698.6,463.1 L697.5,460.1 L696.6,457.1 L695.8,454.0 L695.3,451.0 L695.0,448.0 L694.9,445.0 L695.0,441.9 L695.3,438.7 L695.8,435.6 L696.5,432.6 L697.4,429.6 L698.6,426.7 L700.0,424.0 L701.7,421.4 L703.7,418.9 L706.0,416.5 L708.4,414.1 L711.1,411.9 L713.9,409.8 L716.9,407.8 L720.0,406.0 L723.2,404.3 L726.7,402.8 L730.3,401.4 L734.1,400.2 L737.9,399.0 L741.9,398.0 L745.9,397.0 L750.0,396.0 L754.1,395.1 L758.4,394.3 L762.8,393.6 L767.2,392.9 L771.7,392.4 L776.1,391.9 L780.6,391.4 L785.0,391.0 L789.4,390.6 L793.8,390.4 L798.1,390.1 L802.5,389.9 L806.9,389.8 L811.2,389.8 L815.6,389.9 L820.0,390.0 L824.4,390.2 L828.8,390.5 L833.2,390.8 L837.6,391.2 L842.0,391.8 L846.4,392.4 L850.7,393.1 L855.0,394.0 L859.3,395.0 L863.5,396.1 L867.7,397.3 L871.9,398.7 L876.1,400.1 L880.1,401.7 L884.1,403.3 L888.0,405.0 L891.8,406.8 L895.5,408.7 L899.2,410.6 L902.8,412.7 L906.2,414.8 L909.6,417.1 L912.9,419.5 L916.0,422.0 L919.0,424.6 L922.0,427.4 L924.8,430.2 L927.5,433.2 L930.1,436.3 L932.5,439.4 L934.9,442.7 L937.0,446.0 L939.0,449.4 L940.8,453.0 L942.5,456.7 L944.1,460.5 L945.5,464.3 L946.8,468.2 L947.9,472.1 L949.0,476.0 L949.9,479.9 L950.7,484.0 L951.4,488.1 L951.9,492.2 L952.4,496.3 L952.7,500.3 L952.9,504.2 L953.0,508.0 L952.9,511.8 L952.7,515.7 L952.3,519.7 L951.8,523.5 L951.2,527.1 L950.7,530.3 L950.3,533.0 L950.0,535.0 L959.9,536.4 L960.2,534.4 L960.6,531.8 L961.1,528.6 L961.7,524.9 L962.2,520.9 L962.6,516.6 L962.9,512.2 L963.0,507.9 L962.9,503.8 L962.7,499.6 L962.3,495.4 L961.9,491.0 L961.3,486.6 L960.6,482.2 L959.7,477.8 L958.7,473.5 L957.5,469.4 L956.2,465.2 L954.7,461.1 L953.1,457.0 L951.4,452.9 L949.5,448.8 L947.4,444.9 L945.1,441.1 L942.7,437.4 L940.1,433.8 L937.3,430.4 L934.4,427.1 L931.4,423.9 L928.3,420.8 L925.1,417.9 L921.8,415.1 L918.3,412.4 L914.7,409.8 L911.0,407.4 L907.2,405.2 L903.4,403.0 L899.5,401.0 L895.5,399.1 L891.5,397.3 L887.4,395.5 L883.2,393.9 L878.9,392.3 L874.5,390.9 L870.1,389.5 L865.7,388.3 L861.2,387.2 L856.7,386.2 L852.2,385.3 L847.6,384.5 L843.1,383.8 L838.5,383.3 L833.9,382.9 L829.4,382.5 L824.8,382.2 L820.3,382.0 L815.8,381.8 L811.3,381.7 L806.8,381.6 L802.2,381.7 L797.7,381.8 L793.2,382.0 L788.8,382.2 L784.3,382.5 L779.8,382.9 L775.2,383.3 L770.6,383.7 L766.0,384.3 L761.4,384.9 L756.9,385.6 L752.4,386.3 L748.0,387.2 L743.8,388.1 L739.6,389.0 L735.4,390.0 L731.2,391.1 L727.1,392.4 L723.0,393.8 L719.0,395.4 L715.2,397.2 L711.5,399.1 L707.9,401.2 L704.5,403.4 L701.1,405.9 L698.0,408.5 L695.0,411.4 L692.2,414.5 L689.7,417.9 L687.7,421.6 L686.1,425.5 L684.9,429.4 L684.0,433.4 L683.4,437.3 L683.0,441.2 L682.9,445.0 L683.0,448.8 L683.4,452.6 L684.1,456.5 L685.0,460.3 L686.1,464.0 L687.5,467.6 L689.0,471.2 L690.8,474.7 L692.7,478.1 L695.0,481.3 L697.5,484.5 L700.2,487.7 L703.0,490.8 L706.0,493.8 L709.2,496.6 L712.4,499.3 L715.9,501.9 L719.7,504.4 L723.9,506.6 L728.1,508.6 L732.2,510.4 L736.1,512.0 L739.6,513.4 L742.4,514.4 L744.4,515.2Z" fill="#f5bf9b" opacity="0.85"/><path d="M752.0,499.9 L750.0,498.6 L747.2,497.1 L744.0,495.3 L740.6,493.4 L737.2,491.4 L733.9,489.3 L731.0,487.3 L728.8,485.3 L726.6,483.3 L724.4,481.1 L722.2,478.7 L720.1,476.1 L718.1,473.6 L716.3,471.0 L714.7,468.4 L713.3,465.9 L712.0,463.5 L710.8,461.1 L709.8,458.7 L708.9,456.3 L708.1,453.9 L707.6,451.6 L707.2,449.4 L707.0,447.2 L706.9,444.9 L707.0,442.6 L707.2,440.2 L707.5,437.9 L708.0,435.7 L708.7,433.7 L709.4,431.8 L710.3,430.1 L711.3,428.4 L712.6,426.5 L714.2,424.6 L716.1,422.7 L718.1,420.8 L720.4,419.0 L722.8,417.3 L725.3,415.6 L727.9,414.1 L730.7,412.7 L733.8,411.3 L737.1,410.0 L740.7,408.7 L744.4,407.5 L748.2,406.4 L752.1,405.3 L756.0,404.3 L760.0,403.4 L764.2,402.6 L768.4,401.9 L772.7,401.2 L777.1,400.6 L781.4,400.0 L785.7,399.5 L790.0,399.1 L794.3,398.7 L798.5,398.4 L802.8,398.2 L807.0,398.0 L811.2,397.9 L815.4,397.9 L819.7,398.0 L823.9,398.2 L828.2,398.5 L832.5,398.8 L836.8,399.2 L841.0,399.7 L845.2,400.3 L849.3,401.0 L853.3,401.8 L857.3,402.8 L861.3,403.9 L865.4,405.2 L869.3,406.5 L873.2,407.9 L877.1,409.5 L880.8,411.1 L884.5,412.7 L888.0,414.5 L891.5,416.3 L895.0,418.2 L898.3,420.2 L901.5,422.3 L904.5,424.4 L907.4,426.6 L910.2,428.9 L913.0,431.4 L915.6,433.9 L918.1,436.6 L920.6,439.3 L922.9,442.1 L925.0,445.0 L927.0,448.0 L928.9,450.9 L930.6,454.0 L932.2,457.2 L933.6,460.6 L935.0,464.0 L936.2,467.6 L937.4,471.2 L938.4,474.8 L939.3,478.5 L940.2,482.1 L940.9,485.7 L941.5,489.5 L942.0,493.4 L942.4,497.2 L942.7,501.0 L942.9,504.6 L943.0,508.1 L942.9,511.4 L942.7,514.9 L942.3,518.5 L941.8,522.1 L941.3,525.5 L940.8,528.7 L940.4,531.5 L940.1,533.6" fill="none" stroke="#e08d62" stroke-width="1" opacity="0.8"/><path d="M744.4,515.2 L742.4,514.4 L739.6,513.4 L736.1,512.0 L732.2,510.4 L728.1,508.6 L723.9,506.6 L719.7,504.4 L715.9,501.9 L712.4,499.3 L709.2,496.6 L706.0,493.8 L703.0,490.8 L700.2,487.7 L697.5,484.5 L695.0,481.3 L692.7,478.1 L690.8,474.7 L689.0,471.2 L687.5,467.6 L686.1,464.0 L685.0,460.3 L684.1,456.5 L683.4,452.6 L683.0,448.8 L682.9,445.0 L683.0,441.2 L683.4,437.3 L684.0,433.4 L684.9,429.4 L686.1,425.5 L687.7,421.6 L689.7,417.9 L692.2,414.5 L695.0,411.4 L698.0,408.5 L701.1,405.9 L704.5,403.4 L707.9,401.2 L711.5,399.1 L715.2,397.2 L719.0,395.4 L723.0,393.8 L727.1,392.4 L731.2,391.1 L735.4,390.0 L739.6,389.0 L743.8,388.1 L748.0,387.2 L752.4,386.3 L756.9,385.6 L761.4,384.9 L766.0,384.3 L770.6,383.7 L775.2,383.3 L779.8,382.9 L784.3,382.5 L788.8,382.2 L793.2,382.0 L797.7,381.8 L802.2,381.7 L806.8,381.6 L811.3,381.7 L815.8,381.8 L820.3,382.0 L824.8,382.2 L829.4,382.5 L833.9,382.9 L838.5,383.3 L843.1,383.8 L847.6,384.5 L852.2,385.3 L856.7,386.2 L861.2,387.2 L865.7,388.3 L870.1,389.5 L874.5,390.9 L878.9,392.3 L883.2,393.9 L887.4,395.5 L891.5,397.3 L895.5,399.1 L899.5,401.0 L903.4,403.0 L907.2,405.2 L911.0,407.4 L914.7,409.8 L918.3,412.4 L921.8,415.1 L925.1,417.9 L928.3,420.8 L931.4,423.9 L934.4,427.1 L937.3,430.4 L940.1,433.8 L942.7,437.4 L945.1,441.1 L947.4,444.9 L949.5,448.8 L951.4,452.9 L953.1,457.0 L954.7,461.1 L956.2,465.2 L957.5,469.4 L958.7,473.5 L959.7,477.8 L960.6,482.2 L961.3,486.6 L961.9,491.0 L962.3,495.4 L962.7,499.6 L962.9,503.8 L963.0,507.9 L962.9,512.2 L962.6,516.6 L962.2,520.9 L961.7,524.9 L961.1,528.6 L960.6,531.8 L960.2,534.4 L959.9,536.4" fill="none" stroke="#dd8555" stroke-width="1" opacity="0.9"/><path d="M748.0,508.0 L745.9,507.0 L743.2,505.7 L739.8,504.1 L736.2,502.4 L732.4,500.5 L728.6,498.4 L725.1,496.2 L722.0,494.0 L719.2,491.6 L716.5,489.1 L713.9,486.4 L711.4,483.6 L709.0,480.7 L706.8,477.8 L704.8,474.9 L703.0,472.0 L701.4,469.1 L699.9,466.1 L698.6,463.1 L697.5,460.1 L696.6,457.1 L695.8,454.0 L695.3,451.0 L695.0,448.0 L694.9,445.0 L695.0,441.9 L695.3,438.7 L695.8,435.6 L696.5,432.6 L697.4,429.6 L698.6,426.7 L700.0,424.0 L701.7,421.4 L703.7,418.9 L706.0,416.5 L708.4,414.1 L711.1,411.9 L713.9,409.8 L716.9,407.8 L720.0,406.0 L723.2,404.3 L726.7,402.8 L730.3,401.4 L734.1,400.2 L737.9,399.0 L741.9,398.0 L745.9,397.0 L750.0,396.0 L754.1,395.1 L758.4,394.3 L762.8,393.6 L767.2,392.9 L771.7,392.4 L776.1,391.9 L780.6,391.4 L785.0,391.0 L789.4,390.6 L793.8,390.4 L798.1,390.1 L802.5,389.9 L806.9,389.8 L811.2,389.8 L815.6,389.9 L820.0,390.0 L824.4,390.2 L828.8,390.5 L833.2,390.8 L837.6,391.2 L842.0,391.8 L846.4,392.4 L850.7,393.1 L855.0,394.0 L859.3,395.0 L863.5,396.1 L867.7,397.3 L871.9,398.7 L876.1,400.1 L880.1,401.7 L884.1,403.3 L888.0,405.0 L891.8,406.8 L895.5,408.7 L899.2,410.6 L902.8,412.7 L906.2,414.8 L909.6,417.1 L912.9,419.5 L916.0,422.0 L919.0,424.6 L922.0,427.4 L924.8,430.2 L927.5,433.2 L930.1,436.3 L932.5,439.4 L934.9,442.7 L937.0,446.0 L939.0,449.4 L940.8,453.0 L942.5,456.7 L944.1,460.5 L945.5,464.3 L946.8,468.2 L947.9,472.1 L949.0,476.0 L949.9,479.9 L950.7,484.0 L951.4,488.1 L951.9,492.2 L952.4,496.3 L952.7,500.3 L952.9,504.2 L953.0,508.0 L952.9,511.8 L952.7,515.7 L952.3,519.7 L951.8,523.5 L951.2,527.1 L950.7,530.3 L950.3,533.0 L950.0,535.0" fill="none" stroke="#e68c5c" stroke-width="0.9" opacity="0.8"/><g filter="url(#bl1)"><path d="M806.0,377.0 C814.3,373.0 813.3,375.3 828.0,376.0 C842.7,376.7 841.7,373.7 850.0,379.0 C858.3,384.3 853.7,384.7 853.0,392.0 C852.3,399.3 857.0,398.7 848.0,401.0 C839.0,403.3 839.3,400.0 826.0,399.0 C812.7,398.0 815.7,401.7 808.0,398.0 C800.3,394.3 803.7,395.0 803.0,388.0 C802.3,381.0 797.7,381.0 806.0,377.0Z" fill="#fce9de" opacity="0.55"/><path d="M868.0,392.0 C877.7,390.3 876.0,391.3 895.0,400.0 C914.0,408.7 908.3,404.7 925.0,418.0 C941.7,431.3 940.7,430.0 945.0,440.0 C949.3,450.0 948.0,450.7 938.0,448.0 C928.0,445.3 931.0,442.7 915.0,432.0 C899.0,421.3 906.3,425.0 890.0,416.0 C873.7,407.0 873.3,413.0 866.0,405.0 C858.7,397.0 858.3,393.7 868.0,392.0Z" fill="#fbe4d7" opacity="0.38"/><path d="M735.0,392.0 C742.3,386.7 744.7,384.7 752.0,388.0 C759.3,391.3 760.3,394.7 757.0,402.0 C753.7,409.3 751.0,409.3 742.0,410.0 C733.0,410.7 732.3,410.0 730.0,404.0 C727.7,398.0 727.7,397.3 735.0,392.0Z" fill="#fbe4d7" opacity="0.4"/></g><path d="M905.0,514.0 C896.7,517.0 898.3,516.3 880.0,523.0 C861.7,529.7 870.0,526.7 850.0,534.0 C830.0,541.3 839.3,540.0 820.0,545.0 C800.7,550.0 810.3,549.7 792.0,549.0 C773.7,548.3 779.7,548.7 765.0,543.0 C750.3,537.3 753.7,535.7 748.0,532.0" fill="none" stroke="#f6c46f" stroke-width="11" stroke-linecap="round"/><ellipse cx="897" cy="520" rx="13" ry="8.5" fill="#f6c46a"/><ellipse cx="905" cy="513" rx="9" ry="7" fill="#f6c46a"/><ellipse cx="920" cy="516" rx="4" ry="7" fill="#f5cf6a"/><path d="M698.0,583.0 C690.3,586.7 692.7,587.3 675.0,594.0 C657.3,600.7 665.0,597.7 645.0,603.0 C625.0,608.3 625.0,607.7 615.0,610.0" fill="none" stroke="#f7cfa6" stroke-width="11" opacity="0.85"/><path d="M753.0,537.0 C747.3,542.0 748.3,541.0 736.0,552.0 C723.7,563.0 728.7,559.7 716.0,570.0 C703.3,580.3 704.0,578.7 698.0,583.0" fill="none" stroke="#f6c885" stroke-width="11" opacity="0.95"/><path d="M700.0,576.0 C690.7,580.0 692.0,580.7 672.0,588.0 C652.0,595.3 662.3,591.7 640.0,598.0 C617.7,604.3 627.7,602.7 605.0,607.0 C582.3,611.3 583.0,609.7 572.0,611.0" fill="none" stroke="#f5c79d" stroke-width="16" opacity="0.75"/><path d="M845.0,590.0 C848.3,580.7 846.3,585.0 852.0,582.0 C857.7,579.0 854.3,578.3 862.0,581.0 C869.7,583.7 862.3,588.7 875.0,590.0 C887.7,591.3 880.0,585.0 900.0,585.0 C920.0,585.0 917.7,584.0 935.0,590.0 C952.3,596.0 945.3,593.0 952.0,603.0 C958.7,613.0 955.7,607.7 955.0,620.0 C954.3,632.3 956.7,624.0 950.0,640.0 C943.3,656.0 946.7,651.3 935.0,668.0 C923.3,684.7 928.3,678.3 915.0,690.0 C901.7,701.7 909.3,699.7 895.0,703.0 C880.7,706.3 884.3,706.0 872.0,700.0 C859.7,694.0 865.3,696.7 858.0,685.0 C850.7,673.3 854.3,680.0 850.0,665.0 C845.7,650.0 847.7,658.3 845.0,640.0 C842.3,621.7 842.0,626.7 842.0,610.0 C842.0,593.3 841.7,599.3 845.0,590.0Z" fill="#e9c98d" opacity="0.95"/><path d="M845,640 Q846,665 858,685 Q868,698 880,702" fill="none" stroke="#f0d468" stroke-width="5" opacity="0.9" stroke-linecap="round"/><path d="M925,586 Q948,596 954,612 Q956,628 948,645 L930,650" fill="none" stroke="#f1d666" stroke-width="6" opacity="0.95" stroke-linecap="round"/><ellipse cx="857" cy="594" rx="16" ry="13" fill="#f2d662"/><path d="M832.0,553.0 C832.0,543.3 838.3,550.3 850.0,546.0 C861.7,541.7 852.7,544.7 867.0,540.0 C881.3,535.3 875.0,535.3 893.0,532.0 C911.0,528.7 908.7,524.7 921.0,530.0 C933.3,535.3 923.7,533.0 930.0,548.0 C936.3,563.0 934.3,557.7 940.0,575.0 C945.7,592.3 944.0,584.3 947.0,600.0 C950.0,615.7 954.0,612.7 949.0,622.0 C944.0,631.3 946.7,622.0 932.0,628.0 C917.3,634.0 919.0,642.7 905.0,640.0 C891.0,637.3 900.7,634.0 890.0,620.0 C879.3,606.0 886.3,613.0 873.0,598.0 C859.7,583.0 863.7,590.0 850.0,575.0 C836.3,560.0 832.0,562.7 832.0,553.0Z" fill="#9dd1a8" stroke="#8cc39b" stroke-width="1"/><ellipse cx="918" cy="498" rx="6" ry="9" fill="#9ed2a9" stroke="#86c198" stroke-width="0.8"/><ellipse cx="921" cy="515" rx="8" ry="9" fill="#9ed2a9" stroke="#86c198" stroke-width="0.8"/><ellipse cx="915" cy="532" rx="9" ry="9" fill="#9ed2a9" stroke="#86c198" stroke-width="0.8"/><ellipse cx="908" cy="546" rx="9" ry="8" fill="#9ed2a9" stroke="#86c198" stroke-width="0.8"/><path d="M883,543 L945,672" fill="none" stroke="#b27db6" stroke-width="23" stroke-linecap="round"/><path d="M925,630 L950,680" fill="none" stroke="#cfa0bd" stroke-width="23" stroke-linecap="butt" opacity="0.7"/><path d="M732.4,450.0 C732.4,437.6 729.9,443.7 735.0,433.6 C740.1,423.5 734.3,427.7 747.6,419.8 C760.9,411.9 754.3,415.1 775.0,410.0 C795.7,404.9 786.6,405.5 809.6,404.6 C832.6,403.7 823.3,403.7 844.0,407.4 C864.7,411.1 853.3,407.0 871.6,415.7 C889.9,424.4 884.3,419.8 899.0,433.6 C913.7,447.4 906.9,441.4 915.7,457.0 C924.5,472.6 921.7,466.2 925.4,480.5 C929.1,494.8 928.6,491.1 926.8,499.8 C925.0,508.5 929.3,503.0 920.0,506.7 C910.7,510.4 912.8,507.6 899.0,510.8 C885.2,514.0 892.2,510.8 878.5,516.3 C864.8,521.8 871.6,519.9 857.8,527.3 C844.0,534.7 850.8,532.4 837.0,538.4 C823.2,544.4 830.2,543.0 816.5,545.3 C802.8,547.6 809.6,547.2 795.8,545.3 C782.0,543.4 787.4,544.8 775.0,539.7 C762.6,534.6 767.7,537.8 758.6,530.0 C749.5,522.2 753.1,529.1 747.6,516.3 C742.1,503.5 746.2,506.7 742.0,491.5 C737.8,476.3 738.2,484.6 735.0,470.8 C731.8,457.0 732.4,462.4 732.4,450.0Z" fill="#a9b9d9"/><g clip-path="url(#thclip)"><path d="M732.4,450.0 C732.4,437.6 729.9,443.7 735.0,433.6 C740.1,423.5 734.3,427.7 747.6,419.8 C760.9,411.9 754.3,415.1 775.0,410.0 C795.7,404.9 786.6,405.5 809.6,404.6 C832.6,403.7 823.3,403.7 844.0,407.4 C864.7,411.1 853.3,407.0 871.6,415.7 C889.9,424.4 884.3,419.8 899.0,433.6 C913.7,447.4 906.9,441.4 915.7,457.0 C924.5,472.6 921.7,466.2 925.4,480.5 C929.1,494.8 928.6,491.1 926.8,499.8 C925.0,508.5 929.3,503.0 920.0,506.7 C910.7,510.4 912.8,507.6 899.0,510.8 C885.2,514.0 892.2,510.8 878.5,516.3 C864.8,521.8 871.6,519.9 857.8,527.3 C844.0,534.7 850.8,532.4 837.0,538.4 C823.2,544.4 830.2,543.0 816.5,545.3 C802.8,547.6 809.6,547.2 795.8,545.3 C782.0,543.4 787.4,544.8 775.0,539.7 C762.6,534.6 767.7,537.8 758.6,530.0 C749.5,522.2 753.1,529.1 747.6,516.3 C742.1,503.5 746.2,506.7 742.0,491.5 C737.8,476.3 738.2,484.6 735.0,470.8 C731.8,457.0 732.4,462.4 732.4,450.0Z" fill="none" stroke="#8fa3cf" stroke-width="14" filter="url(#bl3)" opacity="0.8"/><g fill="#d3dcec" filter="url(#bl4)" opacity="0.95"><ellipse cx="756" cy="439" rx="14" ry="10" transform="rotate(-20 756 439)"/><ellipse cx="766" cy="484" rx="12" ry="17" transform="rotate(10 766 484)"/><ellipse cx="806" cy="430" rx="24" ry="16" transform="rotate(-5 806 430)"/><ellipse cx="814" cy="476" rx="21" ry="18" transform="rotate(0 814 476)"/><ellipse cx="865" cy="443" rx="20" ry="20" transform="rotate(0 865 443)"/><ellipse cx="880" cy="481" rx="27" ry="6" transform="rotate(-18 880 481)"/><ellipse cx="873" cy="503" rx="28" ry="5.5" transform="rotate(-15 873 503)"/><ellipse cx="806" cy="510" rx="24" ry="5" transform="rotate(-12 806 510)"/><ellipse cx="785" cy="452" rx="5" ry="18" transform="rotate(0 785 452)"/></g><g fill="none" stroke="#8c9fca" stroke-width="5" opacity="0.55" filter="url(#bl2)"><path d="M733.0,453.0 C740.2,455.3 740.5,458.0 754.5,459.8 C768.5,461.6 768.2,458.9 775.0,458.4"/><path d="M775.0,413.0 C776.0,420.7 777.0,421.0 778.0,436.0 C779.0,451.0 775.7,444.0 778.0,458.0 C780.3,472.0 780.4,464.0 785.0,478.0 C789.6,492.0 785.8,491.3 791.7,500.0 C797.6,508.7 799.0,502.7 802.7,504.0"/><path d="M837.0,413.0 C837.0,424.3 834.7,427.3 837.0,447.0 C839.3,466.7 839.3,460.8 844.0,472.0 C848.7,483.2 848.7,477.7 851.0,480.5"/><path d="M802.7,504.0 C811.8,502.0 813.9,505.8 830.0,498.0 C846.1,490.2 834.3,489.8 851.0,480.5 C867.7,471.2 861.7,476.0 880.0,470.0 C898.3,464.0 897.3,465.0 906.0,462.5"/><path d="M808.0,453.0 C812.0,451.7 812.7,451.0 820.0,449.0 C827.3,447.0 826.7,447.7 830.0,447.0"/><path d="M878.5,429.5 C885.3,436.3 890.8,437.6 899.0,450.0 C907.2,462.4 901.7,461.1 903.0,466.7"/><path d="M750.0,517.7 C763.0,515.8 762.3,516.6 789.0,512.0 C815.7,507.4 809.3,510.0 830.0,504.0 C850.7,498.0 834.3,500.3 851.0,494.0 C867.7,487.7 858.7,490.3 880.0,485.0 C901.3,479.7 903.3,480.3 915.0,478.0"/><path d="M837.0,520.0 C848.0,515.0 849.0,512.7 870.0,505.0 C891.0,497.3 881.7,500.3 900.0,497.0 C918.3,493.7 916.7,495.7 925.0,495.0"/></g><g fill="none" stroke="#8d9fc6" stroke-width="1.1" opacity="0.9"><path d="M733.0,453.0 C740.2,455.3 740.5,458.0 754.5,459.8 C768.5,461.6 768.2,458.9 775.0,458.4"/><path d="M775.0,413.0 C776.0,420.7 777.0,421.0 778.0,436.0 C779.0,451.0 775.7,444.0 778.0,458.0 C780.3,472.0 780.4,464.0 785.0,478.0 C789.6,492.0 785.8,491.3 791.7,500.0 C797.6,508.7 799.0,502.7 802.7,504.0"/><path d="M837.0,413.0 C837.0,424.3 834.7,427.3 837.0,447.0 C839.3,466.7 839.3,460.8 844.0,472.0 C848.7,483.2 848.7,477.7 851.0,480.5"/><path d="M802.7,504.0 C811.8,502.0 813.9,505.8 830.0,498.0 C846.1,490.2 834.3,489.8 851.0,480.5 C867.7,471.2 861.7,476.0 880.0,470.0 C898.3,464.0 897.3,465.0 906.0,462.5"/><path d="M808.0,453.0 C812.0,451.7 812.7,451.0 820.0,449.0 C827.3,447.0 826.7,447.7 830.0,447.0"/><path d="M878.5,429.5 C885.3,436.3 890.8,437.6 899.0,450.0 C907.2,462.4 901.7,461.1 903.0,466.7"/><path d="M750.0,517.7 C763.0,515.8 762.3,516.6 789.0,512.0 C815.7,507.4 809.3,510.0 830.0,504.0 C850.7,498.0 834.3,500.3 851.0,494.0 C867.7,487.7 858.7,490.3 880.0,485.0 C901.3,479.7 903.3,480.3 915.0,478.0"/><path d="M837.0,520.0 C848.0,515.0 849.0,512.7 870.0,505.0 C891.0,497.3 881.7,500.3 900.0,497.0 C918.3,493.7 916.7,495.7 925.0,495.0"/></g><path d="M748.0,520.0 C752.3,515.0 754.3,519.3 770.0,517.0 C785.7,514.7 780.0,515.3 795.0,513.0 C810.0,510.7 807.0,506.0 815.0,510.0 C823.0,514.0 817.3,513.0 819.0,525.0 C820.7,537.0 827.7,538.3 820.0,546.0 C812.3,553.7 811.3,549.3 796.0,548.0 C780.7,546.7 787.0,547.3 774.0,542.0 C761.0,536.7 765.7,539.3 757.0,532.0 C748.3,524.7 743.7,525.0 748.0,520.0Z" fill="#9a9ad9" opacity="0.9" filter="url(#bl1)"/><path d="M752,521 Q785,516 815,509" fill="none" stroke="#bcc0ea" stroke-width="4" opacity="0.8" filter="url(#bl1)"/></g><path d="M732.4,450.0 C732.4,437.6 729.9,443.7 735.0,433.6 C740.1,423.5 734.3,427.7 747.6,419.8 C760.9,411.9 754.3,415.1 775.0,410.0 C795.7,404.9 786.6,405.5 809.6,404.6 C832.6,403.7 823.3,403.7 844.0,407.4 C864.7,411.1 853.3,407.0 871.6,415.7 C889.9,424.4 884.3,419.8 899.0,433.6 C913.7,447.4 906.9,441.4 915.7,457.0 C924.5,472.6 921.7,466.2 925.4,480.5 C929.1,494.8 928.6,491.1 926.8,499.8 C925.0,508.5 929.3,503.0 920.0,506.7 C910.7,510.4 912.8,507.6 899.0,510.8 C885.2,514.0 892.2,510.8 878.5,516.3 C864.8,521.8 871.6,519.9 857.8,527.3 C844.0,534.7 850.8,532.4 837.0,538.4 C823.2,544.4 830.2,543.0 816.5,545.3 C802.8,547.6 809.6,547.2 795.8,545.3 C782.0,543.4 787.4,544.8 775.0,539.7 C762.6,534.6 767.7,537.8 758.6,530.0 C749.5,522.2 753.1,529.1 747.6,516.3 C742.1,503.5 746.2,506.7 742.0,491.5 C737.8,476.3 738.2,484.6 735.0,470.8 C731.8,457.0 732.4,462.4 732.4,450.0Z" fill="none" stroke="#9eb0d2" stroke-width="1.3"/><path d="M796,558 Q793,568 792,578" fill="none" stroke="#58b6d2" stroke-width="5" stroke-linecap="round"/><ellipse cx="788.5" cy="585" rx="14" ry="10.5" fill="url(#pitg)"/><ellipse cx="780" cy="584" rx="6" ry="7" fill="#4fb0cf"/><ellipse cx="797" cy="583" rx="6" ry="7.5" fill="#55b6d3"/><ellipse cx="721" cy="607" rx="30" ry="22" fill="url(#amyg)" stroke="#de8a8a" stroke-width="1"/><path d="M699.0,617.3 C702.8,610.2 699.2,612.8 707.4,609.0 C715.6,605.2 715.5,607.1 723.7,605.8 C731.9,604.5 727.6,604.4 732.0,605.0 C736.4,605.6 732.5,606.2 736.8,607.5 C741.1,608.8 738.4,606.8 745.0,609.0 C751.6,611.2 744.5,610.1 756.5,614.0 C768.5,617.9 764.6,618.9 781.0,620.6 C797.4,622.3 788.4,621.7 805.6,619.0 C822.8,616.3 812.7,618.4 832.7,612.4 C852.7,606.4 845.8,609.7 865.5,601.0 C885.2,592.3 876.4,596.6 891.7,586.2 C907.0,575.8 901.5,578.5 911.3,569.8 C921.1,561.1 915.3,568.3 921.0,560.0 C926.7,551.7 925.2,555.7 928.5,545.0 C931.8,534.3 929.7,543.5 931.0,528.0 C932.3,512.5 933.2,517.4 932.5,498.5 C931.8,479.6 934.5,489.6 929.0,471.4 C923.5,453.2 928.0,461.5 916.0,444.0 C904.0,426.5 896.3,431.3 893.0,419.0 C889.7,406.7 892.3,403.3 906.0,407.0 C919.7,410.7 917.3,414.7 934.0,430.0 C950.7,445.3 946.9,436.2 956.0,453.0 C965.1,469.8 959.1,465.7 961.4,480.4 C963.7,495.1 962.8,486.5 963.0,497.0 C963.2,507.5 962.8,500.3 962.0,512.0 C961.2,523.7 962.3,517.3 960.5,532.0 C958.7,546.7 960.3,544.9 956.5,556.2 C952.7,567.5 954.8,557.6 949.0,566.0 C943.2,574.4 946.1,571.3 939.0,581.3 C931.9,591.3 935.8,584.5 927.7,596.0 C919.6,607.5 921.7,604.2 914.6,615.7 C907.5,627.2 911.9,623.3 906.4,630.4 C900.9,637.5 905.1,632.1 898.0,637.0 C890.9,641.9 893.7,639.6 885.0,645.0 C876.3,650.4 879.7,649.0 872.0,653.3 C864.3,657.6 869.7,656.4 862.0,658.0 C854.3,659.6 855.8,656.8 849.0,658.0 C842.2,659.2 847.0,659.8 841.6,661.5 C836.2,663.2 839.2,662.5 832.7,663.0 C826.2,663.5 828.9,661.9 822.0,663.0 C815.1,664.1 817.5,664.2 812.0,666.4 C806.5,668.6 812.1,668.6 805.6,669.7 C799.1,670.8 799.0,670.8 792.5,669.7 C786.0,668.6 792.5,667.0 786.0,666.4 C779.5,665.8 782.7,668.0 772.9,668.0 C763.1,668.0 766.3,668.6 756.5,666.4 C746.7,664.2 749.4,665.3 743.4,661.5 C737.4,657.7 741.8,656.1 738.5,655.0 C735.2,653.9 739.6,657.1 733.6,658.2 C727.6,659.3 729.2,660.4 720.5,658.2 C711.8,656.0 714.6,657.1 707.4,651.7 C700.2,646.3 702.8,649.0 699.0,641.9 C695.2,634.8 696.0,638.6 696.0,630.4 C696.0,622.2 695.2,624.4 699.0,617.3Z" fill="url(#hipg)" stroke="#dc8052" stroke-width="1.2"/><g filter="url(#bl4)" fill="#f9c9a0" opacity="0.85"><circle cx="718" cy="628" r="11"/><circle cx="755" cy="642" r="10"/><circle cx="790" cy="646" r="9"/><circle cx="830" cy="640" r="9"/><circle cx="868" cy="628" r="9"/><circle cx="900" cy="600" r="9"/><circle cx="925" cy="570" r="8"/></g><path d="M729.0,610.2 L728.8,611.0 L728.7,611.9 L728.9,613.0 L729.2,614.1 L729.8,615.4 L730.6,616.7 L731.7,618.1 L733.2,619.5 L735.1,619.9 L736.7,620.2 L738.0,620.4 L739.0,620.5 L739.8,620.6 L740.3,620.7 L740.7,620.8 L741.1,620.9 L741.4,621.0 L742.0,621.2 L742.8,621.7 L744.1,622.3 L745.7,623.2 L747.7,624.1 L750.0,625.0 L752.5,625.8 L755.0,626.7 L757.8,627.6 L760.9,628.6 L764.4,629.7 L768.0,630.7 L771.8,631.7 L775.7,632.5 L779.7,633.0 L783.5,633.3 L787.1,633.4 L790.7,633.3 L794.1,633.1 L797.6,632.8 L800.9,632.3 L804.2,631.9 L807.6,631.3 L811.1,630.7 L814.6,630.1 L818.1,629.3 L821.6,628.4 L825.2,627.5 L828.8,626.5 L832.5,625.5 L836.3,624.4 L840.2,623.2 L844.4,621.9 L848.7,620.5 L853.2,619.1 L857.6,617.5 L862.0,615.9 L866.4,614.2 L870.6,612.4 L874.5,610.6 L878.4,608.7 L882.1,606.8 L885.6,604.8 L889.1,602.7 L892.4,600.7 L895.6,598.6 L898.8,596.5 L902.0,594.2 L905.1,591.9 L908.0,589.5 L910.7,587.1 L913.3,584.9 L915.6,582.7 L917.8,580.8 L919.6,579.1 L921.3,577.7 L922.7,576.4 L924.1,575.2 L925.5,573.8 L927.0,572.4 L928.5,570.8 L929.9,569.0 L931.3,567.1 L932.5,565.1 L933.6,562.9 L934.7,560.7 L935.8,558.3 L936.8,555.9 L937.7,553.5 L938.6,550.9 L939.3,548.4 L939.8,545.9 L940.3,543.5 L940.6,541.1 L940.7,538.8 L940.8,536.5 L940.9,534.1 L941.0,531.6 L941.1,528.9 L941.2,525.7 L941.3,522.2 L941.5,518.5 L941.6,514.5 L941.7,510.4 L941.7,506.2 L941.6,502.2 L941.4,498.3 L941.1,494.6 L940.8,491.1 L940.4,487.5 L939.9,483.9 L939.3,480.3 L938.5,476.6 L937.5,472.9 L936.4,469.2 L935.0,465.5 L933.6,461.9 L931.9,458.2 L930.2,454.6 L928.2,450.9 L926.1,447.3 L923.8,443.8 L921.3,440.3 L918.4,436.6 L915.1,432.9 L911.5,429.2 L907.9,425.7 L904.5,422.4 L901.3,419.5 L898.7,417.1 L896.8,415.3 L893.0,419.0 L894.8,420.9 L897.4,423.4 L900.4,426.4 L903.7,429.8 L907.1,433.4 L910.4,437.0 L913.4,440.6 L916.0,444.0 L918.2,447.3 L920.2,450.7 L922.0,454.1 L923.7,457.6 L925.3,461.0 L926.7,464.5 L927.9,468.0 L929.0,471.4 L929.9,474.8 L930.7,478.1 L931.2,481.5 L931.7,484.8 L932.0,488.2 L932.2,491.6 L932.4,495.0 L932.5,498.5 L932.6,502.2 L932.5,506.0 L932.3,509.9 L932.1,513.9 L931.9,517.7 L931.6,521.4 L931.3,524.9 L931.0,528.0 L930.8,530.7 L930.6,533.2 L930.4,535.4 L930.1,537.4 L929.8,539.3 L929.5,541.2 L929.1,543.1 L928.5,545.0 L927.8,547.0 L927.0,549.0 L926.2,551.0 L925.2,553.0 L924.2,554.8 L923.1,556.7 L922.1,558.4 L921.0,560.0 L920.0,561.4 L919.0,562.7 L918.0,563.8 L916.9,564.8 L915.8,565.9 L914.5,567.0 L913.0,568.3 L911.3,569.8 L909.4,571.5 L907.3,573.5 L905.0,575.5 L902.5,577.7 L900.0,579.9 L897.3,582.1 L894.5,584.2 L891.7,586.2 L888.8,588.1 L885.8,590.1 L882.6,592.0 L879.4,593.9 L876.1,595.8 L872.7,597.6 L869.1,599.3 L865.5,601.0 L861.7,602.6 L857.6,604.2 L853.4,605.7 L849.2,607.2 L844.9,608.6 L840.7,610.0 L836.6,611.2 L832.7,612.4 L829.0,613.5 L825.5,614.5 L822.0,615.4 L818.6,616.3 L815.3,617.1 L812.1,617.8 L808.8,618.4 L805.6,619.0 L802.4,619.5 L799.3,619.9 L796.2,620.3 L793.1,620.6 L790.1,620.8 L787.1,620.9 L784.1,620.8 L781.0,620.6 L777.8,620.2 L774.6,619.5 L771.2,618.7 L767.9,617.7 L764.7,616.7 L761.7,615.7 L758.9,614.8 L756.5,614.0 L754.4,613.3 L752.6,612.6 L751.1,611.9 L749.7,611.2 L748.5,610.5 L747.3,610.0 L746.2,609.4 L745.0,609.0 L743.8,608.7 L742.6,608.4 L741.5,608.2 L740.5,608.1 L739.5,608.0 L738.5,607.9 L737.6,607.7 L736.8,607.5 L736.0,607.2 L735.2,606.9 L734.5,606.5 L733.9,606.2 L733.3,605.8 L732.8,605.5 L732.3,605.2 L732.0,605.0Z" fill="#f2a57d" opacity="0.95"/><path d="M729.0,610.2 L728.8,611.0 L728.7,611.9 L728.9,613.0 L729.2,614.1 L729.8,615.4 L730.6,616.7 L731.7,618.1 L733.2,619.5 L735.1,619.9 L736.7,620.2 L738.0,620.4 L739.0,620.5 L739.8,620.6 L740.3,620.7 L740.7,620.8 L741.1,620.9 L741.4,621.0 L742.0,621.2 L742.8,621.7 L744.1,622.3 L745.7,623.2 L747.7,624.1 L750.0,625.0 L752.5,625.8 L755.0,626.7 L757.8,627.6 L760.9,628.6 L764.4,629.7 L768.0,630.7 L771.8,631.7 L775.7,632.5 L779.7,633.0 L783.5,633.3 L787.1,633.4 L790.7,633.3 L794.1,633.1 L797.6,632.8 L800.9,632.3 L804.2,631.9 L807.6,631.3 L811.1,630.7 L814.6,630.1 L818.1,629.3 L821.6,628.4 L825.2,627.5 L828.8,626.5 L832.5,625.5 L836.3,624.4 L840.2,623.2 L844.4,621.9 L848.7,620.5 L853.2,619.1 L857.6,617.5 L862.0,615.9 L866.4,614.2 L870.6,612.4 L874.5,610.6 L878.4,608.7 L882.1,606.8 L885.6,604.8 L889.1,602.7 L892.4,600.7 L895.6,598.6 L898.8,596.5 L902.0,594.2 L905.1,591.9 L908.0,589.5 L910.7,587.1 L913.3,584.9 L915.6,582.7 L917.8,580.8 L919.6,579.1 L921.3,577.7 L922.7,576.4 L924.1,575.2 L925.5,573.8 L927.0,572.4 L928.5,570.8 L929.9,569.0 L931.3,567.1 L932.5,565.1 L933.6,562.9 L934.7,560.7 L935.8,558.3 L936.8,555.9 L937.7,553.5 L938.6,550.9 L939.3,548.4 L939.8,545.9 L940.3,543.5 L940.6,541.1 L940.7,538.8 L940.8,536.5 L940.9,534.1 L941.0,531.6 L941.1,528.9 L941.2,525.7 L941.3,522.2 L941.5,518.5 L941.6,514.5 L941.7,510.4 L941.7,506.2 L941.6,502.2 L941.4,498.3 L941.1,494.6 L940.8,491.1 L940.4,487.5 L939.9,483.9 L939.3,480.3 L938.5,476.6 L937.5,472.9 L936.4,469.2 L935.0,465.5 L933.6,461.9 L931.9,458.2 L930.2,454.6 L928.2,450.9 L926.1,447.3 L923.8,443.8 L921.3,440.3 L918.4,436.6 L915.1,432.9 L911.5,429.2 L907.9,425.7 L904.5,422.4 L901.3,419.5 L898.7,417.1 L896.8,415.3" fill="none" stroke="#dd8658" stroke-width="1.1"/><path d="M699.0,617.3 C702.8,610.2 699.2,612.8 707.4,609.0 C715.6,605.2 715.5,607.1 723.7,605.8 C731.9,604.5 727.6,604.4 732.0,605.0 C736.4,605.6 732.5,606.2 736.8,607.5 C741.1,608.8 738.4,606.8 745.0,609.0 C751.6,611.2 744.5,610.1 756.5,614.0 C768.5,617.9 764.6,618.9 781.0,620.6 C797.4,622.3 788.4,621.7 805.6,619.0 C822.8,616.3 812.7,618.4 832.7,612.4 C852.7,606.4 845.8,609.7 865.5,601.0 C885.2,592.3 876.4,596.6 891.7,586.2 C907.0,575.8 901.5,578.5 911.3,569.8 C921.1,561.1 915.3,568.3 921.0,560.0 C926.7,551.7 925.2,555.7 928.5,545.0 C931.8,534.3 929.7,543.5 931.0,528.0 C932.3,512.5 933.2,517.4 932.5,498.5 C931.8,479.6 934.5,489.6 929.0,471.4 C923.5,453.2 928.0,461.5 916.0,444.0 C904.0,426.5 896.3,431.3 893.0,419.0 C889.7,406.7 892.3,403.3 906.0,407.0 C919.7,410.7 917.3,414.7 934.0,430.0 C950.7,445.3 946.9,436.2 956.0,453.0 C965.1,469.8 959.1,465.7 961.4,480.4 C963.7,495.1 962.8,486.5 963.0,497.0 C963.2,507.5 962.8,500.3 962.0,512.0 C961.2,523.7 962.3,517.3 960.5,532.0 C958.7,546.7 960.3,544.9 956.5,556.2 C952.7,567.5 954.8,557.6 949.0,566.0 C943.2,574.4 946.1,571.3 939.0,581.3 C931.9,591.3 935.8,584.5 927.7,596.0 C919.6,607.5 921.7,604.2 914.6,615.7 C907.5,627.2 911.9,623.3 906.4,630.4 C900.9,637.5 905.1,632.1 898.0,637.0 C890.9,641.9 893.7,639.6 885.0,645.0 C876.3,650.4 879.7,649.0 872.0,653.3 C864.3,657.6 869.7,656.4 862.0,658.0 C854.3,659.6 855.8,656.8 849.0,658.0 C842.2,659.2 847.0,659.8 841.6,661.5 C836.2,663.2 839.2,662.5 832.7,663.0 C826.2,663.5 828.9,661.9 822.0,663.0 C815.1,664.1 817.5,664.2 812.0,666.4 C806.5,668.6 812.1,668.6 805.6,669.7 C799.1,670.8 799.0,670.8 792.5,669.7 C786.0,668.6 792.5,667.0 786.0,666.4 C779.5,665.8 782.7,668.0 772.9,668.0 C763.1,668.0 766.3,668.6 756.5,666.4 C746.7,664.2 749.4,665.3 743.4,661.5 C737.4,657.7 741.8,656.1 738.5,655.0 C735.2,653.9 739.6,657.1 733.6,658.2 C727.6,659.3 729.2,660.4 720.5,658.2 C711.8,656.0 714.6,657.1 707.4,651.7 C700.2,646.3 702.8,649.0 699.0,641.9 C695.2,634.8 696.0,638.6 696.0,630.4 C696.0,622.2 695.2,624.4 699.0,617.3Z" fill="none" stroke="#dc8052" stroke-width="1.2"/>
<path d="M516.6,575.0 C516.6,567.9 522.7,570.8 536.8,572.6 C550.9,574.4 544.1,573.4 559.0,580.5 C573.9,587.6 566.6,585.8 581.6,594.0 C596.6,602.2 596.5,599.0 604.0,605.0 C611.5,611.0 607.0,606.7 604.0,612.0 C601.0,617.3 604.7,617.3 595.0,621.0 C585.3,624.7 587.0,626.8 575.0,623.0 C563.0,619.2 571.7,619.3 559.0,609.6 C546.3,599.9 550.9,605.5 536.8,594.0 C522.7,582.5 516.6,582.1 516.6,575.0Z" fill="#f3c4a8" opacity="0.72" stroke="#d9b09d" stroke-width="1"/><path d="M568.0,598.0 C573.0,592.7 572.0,593.3 582.0,596.0 C592.0,598.7 591.7,599.3 598.0,606.0 C604.3,612.7 603.0,610.0 601.0,616.0 C599.0,622.0 600.3,621.7 592.0,624.0 C583.7,626.3 584.3,627.0 576.0,623.0 C567.7,619.0 569.7,620.3 567.0,612.0 C564.3,603.7 563.0,603.3 568.0,598.0Z" fill="#f4c4a3" opacity="0.85" stroke="#e0b49b" stroke-width="0.8"/>
<g stroke="#2a2223" stroke-width="1.6" fill="none" stroke-linecap="butt">
<line x1="524" y1="102.5" x2="686" y2="295"/>
<line x1="1217.5" y1="87.5" x2="820" y2="468.5"/>
<line x1="1396" y1="268.5" x2="789.5" y2="530.5"/>
<line x1="1397" y1="487.5" x2="892" y2="556"/>
<line x1="1394" y1="752" x2="957.5" y2="752"/>
<line x1="1319" y1="883" x2="1059" y2="787"/>
<line x1="1123" y1="979" x2="1015" y2="885"/>
<line x1="811" y1="935" x2="853" y2="598.5"/>
<line x1="629" y1="839" x2="800.5" y2="647"/>
<line x1="392" y1="749.5" x2="713" y2="601"/>
<line x1="261.6" y1="612.3" x2="513.4" y2="612.3"/>
<line x1="388" y1="465" x2="782" y2="584"/>
</g>
<g fill="#2b2728" opacity="0.999">
<text x="322.9" y="96.9" font-size="24.6" font-weight="700" textLength="193.3" lengthAdjust="spacingAndGlyphs" fill="#1c1819">Cerebral Cortex</text>
<text x="154.7" y="136.6" font-size="24" font-weight="400" textLength="361.5" lengthAdjust="spacingAndGlyphs">Extensive, wrinkled outer layer</text>
<text x="141.5" y="168.8" font-size="24" font-weight="400" textLength="374.7" lengthAdjust="spacingAndGlyphs">of the forebrain; governs higher</text>
<text x="131.0" y="201.1" font-size="24" font-weight="400" textLength="385.2" lengthAdjust="spacingAndGlyphs">brain functions, such as thinking,</text>
<text x="181.0" y="233.2" font-size="24" font-weight="400" textLength="335.2" lengthAdjust="spacingAndGlyphs">learning, and consciousness</text>
<text x="214.6" y="468.2" font-size="24" font-weight="400" textLength="167.5" lengthAdjust="spacingAndGlyphs">Pituitary gland</text>
<text x="213.9" y="619.1" font-size="24" font-weight="400" textLength="42.4" lengthAdjust="spacingAndGlyphs">Eye</text>
<text x="257.8" y="755.7" font-size="24.6" font-weight="700" textLength="122.8" lengthAdjust="spacingAndGlyphs" fill="#1c1819">Amygdala</text>
<text x="103.2" y="796.2" font-size="24" font-weight="400" textLength="277.4" lengthAdjust="spacingAndGlyphs">Involved in fear and the</text>
<text x="93.1" y="828.3" font-size="24" font-weight="400" textLength="287.5" lengthAdjust="spacingAndGlyphs">discrimination of objects</text>
<text x="87.1" y="860.7" font-size="24" font-weight="400" textLength="293.5" lengthAdjust="spacingAndGlyphs">necessary for organism’s</text>
<text x="292.2" y="892.8" font-size="24" font-weight="400" textLength="88.4" lengthAdjust="spacingAndGlyphs">survival</text>
<text x="495.1" y="860.7" font-size="24.6" font-weight="700" textLength="168.2" lengthAdjust="spacingAndGlyphs" fill="#1c1819">Hippocampus</text>
<text x="495.1" y="901.6" font-size="24" font-weight="400" textLength="231.0" lengthAdjust="spacingAndGlyphs">Involved in memory</text>
<text x="780.8" y="957.1" font-size="24.6" font-weight="700" textLength="58.8" lengthAdjust="spacingAndGlyphs" fill="#1c1819">Pons</text>
<text x="780.8" y="997.8" font-size="24" font-weight="400" textLength="221.6" lengthAdjust="spacingAndGlyphs">Governs sleep and</text>
<text x="780.8" y="1030.4" font-size="24" font-weight="400" textLength="85.1" lengthAdjust="spacingAndGlyphs">arousal</text>
<text x="1126.7" y="997.6" font-size="24" font-weight="400" textLength="130.8" lengthAdjust="spacingAndGlyphs">Spinal cord</text>
<text x="1223.6" y="94.9" font-size="24.6" font-weight="700" textLength="118.5" lengthAdjust="spacingAndGlyphs" fill="#1c1819">Thalamus</text>
<text x="1223.6" y="127.3" font-size="24" font-weight="400" textLength="327.4" lengthAdjust="spacingAndGlyphs">Relays information between</text>
<text x="1223.6" y="159.4" font-size="24" font-weight="400" textLength="361.3" lengthAdjust="spacingAndGlyphs">lower and higher brain centers</text>
<text x="1405.8" y="273.8" font-size="24.6" font-weight="700" textLength="176.8" lengthAdjust="spacingAndGlyphs" fill="#1c1819">Hypothalamus</text>
<text x="1405.8" y="314.2" font-size="24" font-weight="400" textLength="295.2" lengthAdjust="spacingAndGlyphs">Governs eating, drinking,</text>
<text x="1405.8" y="346.6" font-size="24" font-weight="400" textLength="268.5" lengthAdjust="spacingAndGlyphs">and sex; plays a role in</text>
<text x="1405.8" y="378.9" font-size="24" font-weight="400" textLength="224.6" lengthAdjust="spacingAndGlyphs">emotion and stress</text>
<text x="1405.8" y="494.9" font-size="24.6" font-weight="700" textLength="239.9" lengthAdjust="spacingAndGlyphs" fill="#1c1819">Reticular Formation</text>
<text x="1405.8" y="537.1" font-size="24" font-weight="400" textLength="337.7" lengthAdjust="spacingAndGlyphs">Diffuse collection of neurons</text>
<text x="1405.8" y="569.2" font-size="24" font-weight="400" textLength="272.2" lengthAdjust="spacingAndGlyphs">involved in arousal and</text>
<text x="1405.8" y="601.5" font-size="24" font-weight="400" textLength="315.5" lengthAdjust="spacingAndGlyphs">stereotyped patterns, such</text>
<text x="1405.8" y="634.0" font-size="24" font-weight="400" textLength="123.1" lengthAdjust="spacingAndGlyphs">as walking</text>
<text x="1404.9" y="757.7" font-size="24.6" font-weight="700" textLength="95.4" lengthAdjust="spacingAndGlyphs" fill="#1c1819">Medulla</text>
<text x="1509.6" y="757.7" font-size="24" font-weight="400" textLength="82.9" lengthAdjust="spacingAndGlyphs">(green)</text>
<text x="1404.9" y="798.3" font-size="24" font-weight="400" textLength="270.4" lengthAdjust="spacingAndGlyphs">Governs breathing and</text>
<text x="1404.9" y="830.5" font-size="24" font-weight="400" textLength="91.4" lengthAdjust="spacingAndGlyphs">reflexes</text>
<text x="1325.6" y="897.8" font-size="24.6" font-weight="700" textLength="140.1" lengthAdjust="spacingAndGlyphs" fill="#1c1819">Cerebellum</text>
<text x="1325.6" y="938.9" font-size="24" font-weight="400" textLength="352.8" lengthAdjust="spacingAndGlyphs">Rounded structure involved in</text>
<text x="1325.6" y="971.1" font-size="24" font-weight="400" textLength="223.7" lengthAdjust="spacingAndGlyphs">motor coordination</text>
</g>
</svg></body></html>
